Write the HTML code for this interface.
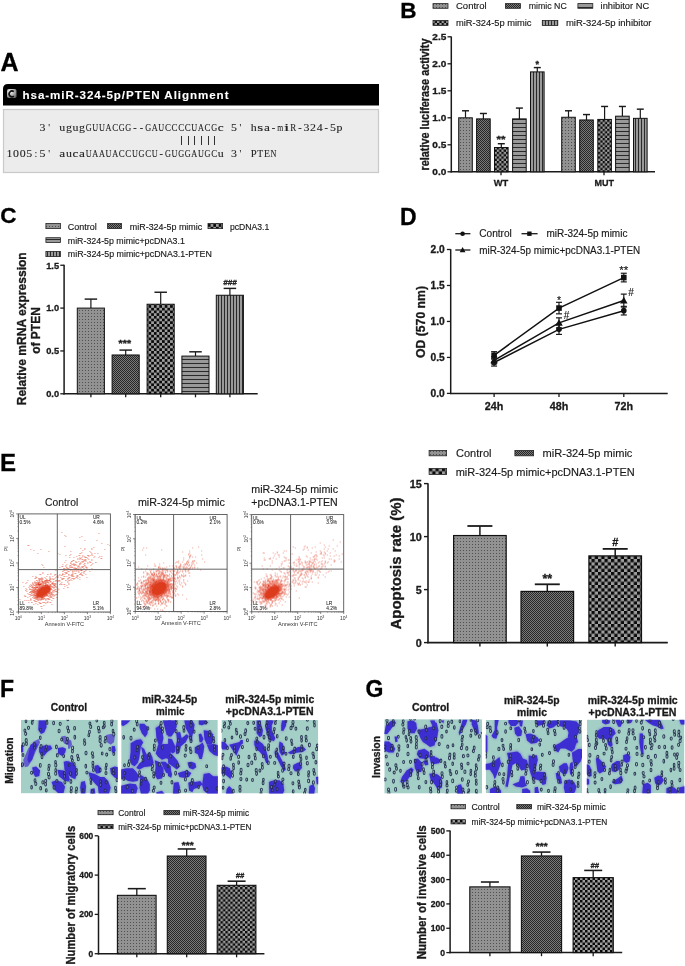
<!DOCTYPE html><html><head><meta charset="utf-8"><style>html,body{margin:0;padding:0;background:#fff;overflow:hidden;-webkit-font-smoothing:antialiased}text{-webkit-font-smoothing:antialiased}svg{display:block;will-change:transform}</style></head><body>
<svg width="685" height="966" viewBox="0 0 685 966" font-family='"Liberation Sans", sans-serif'>
<defs>
<pattern id="pDot" patternUnits="userSpaceOnUse" width="3" height="3"><rect width="3" height="3" fill="#929292"/><rect x="1" y="1" width="1" height="1" fill="#505050"/></pattern>
<pattern id="pFine" patternUnits="userSpaceOnUse" width="2" height="2"><rect width="2" height="2" fill="#7a7a7a"/><rect width="1" height="1" fill="#262626"/><rect x="1" y="1" width="1" height="1" fill="#262626"/></pattern>
<pattern id="pChkB" patternUnits="userSpaceOnUse" width="4.6" height="4.6"><rect width="4.6" height="4.6" fill="#9e9e9e"/><rect width="2.3" height="2.3" fill="#0a0a0a"/><rect x="2.3" y="2.3" width="2.3" height="2.3" fill="#0a0a0a"/></pattern>
<pattern id="pChkC" patternUnits="userSpaceOnUse" width="5.4" height="5.4"><rect width="5.4" height="5.4" fill="#9e9e9e"/><rect width="2.7" height="2.7" fill="#0a0a0a"/><rect x="2.7" y="2.7" width="2.7" height="2.7" fill="#0a0a0a"/></pattern>
<pattern id="pChkE" patternUnits="userSpaceOnUse" width="6.5" height="6.5"><rect width="6.5" height="6.5" fill="#9e9e9e"/><rect width="3.25" height="3.25" fill="#0a0a0a"/><rect x="3.25" y="3.25" width="3.25" height="3.25" fill="#0a0a0a"/></pattern>
<pattern id="pChkF" patternUnits="userSpaceOnUse" width="4.9" height="4.9"><rect width="4.9" height="4.9" fill="#9e9e9e"/><rect width="2.45" height="2.45" fill="#0a0a0a"/><rect x="2.45" y="2.45" width="2.45" height="2.45" fill="#0a0a0a"/></pattern>
<pattern id="pChkG" patternUnits="userSpaceOnUse" width="5.0" height="5.0"><rect width="5.0" height="5.0" fill="#9e9e9e"/><rect width="2.5" height="2.5" fill="#0a0a0a"/><rect x="2.5" y="2.5" width="2.5" height="2.5" fill="#0a0a0a"/></pattern>
<pattern id="pHS" patternUnits="userSpaceOnUse" width="4" height="4"><rect width="4" height="4" fill="#999"/><rect y="3" width="4" height="1" fill="#2a2a2a"/></pattern>
<pattern id="pVS" patternUnits="userSpaceOnUse" width="3" height="4"><rect width="3" height="4" fill="#999"/><rect x="2" width="1" height="4" fill="#2a2a2a"/></pattern>
<filter id="blur1" x="-20%" y="-20%" width="140%" height="140%"><feGaussianBlur stdDeviation="0.6"/></filter>
<filter id="blur2" x="-20%" y="-20%" width="140%" height="140%"><feGaussianBlur stdDeviation="1.2"/></filter>
<radialGradient id="icoG" cx="0.35" cy="0.3" r="0.8"><stop offset="0" stop-color="#fff"/><stop offset="1" stop-color="#666"/></radialGradient>
</defs>
<rect width="685" height="966" fill="#fff"/>
<text x="0.5" y="71" font-size="25" font-weight="bold" text-anchor="start" fill="#000" stroke="#000" stroke-width="0.3" >A</text>
<path d="M3,105.5 L3,89 Q3,84 8,84 L379,84 L379,105.5 Z" fill="#000"/>
<rect x="7" y="89" width="9.5" height="9" rx="1.8" fill="url(#icoG)"/>
<path d="M13.8,91.6 A2.9,2.9 0 1 0 13.8,96.2" fill="none" stroke="#111" stroke-width="1.6"/>
<text x="22.5" y="98.6" font-size="11.6" font-weight="bold" text-anchor="start" fill="#fff" stroke="#fff" stroke-width="0.1" textLength="206" lengthAdjust="spacing" >hsa-miR-324-5p/PTEN Alignment</text>
<rect x="3.50" y="109.50" width="375.00" height="63.00" fill="#ececec" stroke="#c9c9c9" stroke-width="1.2" />
<g font-size="10.2" fill="#222" font-family='"Liberation Serif", serif' stroke="#222" stroke-width="0.08"><text x="39.53" y="131.3" textLength="5.94" lengthAdjust="spacingAndGlyphs">3</text><text x="48.18" y="131.3" textLength="1.84" lengthAdjust="spacingAndGlyphs">&#39;</text><text x="59.33" y="131.3" textLength="5.94" lengthAdjust="spacingAndGlyphs">u</text><text x="65.93" y="131.3" textLength="5.94" lengthAdjust="spacingAndGlyphs">g</text><text x="72.53" y="131.3" textLength="5.94" lengthAdjust="spacingAndGlyphs">u</text><text x="79.13" y="131.3" textLength="5.94" lengthAdjust="spacingAndGlyphs">g</text><text x="85.73" y="131.3" textLength="5.94" lengthAdjust="spacingAndGlyphs">G</text><text x="92.33" y="131.3" textLength="5.94" lengthAdjust="spacingAndGlyphs">U</text><text x="98.93" y="131.3" textLength="5.94" lengthAdjust="spacingAndGlyphs">U</text><text x="105.53" y="131.3" textLength="5.94" lengthAdjust="spacingAndGlyphs">A</text><text x="112.13" y="131.3" textLength="5.94" lengthAdjust="spacingAndGlyphs">C</text><text x="118.73" y="131.3" textLength="5.94" lengthAdjust="spacingAndGlyphs">G</text><text x="125.33" y="131.3" textLength="5.94" lengthAdjust="spacingAndGlyphs">G</text><text x="133.20" y="131.3" textLength="3.40" lengthAdjust="spacingAndGlyphs">-</text><text x="139.80" y="131.3" textLength="3.40" lengthAdjust="spacingAndGlyphs">-</text><text x="145.13" y="131.3" textLength="5.94" lengthAdjust="spacingAndGlyphs">G</text><text x="151.73" y="131.3" textLength="5.94" lengthAdjust="spacingAndGlyphs">A</text><text x="158.33" y="131.3" textLength="5.94" lengthAdjust="spacingAndGlyphs">U</text><text x="164.93" y="131.3" textLength="5.94" lengthAdjust="spacingAndGlyphs">C</text><text x="171.53" y="131.3" textLength="5.94" lengthAdjust="spacingAndGlyphs">C</text><text x="178.13" y="131.3" textLength="5.94" lengthAdjust="spacingAndGlyphs">C</text><text x="184.73" y="131.3" textLength="5.94" lengthAdjust="spacingAndGlyphs">C</text><text x="191.33" y="131.3" textLength="5.94" lengthAdjust="spacingAndGlyphs">U</text><text x="197.93" y="131.3" textLength="5.94" lengthAdjust="spacingAndGlyphs">A</text><text x="204.53" y="131.3" textLength="5.94" lengthAdjust="spacingAndGlyphs">C</text><text x="211.13" y="131.3" textLength="5.94" lengthAdjust="spacingAndGlyphs">G</text><text x="217.73" y="131.3" textLength="5.94" lengthAdjust="spacingAndGlyphs">c</text><text x="230.93" y="131.3" textLength="5.94" lengthAdjust="spacingAndGlyphs">5</text><text x="239.58" y="131.3" textLength="1.84" lengthAdjust="spacingAndGlyphs">&#39;</text><text x="250.73" y="131.3" textLength="5.94" lengthAdjust="spacingAndGlyphs">h</text><text x="257.33" y="131.3" textLength="5.94" lengthAdjust="spacingAndGlyphs">s</text><text x="263.93" y="131.3" textLength="5.94" lengthAdjust="spacingAndGlyphs">a</text><text x="271.80" y="131.3" textLength="3.40" lengthAdjust="spacingAndGlyphs">-</text><text x="277.13" y="131.3" textLength="5.94" lengthAdjust="spacingAndGlyphs">m</text><text x="283.73" y="131.3" textLength="5.94" lengthAdjust="spacingAndGlyphs">i</text><text x="290.33" y="131.3" textLength="5.94" lengthAdjust="spacingAndGlyphs">R</text><text x="298.20" y="131.3" textLength="3.40" lengthAdjust="spacingAndGlyphs">-</text><text x="303.53" y="131.3" textLength="5.94" lengthAdjust="spacingAndGlyphs">3</text><text x="310.13" y="131.3" textLength="5.94" lengthAdjust="spacingAndGlyphs">2</text><text x="316.73" y="131.3" textLength="5.94" lengthAdjust="spacingAndGlyphs">4</text><text x="324.60" y="131.3" textLength="3.40" lengthAdjust="spacingAndGlyphs">-</text><text x="329.93" y="131.3" textLength="5.94" lengthAdjust="spacingAndGlyphs">5</text><text x="336.53" y="131.3" textLength="5.94" lengthAdjust="spacingAndGlyphs">p</text></g>
<g font-size="10.2" fill="#222" font-family='"Liberation Serif", serif' stroke="#222" stroke-width="0.08"><text x="6.53" y="157" textLength="5.94" lengthAdjust="spacingAndGlyphs">1</text><text x="13.13" y="157" textLength="5.94" lengthAdjust="spacingAndGlyphs">0</text><text x="19.73" y="157" textLength="5.94" lengthAdjust="spacingAndGlyphs">0</text><text x="26.33" y="157" textLength="5.94" lengthAdjust="spacingAndGlyphs">5</text><text x="34.48" y="157" textLength="2.83" lengthAdjust="spacingAndGlyphs">:</text><text x="39.53" y="157" textLength="5.94" lengthAdjust="spacingAndGlyphs">5</text><text x="48.18" y="157" textLength="1.84" lengthAdjust="spacingAndGlyphs">&#39;</text><text x="59.33" y="157" textLength="5.94" lengthAdjust="spacingAndGlyphs">a</text><text x="65.93" y="157" textLength="5.94" lengthAdjust="spacingAndGlyphs">u</text><text x="72.53" y="157" textLength="5.94" lengthAdjust="spacingAndGlyphs">c</text><text x="79.13" y="157" textLength="5.94" lengthAdjust="spacingAndGlyphs">a</text><text x="85.73" y="157" textLength="5.94" lengthAdjust="spacingAndGlyphs">U</text><text x="92.33" y="157" textLength="5.94" lengthAdjust="spacingAndGlyphs">A</text><text x="98.93" y="157" textLength="5.94" lengthAdjust="spacingAndGlyphs">A</text><text x="105.53" y="157" textLength="5.94" lengthAdjust="spacingAndGlyphs">U</text><text x="112.13" y="157" textLength="5.94" lengthAdjust="spacingAndGlyphs">A</text><text x="118.73" y="157" textLength="5.94" lengthAdjust="spacingAndGlyphs">C</text><text x="125.33" y="157" textLength="5.94" lengthAdjust="spacingAndGlyphs">C</text><text x="131.93" y="157" textLength="5.94" lengthAdjust="spacingAndGlyphs">U</text><text x="138.53" y="157" textLength="5.94" lengthAdjust="spacingAndGlyphs">G</text><text x="145.13" y="157" textLength="5.94" lengthAdjust="spacingAndGlyphs">C</text><text x="151.73" y="157" textLength="5.94" lengthAdjust="spacingAndGlyphs">U</text><text x="159.60" y="157" textLength="3.40" lengthAdjust="spacingAndGlyphs">-</text><text x="164.93" y="157" textLength="5.94" lengthAdjust="spacingAndGlyphs">G</text><text x="171.53" y="157" textLength="5.94" lengthAdjust="spacingAndGlyphs">U</text><text x="178.13" y="157" textLength="5.94" lengthAdjust="spacingAndGlyphs">G</text><text x="184.73" y="157" textLength="5.94" lengthAdjust="spacingAndGlyphs">G</text><text x="191.33" y="157" textLength="5.94" lengthAdjust="spacingAndGlyphs">A</text><text x="197.93" y="157" textLength="5.94" lengthAdjust="spacingAndGlyphs">U</text><text x="204.53" y="157" textLength="5.94" lengthAdjust="spacingAndGlyphs">G</text><text x="211.13" y="157" textLength="5.94" lengthAdjust="spacingAndGlyphs">C</text><text x="217.73" y="157" textLength="5.94" lengthAdjust="spacingAndGlyphs">u</text><text x="230.93" y="157" textLength="5.94" lengthAdjust="spacingAndGlyphs">3</text><text x="239.58" y="157" textLength="1.84" lengthAdjust="spacingAndGlyphs">&#39;</text><text x="250.73" y="157" textLength="5.94" lengthAdjust="spacingAndGlyphs">P</text><text x="257.33" y="157" textLength="5.94" lengthAdjust="spacingAndGlyphs">T</text><text x="263.93" y="157" textLength="5.94" lengthAdjust="spacingAndGlyphs">E</text><text x="270.53" y="157" textLength="5.94" lengthAdjust="spacingAndGlyphs">N</text></g>
<line x1="181.5" y1="136" x2="181.5" y2="145" stroke="#333" stroke-width="1.0"/>
<line x1="188.5" y1="136" x2="188.5" y2="145" stroke="#333" stroke-width="1.0"/>
<line x1="194.5" y1="136" x2="194.5" y2="145" stroke="#333" stroke-width="1.0"/>
<line x1="201.5" y1="136" x2="201.5" y2="145" stroke="#333" stroke-width="1.0"/>
<line x1="208.5" y1="136" x2="208.5" y2="145" stroke="#333" stroke-width="1.0"/>
<line x1="214.5" y1="136" x2="214.5" y2="145" stroke="#333" stroke-width="1.0"/>
<text x="400.3" y="17.6" font-size="22.5" font-weight="bold" text-anchor="start" fill="#000" stroke="#000" stroke-width="0.3" >B</text>
<rect x="433.00" y="3.60" width="15.00" height="4.70" fill="url(#pDot)" stroke="#222" stroke-width="0.8" />
<text x="456" y="8.9" font-size="9.5" text-anchor="start" fill="#1a1a1a" stroke="#1a1a1a" stroke-width="0.15" textLength="30.6" lengthAdjust="spacingAndGlyphs" >Control</text>
<rect x="505.40" y="3.60" width="15.00" height="4.70" fill="url(#pFine)" stroke="#222" stroke-width="0.8" />
<text x="528.8" y="8.9" font-size="9.5" text-anchor="start" fill="#1a1a1a" stroke="#1a1a1a" stroke-width="0.15" textLength="38" lengthAdjust="spacingAndGlyphs" >mimic NC</text>
<rect x="577.90" y="3.60" width="14.90" height="4.70" fill="url(#pHS)" stroke="#222" stroke-width="0.8" />
<text x="600.6" y="8.9" font-size="9.5" text-anchor="start" fill="#1a1a1a" stroke="#1a1a1a" stroke-width="0.15" textLength="48.5" lengthAdjust="spacingAndGlyphs" >inhibitor NC</text>
<rect x="433.00" y="20.40" width="15.00" height="5.10" fill="url(#pChkB)" stroke="#222" stroke-width="0.8" />
<text x="456" y="26.3" font-size="9.5" text-anchor="start" fill="#1a1a1a" stroke="#1a1a1a" stroke-width="0.15" textLength="75.5" lengthAdjust="spacingAndGlyphs" >miR-324-5p mimic</text>
<rect x="542.30" y="20.40" width="15.50" height="5.10" fill="url(#pVS)" stroke="#222" stroke-width="0.8" />
<text x="565.9" y="26.3" font-size="9.5" text-anchor="start" fill="#1a1a1a" stroke="#1a1a1a" stroke-width="0.15" textLength="85.6" lengthAdjust="spacingAndGlyphs" >miR-324-5p inhibitor</text>
<line x1="451.3" y1="36.5" x2="451.3" y2="172.5" stroke="#1a1a1a" stroke-width="1.5"/>
<line x1="450.6" y1="171.8" x2="655" y2="171.8" stroke="#1a1a1a" stroke-width="1.5"/>
<line x1="447.5" y1="171.8" x2="451.3" y2="171.8" stroke="#1a1a1a" stroke-width="1.3"/>
<text x="446.3" y="175.10000000000002" font-size="9.0" font-weight="bold" text-anchor="end" fill="#1a1a1a" stroke="#1a1a1a" stroke-width="0.3" textLength="14.0" lengthAdjust="spacingAndGlyphs" >0.0</text>
<line x1="447.5" y1="144.8" x2="451.3" y2="144.8" stroke="#1a1a1a" stroke-width="1.3"/>
<text x="446.3" y="148.10000000000002" font-size="9.0" font-weight="bold" text-anchor="end" fill="#1a1a1a" stroke="#1a1a1a" stroke-width="0.3" textLength="14.0" lengthAdjust="spacingAndGlyphs" >0.5</text>
<line x1="447.5" y1="117.80000000000001" x2="451.3" y2="117.80000000000001" stroke="#1a1a1a" stroke-width="1.3"/>
<text x="446.3" y="121.10000000000001" font-size="9.0" font-weight="bold" text-anchor="end" fill="#1a1a1a" stroke="#1a1a1a" stroke-width="0.3" textLength="14.0" lengthAdjust="spacingAndGlyphs" >1.0</text>
<line x1="447.5" y1="90.80000000000001" x2="451.3" y2="90.80000000000001" stroke="#1a1a1a" stroke-width="1.3"/>
<text x="446.3" y="94.10000000000001" font-size="9.0" font-weight="bold" text-anchor="end" fill="#1a1a1a" stroke="#1a1a1a" stroke-width="0.3" textLength="14.0" lengthAdjust="spacingAndGlyphs" >1.5</text>
<line x1="447.5" y1="63.80000000000001" x2="451.3" y2="63.80000000000001" stroke="#1a1a1a" stroke-width="1.3"/>
<text x="446.3" y="67.10000000000001" font-size="9.0" font-weight="bold" text-anchor="end" fill="#1a1a1a" stroke="#1a1a1a" stroke-width="0.3" textLength="14.0" lengthAdjust="spacingAndGlyphs" >2.0</text>
<line x1="447.5" y1="36.80000000000001" x2="451.3" y2="36.80000000000001" stroke="#1a1a1a" stroke-width="1.3"/>
<text x="446.3" y="40.10000000000001" font-size="9.0" font-weight="bold" text-anchor="end" fill="#1a1a1a" stroke="#1a1a1a" stroke-width="0.3" textLength="14.0" lengthAdjust="spacingAndGlyphs" >2.5</text>
<line x1="501" y1="171.8" x2="501" y2="175.3" stroke="#1a1a1a" stroke-width="1.3"/>
<line x1="604" y1="171.8" x2="604" y2="175.3" stroke="#1a1a1a" stroke-width="1.3"/>
<text x="501" y="186.3" font-size="9.5" font-weight="bold" text-anchor="middle" fill="#1a1a1a" stroke="#1a1a1a" stroke-width="0.3" textLength="14.5" lengthAdjust="spacingAndGlyphs" >WT</text>
<text x="604.3" y="186.3" font-size="9.5" font-weight="bold" text-anchor="middle" fill="#1a1a1a" stroke="#1a1a1a" stroke-width="0.3" textLength="19.5" lengthAdjust="spacingAndGlyphs" >MUT</text>
<g transform="translate(429.2,104.5) scale(1.1,1) rotate(-90)"><text x="0" y="0" font-size="10.8" font-weight="bold" text-anchor="middle" fill="#1a1a1a" stroke="#1a1a1a" stroke-width="0.3" textLength="132" lengthAdjust="spacingAndGlyphs">relative luciferase activity</text></g>
<line x1="465.5" y1="117.80000000000001" x2="465.5" y2="110.78000000000002" stroke="#1a1a1a" stroke-width="1.2"/>
<line x1="462.0" y1="110.78000000000002" x2="469.0" y2="110.78000000000002" stroke="#1a1a1a" stroke-width="1.44"/>
<rect x="458.70" y="117.80" width="13.60" height="54.00" fill="url(#pDot)" stroke="#111" stroke-width="1.0" />
<line x1="483.40000000000003" y1="118.88000000000001" x2="483.40000000000003" y2="113.48" stroke="#1a1a1a" stroke-width="1.2"/>
<line x1="479.90000000000003" y1="113.48" x2="486.90000000000003" y2="113.48" stroke="#1a1a1a" stroke-width="1.44"/>
<rect x="476.60" y="118.88" width="13.60" height="52.92" fill="url(#pFine)" stroke="#111" stroke-width="1.0" />
<line x1="501.3" y1="147.5" x2="501.3" y2="143.72" stroke="#1a1a1a" stroke-width="1.2"/>
<line x1="497.8" y1="143.72" x2="504.8" y2="143.72" stroke="#1a1a1a" stroke-width="1.44"/>
<rect x="494.50" y="147.50" width="13.60" height="24.30" fill="url(#pChkB)" stroke="#111" stroke-width="1.0" />
<line x1="519.4" y1="118.88000000000001" x2="519.4" y2="108.08000000000001" stroke="#1a1a1a" stroke-width="1.2"/>
<line x1="515.9" y1="108.08000000000001" x2="522.9" y2="108.08000000000001" stroke="#1a1a1a" stroke-width="1.44"/>
<rect x="512.60" y="118.88" width="13.60" height="52.92" fill="url(#pHS)" stroke="#111" stroke-width="1.0" />
<line x1="537.3000000000001" y1="71.9" x2="537.3000000000001" y2="67.58000000000001" stroke="#1a1a1a" stroke-width="1.2"/>
<line x1="533.8000000000001" y1="67.58000000000001" x2="540.8000000000001" y2="67.58000000000001" stroke="#1a1a1a" stroke-width="1.44"/>
<rect x="530.50" y="71.90" width="13.60" height="99.90" fill="url(#pVS)" stroke="#111" stroke-width="1.0" />
<line x1="568.5" y1="117.26000000000002" x2="568.5" y2="110.78000000000002" stroke="#1a1a1a" stroke-width="1.2"/>
<line x1="565.0" y1="110.78000000000002" x2="572.0" y2="110.78000000000002" stroke="#1a1a1a" stroke-width="1.44"/>
<rect x="561.70" y="117.26" width="13.60" height="54.54" fill="url(#pDot)" stroke="#111" stroke-width="1.0" />
<line x1="586.5" y1="119.96000000000001" x2="586.5" y2="114.56" stroke="#1a1a1a" stroke-width="1.2"/>
<line x1="583.0" y1="114.56" x2="590.0" y2="114.56" stroke="#1a1a1a" stroke-width="1.44"/>
<rect x="579.70" y="119.96" width="13.60" height="51.84" fill="url(#pFine)" stroke="#111" stroke-width="1.0" />
<line x1="604.6" y1="119.42000000000002" x2="604.6" y2="106.46000000000001" stroke="#1a1a1a" stroke-width="1.2"/>
<line x1="601.1" y1="106.46000000000001" x2="608.1" y2="106.46000000000001" stroke="#1a1a1a" stroke-width="1.44"/>
<rect x="597.80" y="119.42" width="13.60" height="52.38" fill="url(#pChkB)" stroke="#111" stroke-width="1.0" />
<line x1="622.4" y1="116.18" x2="622.4" y2="106.46000000000001" stroke="#1a1a1a" stroke-width="1.2"/>
<line x1="618.9" y1="106.46000000000001" x2="625.9" y2="106.46000000000001" stroke="#1a1a1a" stroke-width="1.44"/>
<rect x="615.60" y="116.18" width="13.60" height="55.62" fill="url(#pHS)" stroke="#111" stroke-width="1.0" />
<line x1="640.3000000000001" y1="118.34" x2="640.3000000000001" y2="109.16000000000003" stroke="#1a1a1a" stroke-width="1.2"/>
<line x1="636.8000000000001" y1="109.16000000000003" x2="643.8000000000001" y2="109.16000000000003" stroke="#1a1a1a" stroke-width="1.44"/>
<rect x="633.50" y="118.34" width="13.60" height="53.46" fill="url(#pVS)" stroke="#111" stroke-width="1.0" />
<text x="500.9" y="142.3" font-size="9" font-weight="bold" text-anchor="middle" fill="#1a1a1a" stroke="#1a1a1a" stroke-width="0.3" textLength="9" lengthAdjust="spacingAndGlyphs" >**</text>
<text x="537.2" y="66.5" font-size="9" font-weight="bold" text-anchor="middle" fill="#1a1a1a" stroke="#1a1a1a" stroke-width="0.3" >*</text>
<text x="0.3" y="222.8" font-size="22.5" font-weight="bold" text-anchor="start" fill="#000" stroke="#000" stroke-width="0.3" >C</text>
<rect x="45.90" y="223.50" width="14.50" height="5.10" fill="url(#pDot)" stroke="#222" stroke-width="0.8" />
<text x="67.8" y="229.6" font-size="9" text-anchor="start" fill="#1a1a1a" stroke="#1a1a1a" stroke-width="0.15" textLength="29" lengthAdjust="spacingAndGlyphs" >Control</text>
<rect x="107.60" y="223.50" width="13.90" height="5.10" fill="url(#pFine)" stroke="#222" stroke-width="0.8" />
<text x="129.8" y="229.6" font-size="9" text-anchor="start" fill="#1a1a1a" stroke="#1a1a1a" stroke-width="0.15" textLength="72.4" lengthAdjust="spacingAndGlyphs" >miR-324-5p mimic</text>
<rect x="208.00" y="223.50" width="14.60" height="5.10" fill="url(#pChkC)" stroke="#222" stroke-width="0.8" />
<text x="230" y="229.6" font-size="9" text-anchor="start" fill="#1a1a1a" stroke="#1a1a1a" stroke-width="0.15" textLength="39.3" lengthAdjust="spacingAndGlyphs" >pcDNA3.1</text>
<rect x="45.90" y="237.70" width="14.50" height="4.90" fill="url(#pHS)" stroke="#222" stroke-width="0.8" />
<text x="67.8" y="243.6" font-size="9" text-anchor="start" fill="#1a1a1a" stroke="#1a1a1a" stroke-width="0.15" textLength="117" lengthAdjust="spacingAndGlyphs" >miR-324-5p mimic+pcDNA3.1</text>
<rect x="45.90" y="251.40" width="14.50" height="5.20" fill="url(#pVS)" stroke="#222" stroke-width="0.8" />
<text x="67.8" y="257.3" font-size="9" text-anchor="start" fill="#1a1a1a" stroke="#1a1a1a" stroke-width="0.15" textLength="144" lengthAdjust="spacingAndGlyphs" >miR-324-5p mimic+pcDNA3.1-PTEN</text>
<line x1="64.1" y1="264.8" x2="64.1" y2="394.5" stroke="#1a1a1a" stroke-width="1.5"/>
<line x1="63.39999999999999" y1="393.8" x2="257.7" y2="393.8" stroke="#1a1a1a" stroke-width="1.5"/>
<line x1="60.3" y1="393.8" x2="64.1" y2="393.8" stroke="#1a1a1a" stroke-width="1.3"/>
<text x="59.1" y="397.1" font-size="9.0" font-weight="bold" text-anchor="end" fill="#1a1a1a" stroke="#1a1a1a" stroke-width="0.3" textLength="12.9" lengthAdjust="spacingAndGlyphs" >0.0</text>
<line x1="60.3" y1="350.95" x2="64.1" y2="350.95" stroke="#1a1a1a" stroke-width="1.3"/>
<text x="59.1" y="354.25" font-size="9.0" font-weight="bold" text-anchor="end" fill="#1a1a1a" stroke="#1a1a1a" stroke-width="0.3" textLength="12.9" lengthAdjust="spacingAndGlyphs" >0.5</text>
<line x1="60.3" y1="308.1" x2="64.1" y2="308.1" stroke="#1a1a1a" stroke-width="1.3"/>
<text x="59.1" y="311.40000000000003" font-size="9.0" font-weight="bold" text-anchor="end" fill="#1a1a1a" stroke="#1a1a1a" stroke-width="0.3" textLength="12.9" lengthAdjust="spacingAndGlyphs" >1.0</text>
<line x1="60.3" y1="265.25" x2="64.1" y2="265.25" stroke="#1a1a1a" stroke-width="1.3"/>
<text x="59.1" y="268.55" font-size="9.0" font-weight="bold" text-anchor="end" fill="#1a1a1a" stroke="#1a1a1a" stroke-width="0.3" textLength="12.9" lengthAdjust="spacingAndGlyphs" >1.5</text>
<line x1="90.89999999999999" y1="308.1" x2="90.89999999999999" y2="299.1015" stroke="#1a1a1a" stroke-width="1.2"/>
<line x1="84.64999999999999" y1="299.1015" x2="97.14999999999999" y2="299.1015" stroke="#1a1a1a" stroke-width="1.44"/>
<rect x="77.30" y="308.10" width="27.10" height="85.70" fill="url(#pDot)" stroke="#111" stroke-width="1.0" />
<line x1="90.89999999999999" y1="393.8" x2="90.89999999999999" y2="397.3" stroke="#1a1a1a" stroke-width="1.3"/>
<line x1="125.69999999999999" y1="354.97790000000003" x2="125.69999999999999" y2="350.093" stroke="#1a1a1a" stroke-width="1.2"/>
<line x1="119.44999999999999" y1="350.093" x2="131.95" y2="350.093" stroke="#1a1a1a" stroke-width="1.44"/>
<rect x="112.10" y="354.98" width="27.10" height="38.82" fill="url(#pFine)" stroke="#111" stroke-width="1.0" />
<line x1="125.69999999999999" y1="393.8" x2="125.69999999999999" y2="397.3" stroke="#1a1a1a" stroke-width="1.3"/>
<line x1="160.7" y1="304.24350000000004" x2="160.7" y2="292.2455" stroke="#1a1a1a" stroke-width="1.2"/>
<line x1="154.45" y1="292.2455" x2="166.95" y2="292.2455" stroke="#1a1a1a" stroke-width="1.44"/>
<rect x="147.10" y="304.24" width="27.10" height="89.56" fill="url(#pChkC)" stroke="#111" stroke-width="1.0" />
<line x1="160.7" y1="393.8" x2="160.7" y2="397.3" stroke="#1a1a1a" stroke-width="1.3"/>
<line x1="195.5" y1="356.092" x2="195.5" y2="351.807" stroke="#1a1a1a" stroke-width="1.2"/>
<line x1="189.25" y1="351.807" x2="201.75" y2="351.807" stroke="#1a1a1a" stroke-width="1.44"/>
<rect x="181.90" y="356.09" width="27.10" height="37.71" fill="url(#pHS)" stroke="#111" stroke-width="1.0" />
<line x1="195.5" y1="393.8" x2="195.5" y2="397.3" stroke="#1a1a1a" stroke-width="1.3"/>
<line x1="229.9" y1="295.245" x2="229.9" y2="288.389" stroke="#1a1a1a" stroke-width="1.2"/>
<line x1="223.65" y1="288.389" x2="236.15" y2="288.389" stroke="#1a1a1a" stroke-width="1.44"/>
<rect x="216.30" y="295.25" width="27.10" height="98.56" fill="url(#pVS)" stroke="#111" stroke-width="1.0" />
<line x1="229.9" y1="393.8" x2="229.9" y2="397.3" stroke="#1a1a1a" stroke-width="1.3"/>
<text x="124.3" y="346.3" font-size="9" font-weight="bold" text-anchor="middle" fill="#1a1a1a" stroke="#1a1a1a" stroke-width="0.3" textLength="12.6" lengthAdjust="spacingAndGlyphs" font-style="italic">***</text>
<text x="230" y="285.3" font-size="8" font-weight="bold" text-anchor="middle" fill="#1a1a1a" stroke="#1a1a1a" stroke-width="0.3" font-style="italic">###</text>
<g transform="translate(25.7,328.8) scale(1.1,1) rotate(-90)"><text x="0" y="0" font-size="12" font-weight="bold" text-anchor="middle" fill="#1a1a1a" stroke="#1a1a1a" stroke-width="0.3" textLength="153" lengthAdjust="spacingAndGlyphs">Relative mRNA expression</text></g>
<g transform="translate(39.8,330.5) scale(1.1,1) rotate(-90)"><text x="0" y="0" font-size="12" font-weight="bold" text-anchor="middle" fill="#1a1a1a" stroke="#1a1a1a" stroke-width="0.3">of PTEN</text></g>
<text x="399.9" y="224.8" font-size="23" font-weight="bold" text-anchor="start" fill="#000" stroke="#000" stroke-width="0.3" >D</text>
<line x1="455.3" y1="233.7" x2="470.4" y2="233.7" stroke="#1a1a1a" stroke-width="1.3"/>
<circle cx="462.60" cy="233.70" r="2.3" fill="#111"/>
<text x="479.2" y="237.3" font-size="10" text-anchor="start" fill="#1a1a1a" stroke="#1a1a1a" stroke-width="0.15" textLength="32.7" lengthAdjust="spacingAndGlyphs" >Control</text>
<line x1="521.5" y1="233.7" x2="537.6" y2="233.7" stroke="#1a1a1a" stroke-width="1.3"/>
<rect x="527.20" y="231.50" width="4.40" height="4.40" fill="#111"/>
<text x="546.4" y="237.3" font-size="10" text-anchor="start" fill="#1a1a1a" stroke="#1a1a1a" stroke-width="0.15" textLength="81" lengthAdjust="spacingAndGlyphs" >miR-324-5p mimic</text>
<line x1="455.3" y1="250" x2="470.4" y2="250" stroke="#1a1a1a" stroke-width="1.3"/>
<path d="M462.60,247.12 L465.48,252.30 L459.72,252.30 Z" fill="#111"/>
<text x="479.2" y="253.6" font-size="10" text-anchor="start" fill="#1a1a1a" stroke="#1a1a1a" stroke-width="0.15" textLength="161" lengthAdjust="spacingAndGlyphs" >miR-324-5p mimic+pcDNA3.1-PTEN</text>
<line x1="450.7" y1="249.2" x2="450.7" y2="394.09999999999997" stroke="#1a1a1a" stroke-width="1.5"/>
<line x1="450.0" y1="393.4" x2="667.7" y2="393.4" stroke="#1a1a1a" stroke-width="1.5"/>
<line x1="446.9" y1="393.4" x2="450.7" y2="393.4" stroke="#1a1a1a" stroke-width="1.3"/>
<text x="444.7" y="397.29999999999995" font-size="10.0" font-weight="bold" text-anchor="end" fill="#1a1a1a" stroke="#1a1a1a" stroke-width="0.3" textLength="14.2" lengthAdjust="spacingAndGlyphs" >0.0</text>
<line x1="446.9" y1="357.42499999999995" x2="450.7" y2="357.42499999999995" stroke="#1a1a1a" stroke-width="1.3"/>
<text x="444.7" y="361.32499999999993" font-size="10.0" font-weight="bold" text-anchor="end" fill="#1a1a1a" stroke="#1a1a1a" stroke-width="0.3" textLength="14.2" lengthAdjust="spacingAndGlyphs" >0.5</text>
<line x1="446.9" y1="321.45" x2="450.7" y2="321.45" stroke="#1a1a1a" stroke-width="1.3"/>
<text x="444.7" y="325.34999999999997" font-size="10.0" font-weight="bold" text-anchor="end" fill="#1a1a1a" stroke="#1a1a1a" stroke-width="0.3" textLength="14.2" lengthAdjust="spacingAndGlyphs" >1.0</text>
<line x1="446.9" y1="285.47499999999997" x2="450.7" y2="285.47499999999997" stroke="#1a1a1a" stroke-width="1.3"/>
<text x="444.7" y="289.37499999999994" font-size="10.0" font-weight="bold" text-anchor="end" fill="#1a1a1a" stroke="#1a1a1a" stroke-width="0.3" textLength="14.2" lengthAdjust="spacingAndGlyphs" >1.5</text>
<line x1="446.9" y1="249.49999999999997" x2="450.7" y2="249.49999999999997" stroke="#1a1a1a" stroke-width="1.3"/>
<text x="444.7" y="253.39999999999998" font-size="10.0" font-weight="bold" text-anchor="end" fill="#1a1a1a" stroke="#1a1a1a" stroke-width="0.3" textLength="14.2" lengthAdjust="spacingAndGlyphs" >2.0</text>
<line x1="494.1" y1="393.4" x2="494.1" y2="397.09999999999997" stroke="#1a1a1a" stroke-width="1.3"/>
<text x="494.1" y="409.6" font-size="10.8" font-weight="bold" text-anchor="middle" fill="#1a1a1a" stroke="#1a1a1a" stroke-width="0.3" textLength="18.5" lengthAdjust="spacingAndGlyphs" >24h</text>
<line x1="559" y1="393.4" x2="559" y2="397.09999999999997" stroke="#1a1a1a" stroke-width="1.3"/>
<text x="559" y="409.6" font-size="10.8" font-weight="bold" text-anchor="middle" fill="#1a1a1a" stroke="#1a1a1a" stroke-width="0.3" textLength="18.5" lengthAdjust="spacingAndGlyphs" >48h</text>
<line x1="623.8" y1="393.4" x2="623.8" y2="397.09999999999997" stroke="#1a1a1a" stroke-width="1.3"/>
<text x="623.8" y="409.6" font-size="10.8" font-weight="bold" text-anchor="middle" fill="#1a1a1a" stroke="#1a1a1a" stroke-width="0.3" textLength="18.5" lengthAdjust="spacingAndGlyphs" >72h</text>
<polyline points="494.10,362.46 559.00,329.36 623.80,310.66" fill="none" stroke="#111" stroke-width="1.5"/>
<polyline points="494.10,360.30 559.00,322.89 623.80,300.58" fill="none" stroke="#111" stroke-width="1.5"/>
<polyline points="494.10,355.27 559.00,308.07 623.80,277.56" fill="none" stroke="#111" stroke-width="1.5"/>
<line x1="494.1" y1="366.05899999999997" x2="494.1" y2="358.864" stroke="#1a1a1a" stroke-width="1.2"/>
<line x1="491.1" y1="366.05899999999997" x2="497.1" y2="366.05899999999997" stroke="#1a1a1a" stroke-width="1.2"/>
<line x1="491.1" y1="358.864" x2="497.1" y2="358.864" stroke="#1a1a1a" stroke-width="1.2"/>
<circle cx="494.10" cy="362.46" r="2.8" fill="#111"/>
<line x1="559" y1="334.40099999999995" x2="559" y2="324.328" stroke="#1a1a1a" stroke-width="1.2"/>
<line x1="556" y1="334.40099999999995" x2="562" y2="334.40099999999995" stroke="#1a1a1a" stroke-width="1.2"/>
<line x1="556" y1="324.328" x2="562" y2="324.328" stroke="#1a1a1a" stroke-width="1.2"/>
<circle cx="559.00" cy="329.36" r="2.8" fill="#111"/>
<line x1="623.8" y1="314.9745" x2="623.8" y2="306.34049999999996" stroke="#1a1a1a" stroke-width="1.2"/>
<line x1="620.8" y1="314.9745" x2="626.8" y2="314.9745" stroke="#1a1a1a" stroke-width="1.2"/>
<line x1="620.8" y1="306.34049999999996" x2="626.8" y2="306.34049999999996" stroke="#1a1a1a" stroke-width="1.2"/>
<circle cx="623.80" cy="310.66" r="2.8" fill="#111"/>
<line x1="494.1" y1="363.90049999999997" x2="494.1" y2="356.7055" stroke="#1a1a1a" stroke-width="1.2"/>
<line x1="491.1" y1="363.90049999999997" x2="497.1" y2="363.90049999999997" stroke="#1a1a1a" stroke-width="1.2"/>
<line x1="491.1" y1="356.7055" x2="497.1" y2="356.7055" stroke="#1a1a1a" stroke-width="1.2"/>
<path d="M494.10,356.58 L497.82,363.28 L490.38,363.28 Z" fill="#111"/>
<line x1="559" y1="327.9255" x2="559" y2="317.85249999999996" stroke="#1a1a1a" stroke-width="1.2"/>
<line x1="556" y1="327.9255" x2="562" y2="327.9255" stroke="#1a1a1a" stroke-width="1.2"/>
<line x1="556" y1="317.85249999999996" x2="562" y2="317.85249999999996" stroke="#1a1a1a" stroke-width="1.2"/>
<path d="M559.00,319.17 L562.72,325.87 L555.28,325.87 Z" fill="#111"/>
<line x1="623.8" y1="307.05999999999995" x2="623.8" y2="294.109" stroke="#1a1a1a" stroke-width="1.2"/>
<line x1="620.8" y1="307.05999999999995" x2="626.8" y2="307.05999999999995" stroke="#1a1a1a" stroke-width="1.2"/>
<line x1="620.8" y1="294.109" x2="626.8" y2="294.109" stroke="#1a1a1a" stroke-width="1.2"/>
<path d="M623.80,296.86 L627.52,303.56 L620.08,303.56 Z" fill="#111"/>
<line x1="494.1" y1="358.864" x2="494.1" y2="351.669" stroke="#1a1a1a" stroke-width="1.2"/>
<line x1="491.1" y1="358.864" x2="497.1" y2="358.864" stroke="#1a1a1a" stroke-width="1.2"/>
<line x1="491.1" y1="351.669" x2="497.1" y2="351.669" stroke="#1a1a1a" stroke-width="1.2"/>
<rect x="491.30" y="352.47" width="5.60" height="5.60" fill="#111"/>
<line x1="559" y1="313.8233" x2="559" y2="302.31129999999996" stroke="#1a1a1a" stroke-width="1.2"/>
<line x1="556" y1="313.8233" x2="562" y2="313.8233" stroke="#1a1a1a" stroke-width="1.2"/>
<line x1="556" y1="302.31129999999996" x2="562" y2="302.31129999999996" stroke="#1a1a1a" stroke-width="1.2"/>
<rect x="556.20" y="305.27" width="5.60" height="5.60" fill="#111"/>
<line x1="623.8" y1="281.87749999999994" x2="623.8" y2="273.2434999999999" stroke="#1a1a1a" stroke-width="1.2"/>
<line x1="620.8" y1="281.87749999999994" x2="626.8" y2="281.87749999999994" stroke="#1a1a1a" stroke-width="1.2"/>
<line x1="620.8" y1="273.2434999999999" x2="626.8" y2="273.2434999999999" stroke="#1a1a1a" stroke-width="1.2"/>
<rect x="621.00" y="274.76" width="5.60" height="5.60" fill="#111"/>
<text x="559" y="303.5" font-size="10.5" text-anchor="middle" fill="#1a1a1a" stroke="#1a1a1a" stroke-width="0.15" >*</text>
<text x="566.5" y="319.2" font-size="10" text-anchor="middle" fill="#1a1a1a" stroke="#1a1a1a" stroke-width="0.15" >#</text>
<text x="623.8" y="273.5" font-size="10.5" text-anchor="middle" fill="#1a1a1a" stroke="#1a1a1a" stroke-width="0.15" textLength="9" lengthAdjust="spacingAndGlyphs" >**</text>
<text x="631" y="296.2" font-size="10" text-anchor="middle" fill="#1a1a1a" stroke="#1a1a1a" stroke-width="0.15" >#</text>
<g transform="translate(424.5,322) scale(1.05,1) rotate(-90)"><text x="0" y="0" font-size="11.5" font-weight="bold" text-anchor="middle" fill="#1a1a1a" stroke="#1a1a1a" stroke-width="0.3" textLength="72" lengthAdjust="spacingAndGlyphs">OD (570 nm)</text></g>
<text x="0" y="471.3" font-size="24" font-weight="bold" text-anchor="start" fill="#000" stroke="#000" stroke-width="0.3" >E</text>
<text x="61.6" y="505.9" font-size="10.5" text-anchor="middle" fill="#1a1a1a" stroke="#1a1a1a" stroke-width="0.15" textLength="33.2" lengthAdjust="spacingAndGlyphs" >Control</text>
<text x="181.4" y="505.6" font-size="10.5" text-anchor="middle" fill="#1a1a1a" stroke="#1a1a1a" stroke-width="0.15" textLength="86.9" lengthAdjust="spacingAndGlyphs" >miR-324-5p mimic</text>
<text x="294.7" y="492.8" font-size="10.5" text-anchor="middle" fill="#1a1a1a" stroke="#1a1a1a" stroke-width="0.15" textLength="86.7" lengthAdjust="spacingAndGlyphs" >miR-324-5p mimic</text>
<text x="294.5" y="505.7" font-size="10.5" text-anchor="middle" fill="#1a1a1a" stroke="#1a1a1a" stroke-width="0.15" textLength="86.4" lengthAdjust="spacingAndGlyphs" >+pcDNA3.1-PTEN</text>
<path d="M61.4 531.9h1v1h-1zM98.4 532.9h1v1h-1zM64.4 534.9h1v1h-1zM65.4 535.9h1v1h-1zM81.4 535.9h1v1h-1zM79.4 536.9h1v1h-1zM84.4 539.9h1v1h-1zM96.4 539.9h1v1h-1zM101.4 542.9h1v1h-1zM107.4 543.9h1v1h-1zM27.4 544.9h2v1h-2zM109.4 544.9h1v1h-1zM64.4 545.9h1v1h-1zM93.4 546.9h1v1h-1zM80.4 547.9h1v1h-1zM84.4 547.9h1v1h-1zM91.4 547.9h1v1h-1zM30.4 548.9h1v1h-1zM40.4 548.9h1v1h-1zM84.4 548.9h1v1h-1zM91.4 548.9h1v1h-1zM104.4 548.9h1v1h-1zM33.4 549.9h1v1h-1zM82.4 549.9h1v1h-1zM48.4 550.9h1v1h-1zM70.4 550.9h1v1h-1zM89.4 550.9h1v1h-1zM81.4 551.9h1v1h-1zM90.4 551.9h1v1h-1zM37.4 552.9h1v1h-1zM57.4 552.9h1v1h-1zM79.4 552.9h2v1h-2zM91.4 552.9h1v1h-1zM94.4 552.9h1v1h-1zM97.4 552.9h1v1h-1zM59.4 553.9h1v1h-1zM70.4 553.9h1v1h-1zM91.4 553.9h1v1h-1zM65.4 554.9h1v1h-1zM69.4 554.9h1v1h-1zM78.4 554.9h2v1h-2zM82.4 554.9h1v1h-1zM88.4 554.9h1v1h-1zM90.4 554.9h1v1h-1zM92.4 554.9h1v1h-1zM76.4 555.9h1v1h-1zM82.4 555.9h1v1h-1zM84.4 555.9h1v1h-1zM88.4 555.9h1v1h-1zM94.4 555.9h1v1h-1zM99.4 555.9h1v1h-1zM101.4 555.9h1v1h-1zM69.4 556.9h1v1h-1zM73.4 556.9h1v1h-1zM79.4 556.9h1v1h-1zM81.4 556.9h1v1h-1zM84.4 556.9h1v1h-1zM86.4 556.9h1v1h-1zM93.4 556.9h1v1h-1zM98.4 556.9h1v1h-1zM77.4 557.9h1v1h-1zM79.4 557.9h2v1h-2zM87.4 557.9h1v1h-1zM100.4 557.9h2v1h-2zM77.4 558.9h1v1h-1zM79.4 558.9h1v1h-1zM81.4 558.9h2v1h-2zM84.4 558.9h2v1h-2zM88.4 558.9h1v1h-1zM91.4 558.9h1v1h-1zM65.4 559.9h1v1h-1zM72.4 559.9h1v1h-1zM83.4 559.9h3v1h-3zM91.4 559.9h1v1h-1zM75.4 560.9h1v1h-1zM78.4 560.9h1v1h-1zM81.4 560.9h3v1h-3zM85.4 560.9h1v1h-1zM89.4 560.9h1v1h-1zM64.4 561.9h1v1h-1zM70.4 561.9h1v1h-1zM75.4 561.9h2v1h-2zM80.4 561.9h1v1h-1zM82.4 561.9h1v1h-1zM87.4 561.9h1v1h-1zM89.4 561.9h2v1h-2zM73.4 562.9h1v1h-1zM80.4 562.9h1v1h-1zM87.4 562.9h1v1h-1zM92.4 562.9h1v1h-1zM41.4 563.9h1v1h-1zM62.4 563.9h1v1h-1zM66.4 563.9h1v1h-1zM71.4 563.9h5v1h-5zM83.4 563.9h1v1h-1zM91.4 563.9h1v1h-1zM42.4 564.9h1v1h-1zM65.4 564.9h1v1h-1zM69.4 564.9h2v1h-2zM73.4 564.9h2v1h-2zM76.4 564.9h1v1h-1zM78.4 564.9h1v1h-1zM90.4 564.9h1v1h-1zM61.4 565.9h2v1h-2zM65.4 565.9h1v1h-1zM69.4 565.9h1v1h-1zM71.4 565.9h1v1h-1zM77.4 565.9h1v1h-1zM81.4 565.9h3v1h-3zM85.4 565.9h1v1h-1zM43.4 566.9h1v1h-1zM59.4 566.9h1v1h-1zM69.4 566.9h4v1h-4zM74.4 566.9h1v1h-1zM77.4 566.9h1v1h-1zM79.4 566.9h1v1h-1zM81.4 566.9h2v1h-2zM85.4 566.9h1v1h-1zM64.4 567.9h1v1h-1zM66.4 567.9h3v1h-3zM73.4 567.9h2v1h-2zM78.4 567.9h1v1h-1zM80.4 567.9h1v1h-1zM83.4 567.9h1v1h-1zM86.4 567.9h1v1h-1zM91.4 567.9h1v1h-1zM61.4 568.9h1v1h-1zM68.4 568.9h4v1h-4zM74.4 568.9h2v1h-2zM78.4 568.9h1v1h-1zM55.4 569.9h1v1h-1zM63.4 569.9h2v1h-2zM66.4 569.9h1v1h-1zM70.4 569.9h1v1h-1zM72.4 569.9h1v1h-1zM74.4 569.9h1v1h-1zM76.4 569.9h1v1h-1zM78.4 569.9h1v1h-1zM85.4 569.9h1v1h-1zM67.4 570.9h1v1h-1zM74.4 570.9h1v1h-1zM76.4 570.9h1v1h-1zM78.4 570.9h1v1h-1zM83.4 570.9h2v1h-2zM89.4 570.9h1v1h-1zM42.4 571.9h1v1h-1zM64.4 571.9h3v1h-3zM72.4 571.9h1v1h-1zM78.4 571.9h1v1h-1zM81.4 571.9h1v1h-1zM83.4 571.9h1v1h-1zM42.4 572.9h1v1h-1zM50.4 572.9h1v1h-1zM62.4 572.9h1v1h-1zM65.4 572.9h1v1h-1zM72.4 572.9h1v1h-1zM74.4 572.9h2v1h-2zM83.4 572.9h1v1h-1zM39.4 573.9h2v1h-2zM50.4 573.9h1v1h-1zM54.4 573.9h2v1h-2zM59.4 573.9h1v1h-1zM64.4 573.9h1v1h-1zM72.4 573.9h1v1h-1zM80.4 573.9h2v1h-2zM85.4 573.9h1v1h-1zM54.4 574.9h1v1h-1zM57.4 574.9h1v1h-1zM59.4 574.9h1v1h-1zM68.4 574.9h1v1h-1zM70.4 574.9h3v1h-3zM76.4 574.9h2v1h-2zM81.4 574.9h2v1h-2zM32.4 575.9h1v1h-1zM35.4 575.9h1v1h-1zM46.4 575.9h1v1h-1zM49.4 575.9h1v1h-1zM52.4 575.9h1v1h-1zM56.4 575.9h2v1h-2zM63.4 575.9h2v1h-2zM66.4 575.9h1v1h-1zM71.4 575.9h3v1h-3zM76.4 575.9h2v1h-2zM35.4 576.9h2v1h-2zM41.4 576.9h1v1h-1zM44.4 576.9h1v1h-1zM49.4 576.9h1v1h-1zM55.4 576.9h1v1h-1zM60.4 576.9h1v1h-1zM68.4 576.9h2v1h-2zM75.4 576.9h2v1h-2zM79.4 576.9h1v1h-1zM86.4 576.9h1v1h-1zM34.4 577.9h2v1h-2zM39.4 577.9h4v1h-4zM45.4 577.9h1v1h-1zM49.4 577.9h2v1h-2zM52.4 577.9h1v1h-1zM54.4 577.9h1v1h-1zM61.4 577.9h2v1h-2zM67.4 577.9h2v1h-2zM71.4 577.9h4v1h-4zM77.4 577.9h1v1h-1zM38.4 578.9h1v1h-1zM40.4 578.9h3v1h-3zM50.4 578.9h1v1h-1zM52.4 578.9h2v1h-2zM61.4 578.9h2v1h-2zM67.4 578.9h1v1h-1zM70.4 578.9h1v1h-1zM73.4 578.9h1v1h-1zM79.4 578.9h1v1h-1zM27.4 579.9h1v1h-1zM38.4 579.9h2v1h-2zM56.4 579.9h1v1h-1zM59.4 579.9h1v1h-1zM68.4 579.9h2v1h-2zM71.4 579.9h1v1h-1zM34.4 580.9h1v1h-1zM37.4 580.9h1v1h-1zM43.4 580.9h1v1h-1zM46.4 580.9h1v1h-1zM49.4 580.9h1v1h-1zM53.4 580.9h1v1h-1zM55.4 580.9h1v1h-1zM59.4 580.9h1v1h-1zM67.4 580.9h1v1h-1zM22.4 581.9h1v1h-1zM26.4 581.9h1v1h-1zM32.4 581.9h1v1h-1zM35.4 581.9h2v1h-2zM41.4 581.9h1v1h-1zM44.4 581.9h1v1h-1zM46.4 581.9h1v1h-1zM48.4 581.9h1v1h-1zM50.4 581.9h1v1h-1zM61.4 581.9h1v1h-1zM67.4 581.9h1v1h-1zM25.4 582.9h1v1h-1zM34.4 582.9h3v1h-3zM39.4 582.9h1v1h-1zM42.4 582.9h1v1h-1zM44.4 582.9h1v1h-1zM48.4 582.9h1v1h-1zM53.4 582.9h3v1h-3zM60.4 582.9h1v1h-1zM68.4 582.9h1v1h-1zM30.4 583.9h1v1h-1zM32.4 583.9h2v1h-2zM42.4 583.9h2v1h-2zM46.4 583.9h2v1h-2zM49.4 583.9h1v1h-1zM53.4 583.9h3v1h-3zM63.4 583.9h2v1h-2zM68.4 583.9h1v1h-1zM29.4 584.9h1v1h-1zM33.4 584.9h1v1h-1zM35.4 584.9h1v1h-1zM37.4 584.9h1v1h-1zM40.4 584.9h2v1h-2zM49.4 584.9h2v1h-2zM66.4 584.9h1v1h-1zM23.4 585.9h1v1h-1zM29.4 585.9h2v1h-2zM36.4 585.9h3v1h-3zM40.4 585.9h1v1h-1zM47.4 585.9h1v1h-1zM52.4 585.9h1v1h-1zM54.4 585.9h1v1h-1zM64.4 585.9h1v1h-1zM28.4 586.9h1v1h-1zM38.4 586.9h1v1h-1zM49.4 586.9h1v1h-1zM53.4 586.9h2v1h-2zM56.4 586.9h1v1h-1zM25.4 587.9h1v1h-1zM29.4 587.9h1v1h-1zM32.4 587.9h3v1h-3zM37.4 587.9h1v1h-1zM53.4 587.9h1v1h-1zM57.4 587.9h1v1h-1zM63.4 587.9h1v1h-1zM26.4 588.9h1v1h-1zM30.4 588.9h4v1h-4zM36.4 588.9h1v1h-1zM48.4 588.9h1v1h-1zM51.4 588.9h1v1h-1zM54.4 588.9h2v1h-2zM58.4 588.9h1v1h-1zM31.4 589.9h1v1h-1zM35.4 589.9h1v1h-1zM41.4 589.9h1v1h-1zM46.4 589.9h1v1h-1zM52.4 589.9h3v1h-3zM57.4 589.9h1v1h-1zM26.4 590.9h1v1h-1zM45.4 590.9h1v1h-1zM54.4 590.9h2v1h-2zM30.4 591.9h2v1h-2zM35.4 591.9h2v1h-2zM38.4 591.9h1v1h-1zM49.4 591.9h2v1h-2zM53.4 591.9h1v1h-1zM57.4 591.9h1v1h-1zM27.4 592.9h1v1h-1zM33.4 592.9h1v1h-1zM35.4 592.9h1v1h-1zM50.4 592.9h1v1h-1zM28.4 593.9h3v1h-3zM32.4 593.9h3v1h-3zM43.4 593.9h2v1h-2zM47.4 593.9h1v1h-1zM49.4 593.9h2v1h-2zM52.4 593.9h2v1h-2zM55.4 593.9h2v1h-2zM24.4 594.9h1v1h-1zM30.4 594.9h4v1h-4zM39.4 594.9h1v1h-1zM43.4 594.9h1v1h-1zM50.4 594.9h1v1h-1zM24.4 595.9h2v1h-2zM29.4 595.9h1v1h-1zM35.4 595.9h2v1h-2zM38.4 595.9h1v1h-1zM46.4 595.9h1v1h-1zM51.4 595.9h1v1h-1zM53.4 595.9h1v1h-1zM27.4 596.9h1v1h-1zM35.4 596.9h1v1h-1zM38.4 596.9h1v1h-1zM43.4 596.9h1v1h-1zM49.4 596.9h3v1h-3zM56.4 596.9h1v1h-1zM30.4 597.9h1v1h-1zM33.4 597.9h1v1h-1zM35.4 597.9h3v1h-3zM39.4 597.9h1v1h-1zM42.4 597.9h2v1h-2zM46.4 597.9h3v1h-3zM52.4 597.9h2v1h-2zM19.4 598.9h1v1h-1zM35.4 598.9h5v1h-5zM42.4 598.9h2v1h-2zM47.4 598.9h3v1h-3zM24.4 599.9h1v1h-1zM26.4 599.9h1v1h-1zM28.4 599.9h1v1h-1zM30.4 599.9h1v1h-1zM33.4 599.9h2v1h-2zM37.4 599.9h2v1h-2zM40.4 599.9h1v1h-1zM45.4 599.9h1v1h-1zM51.4 599.9h1v1h-1zM34.4 600.9h3v1h-3zM47.4 600.9h1v1h-1zM28.4 601.9h1v1h-1zM38.4 601.9h2v1h-2zM42.4 601.9h3v1h-3zM46.4 601.9h2v1h-2zM49.4 601.9h2v1h-2zM35.4 602.9h1v1h-1zM39.4 602.9h1v1h-1zM45.4 602.9h1v1h-1zM33.4 603.9h1v1h-1zM37.4 603.9h1v1h-1zM51.4 603.9h1v1h-1zM43.4 604.9h1v1h-1zM40.4 605.9h2v1h-2zM41.4 607.9h1v1h-1z" fill="#e03c22" fill-opacity="0.50"/>
<path d="M87.4 554.9h1v1h-1zM85.4 556.9h1v1h-1zM73.4 559.9h1v1h-1zM95.4 561.9h1v1h-1zM70.4 562.9h1v1h-1zM79.4 562.9h1v1h-1zM84.4 562.9h1v1h-1zM79.4 563.9h1v1h-1zM84.4 564.9h1v1h-1zM78.4 565.9h1v1h-1zM66.4 566.9h1v1h-1zM86.4 566.9h1v1h-1zM63.4 567.9h1v1h-1zM76.4 567.9h1v1h-1zM80.4 569.9h2v1h-2zM62.4 570.9h1v1h-1zM68.4 570.9h1v1h-1zM72.4 570.9h1v1h-1zM66.4 572.9h1v1h-1zM80.4 572.9h1v1h-1zM47.4 573.9h1v1h-1zM68.4 573.9h1v1h-1zM71.4 573.9h1v1h-1zM79.4 573.9h1v1h-1zM61.4 574.9h1v1h-1zM57.4 576.9h1v1h-1zM38.4 577.9h1v1h-1zM63.4 577.9h1v1h-1zM39.4 578.9h1v1h-1zM46.4 578.9h1v1h-1zM49.4 578.9h1v1h-1zM41.4 579.9h1v1h-1zM44.4 579.9h3v1h-3zM48.4 579.9h2v1h-2zM55.4 579.9h1v1h-1zM58.4 579.9h1v1h-1zM65.4 579.9h1v1h-1zM41.4 580.9h2v1h-2zM45.4 580.9h1v1h-1zM47.4 580.9h1v1h-1zM50.4 580.9h1v1h-1zM57.4 580.9h1v1h-1zM34.4 581.9h1v1h-1zM37.4 581.9h1v1h-1zM39.4 581.9h1v1h-1zM43.4 581.9h1v1h-1zM52.4 581.9h1v1h-1zM32.4 582.9h1v1h-1zM41.4 582.9h1v1h-1zM43.4 582.9h1v1h-1zM51.4 582.9h2v1h-2zM35.4 583.9h2v1h-2zM41.4 583.9h1v1h-1zM50.4 583.9h1v1h-1zM52.4 583.9h1v1h-1zM59.4 583.9h1v1h-1zM61.4 583.9h1v1h-1zM34.4 584.9h1v1h-1zM36.4 584.9h1v1h-1zM43.4 584.9h1v1h-1zM53.4 584.9h2v1h-2zM32.4 585.9h1v1h-1zM35.4 585.9h1v1h-1zM42.4 585.9h1v1h-1zM49.4 585.9h1v1h-1zM51.4 585.9h1v1h-1zM55.4 585.9h1v1h-1zM31.4 586.9h1v1h-1zM33.4 586.9h2v1h-2zM46.4 586.9h1v1h-1zM52.4 586.9h1v1h-1zM67.4 586.9h1v1h-1zM39.4 587.9h1v1h-1zM49.4 587.9h1v1h-1zM29.4 588.9h1v1h-1zM45.4 588.9h1v1h-1zM47.4 588.9h1v1h-1zM50.4 588.9h1v1h-1zM25.4 589.9h1v1h-1zM32.4 589.9h3v1h-3zM42.4 589.9h1v1h-1zM44.4 589.9h2v1h-2zM47.4 589.9h1v1h-1zM31.4 590.9h1v1h-1zM33.4 590.9h3v1h-3zM37.4 590.9h1v1h-1zM40.4 590.9h1v1h-1zM46.4 590.9h2v1h-2zM49.4 590.9h1v1h-1zM52.4 590.9h1v1h-1zM56.4 590.9h1v1h-1zM32.4 591.9h2v1h-2zM37.4 591.9h1v1h-1zM40.4 591.9h1v1h-1zM47.4 591.9h1v1h-1zM31.4 592.9h1v1h-1zM34.4 592.9h1v1h-1zM36.4 592.9h3v1h-3zM49.4 592.9h1v1h-1zM37.4 593.9h1v1h-1zM41.4 593.9h1v1h-1zM45.4 593.9h2v1h-2zM51.4 593.9h1v1h-1zM35.4 594.9h1v1h-1zM38.4 594.9h1v1h-1zM40.4 594.9h1v1h-1zM45.4 594.9h1v1h-1zM47.4 594.9h1v1h-1zM49.4 594.9h1v1h-1zM52.4 594.9h1v1h-1zM54.4 594.9h1v1h-1zM33.4 595.9h1v1h-1zM40.4 595.9h4v1h-4zM48.4 595.9h1v1h-1zM50.4 595.9h1v1h-1zM32.4 596.9h1v1h-1zM34.4 596.9h1v1h-1zM36.4 596.9h2v1h-2zM34.4 597.9h1v1h-1zM44.4 597.9h1v1h-1zM30.4 598.9h1v1h-1zM40.4 598.9h1v1h-1zM45.4 598.9h1v1h-1zM31.4 601.9h1v1h-1z" fill="#e03c22" fill-opacity="0.75"/>
<path d="M71.4 560.9h1v1h-1zM75.4 567.9h1v1h-1zM77.4 568.9h1v1h-1zM36.4 579.9h1v1h-1zM39.4 580.9h1v1h-1zM44.4 580.9h1v1h-1zM38.4 581.9h1v1h-1zM45.4 581.9h1v1h-1zM47.4 581.9h1v1h-1zM37.4 582.9h2v1h-2zM40.4 582.9h1v1h-1zM31.4 584.9h1v1h-1zM38.4 584.9h1v1h-1zM42.4 584.9h1v1h-1zM46.4 584.9h2v1h-2zM39.4 585.9h1v1h-1zM46.4 585.9h1v1h-1zM48.4 585.9h1v1h-1zM32.4 586.9h1v1h-1zM35.4 586.9h3v1h-3zM40.4 586.9h1v1h-1zM45.4 586.9h1v1h-1zM46.4 587.9h2v1h-2zM50.4 587.9h1v1h-1zM34.4 588.9h1v1h-1zM38.4 588.9h1v1h-1zM40.4 588.9h3v1h-3zM36.4 589.9h2v1h-2zM40.4 589.9h1v1h-1zM48.4 589.9h1v1h-1zM30.4 590.9h1v1h-1zM43.4 590.9h1v1h-1zM29.4 591.9h1v1h-1zM41.4 591.9h2v1h-2zM46.4 591.9h1v1h-1zM48.4 591.9h1v1h-1zM51.4 591.9h1v1h-1zM40.4 592.9h2v1h-2zM43.4 592.9h1v1h-1zM45.4 592.9h1v1h-1zM48.4 592.9h1v1h-1zM51.4 592.9h1v1h-1zM34.4 594.9h1v1h-1zM41.4 594.9h2v1h-2zM44.4 594.9h1v1h-1zM39.4 595.9h1v1h-1zM44.4 595.9h1v1h-1zM40.4 596.9h3v1h-3zM41.4 598.9h1v1h-1zM40.4 602.9h1v1h-1z" fill="#e03c22" fill-opacity="0.88"/>
<path d="M62.4 573.9h1v1h-1zM47.4 579.9h1v1h-1zM42.4 581.9h1v1h-1zM45.4 582.9h1v1h-1zM37.4 583.9h4v1h-4zM45.4 583.9h1v1h-1zM39.4 584.9h1v1h-1zM44.4 584.9h2v1h-2zM41.4 585.9h1v1h-1zM43.4 585.9h1v1h-1zM45.4 585.9h1v1h-1zM39.4 586.9h1v1h-1zM41.4 586.9h4v1h-4zM47.4 586.9h2v1h-2zM35.4 587.9h1v1h-1zM38.4 587.9h1v1h-1zM40.4 587.9h5v1h-5zM48.4 587.9h1v1h-1zM35.4 588.9h1v1h-1zM37.4 588.9h1v1h-1zM39.4 588.9h1v1h-1zM43.4 588.9h2v1h-2zM49.4 588.9h1v1h-1zM38.4 589.9h2v1h-2zM43.4 589.9h1v1h-1zM49.4 589.9h1v1h-1zM32.4 590.9h1v1h-1zM36.4 590.9h1v1h-1zM38.4 590.9h2v1h-2zM41.4 590.9h2v1h-2zM44.4 590.9h1v1h-1zM48.4 590.9h1v1h-1zM34.4 591.9h1v1h-1zM39.4 591.9h1v1h-1zM43.4 591.9h3v1h-3zM42.4 592.9h1v1h-1zM44.4 592.9h1v1h-1zM46.4 592.9h1v1h-1zM36.4 593.9h1v1h-1zM39.4 593.9h2v1h-2zM42.4 593.9h1v1h-1zM36.4 594.9h1v1h-1zM46.4 594.9h1v1h-1zM37.4 595.9h1v1h-1zM41.4 597.9h1v1h-1z" fill="#e03c22" fill-opacity="1.00"/>
<ellipse cx="43.2" cy="591.6" rx="10.0" ry="5.2" transform="rotate(-35 43.2 591.6)" fill="#dc3a1e" fill-opacity="0.45" filter="url(#blur1)"/>
<ellipse cx="43.4" cy="591.5" rx="8.0" ry="3.9" transform="rotate(-35 43.4 591.5)" fill="#dc3a1e" fill-opacity="1.0" filter="url(#blur1)"/>
<rect x="18.4" y="513.9" width="92.0" height="98.1" fill="none" stroke="#555" stroke-width="0.9"/>
<line x1="57.3" y1="513.9" x2="57.3" y2="612" stroke="#555" stroke-width="0.9"/>
<line x1="18.4" y1="569.6" x2="110.4" y2="569.6" stroke="#555" stroke-width="0.9"/>
<line x1="16.2" y1="612.0" x2="18.4" y2="612.0" stroke="#555" stroke-width="0.7"/>
<line x1="18.4" y1="612" x2="18.4" y2="614.2" stroke="#555" stroke-width="0.7"/>
<line x1="17.299999999999997" y1="604.6172393563409" x2="18.4" y2="604.6172393563409" stroke="#555" stroke-width="0.4"/>
<line x1="25.323689900271567" y1="612" x2="25.323689900271567" y2="613.1" stroke="#555" stroke-width="0.4"/>
<line x1="17.299999999999997" y1="600.2986012280003" x2="18.4" y2="600.2986012280003" stroke="#555" stroke-width="0.4"/>
<line x1="29.373788858552235" y1="612" x2="29.373788858552235" y2="613.1" stroke="#555" stroke-width="0.4"/>
<line x1="17.299999999999997" y1="597.2344787126817" x2="18.4" y2="597.2344787126817" stroke="#555" stroke-width="0.4"/>
<line x1="32.247379800543136" y1="612" x2="32.247379800543136" y2="613.1" stroke="#555" stroke-width="0.4"/>
<line x1="17.299999999999997" y1="594.8577606436592" x2="18.4" y2="594.8577606436592" stroke="#555" stroke-width="0.4"/>
<line x1="34.47631009972844" y1="612" x2="34.47631009972844" y2="613.1" stroke="#555" stroke-width="0.4"/>
<line x1="17.299999999999997" y1="592.9158405843411" x2="18.4" y2="592.9158405843411" stroke="#555" stroke-width="0.4"/>
<line x1="36.2974787588238" y1="612" x2="36.2974787588238" y2="613.1" stroke="#555" stroke-width="0.4"/>
<line x1="17.299999999999997" y1="591.2739705686504" x2="18.4" y2="591.2739705686504" stroke="#555" stroke-width="0.4"/>
<line x1="37.83725492032791" y1="612" x2="37.83725492032791" y2="613.1" stroke="#555" stroke-width="0.4"/>
<line x1="17.299999999999997" y1="589.8517180690226" x2="18.4" y2="589.8517180690226" stroke="#555" stroke-width="0.4"/>
<line x1="39.1710697008147" y1="612" x2="39.1710697008147" y2="613.1" stroke="#555" stroke-width="0.4"/>
<line x1="17.299999999999997" y1="588.5972024560006" x2="18.4" y2="588.5972024560006" stroke="#555" stroke-width="0.4"/>
<line x1="40.34757771710447" y1="612" x2="40.34757771710447" y2="613.1" stroke="#555" stroke-width="0.4"/>
<line x1="16.2" y1="587.475" x2="18.4" y2="587.475" stroke="#555" stroke-width="0.7"/>
<line x1="41.4" y1="612" x2="41.4" y2="614.2" stroke="#555" stroke-width="0.7"/>
<line x1="17.299999999999997" y1="580.0922393563409" x2="18.4" y2="580.0922393563409" stroke="#555" stroke-width="0.4"/>
<line x1="48.32368990027157" y1="612" x2="48.32368990027157" y2="613.1" stroke="#555" stroke-width="0.4"/>
<line x1="17.299999999999997" y1="575.7736012280003" x2="18.4" y2="575.7736012280003" stroke="#555" stroke-width="0.4"/>
<line x1="52.37378885855223" y1="612" x2="52.37378885855223" y2="613.1" stroke="#555" stroke-width="0.4"/>
<line x1="17.299999999999997" y1="572.7094787126817" x2="18.4" y2="572.7094787126817" stroke="#555" stroke-width="0.4"/>
<line x1="55.247379800543136" y1="612" x2="55.247379800543136" y2="613.1" stroke="#555" stroke-width="0.4"/>
<line x1="17.299999999999997" y1="570.3327606436592" x2="18.4" y2="570.3327606436592" stroke="#555" stroke-width="0.4"/>
<line x1="57.47631009972844" y1="612" x2="57.47631009972844" y2="613.1" stroke="#555" stroke-width="0.4"/>
<line x1="17.299999999999997" y1="568.3908405843412" x2="18.4" y2="568.3908405843412" stroke="#555" stroke-width="0.4"/>
<line x1="59.2974787588238" y1="612" x2="59.2974787588238" y2="613.1" stroke="#555" stroke-width="0.4"/>
<line x1="17.299999999999997" y1="566.7489705686504" x2="18.4" y2="566.7489705686504" stroke="#555" stroke-width="0.4"/>
<line x1="60.83725492032791" y1="612" x2="60.83725492032791" y2="613.1" stroke="#555" stroke-width="0.4"/>
<line x1="17.299999999999997" y1="565.3267180690226" x2="18.4" y2="565.3267180690226" stroke="#555" stroke-width="0.4"/>
<line x1="62.1710697008147" y1="612" x2="62.1710697008147" y2="613.1" stroke="#555" stroke-width="0.4"/>
<line x1="17.299999999999997" y1="564.0722024560006" x2="18.4" y2="564.0722024560006" stroke="#555" stroke-width="0.4"/>
<line x1="63.34757771710447" y1="612" x2="63.34757771710447" y2="613.1" stroke="#555" stroke-width="0.4"/>
<line x1="16.2" y1="562.95" x2="18.4" y2="562.95" stroke="#555" stroke-width="0.7"/>
<line x1="64.4" y1="612" x2="64.4" y2="614.2" stroke="#555" stroke-width="0.7"/>
<line x1="17.299999999999997" y1="555.5672393563409" x2="18.4" y2="555.5672393563409" stroke="#555" stroke-width="0.4"/>
<line x1="71.32368990027157" y1="612" x2="71.32368990027157" y2="613.1" stroke="#555" stroke-width="0.4"/>
<line x1="17.299999999999997" y1="551.2486012280003" x2="18.4" y2="551.2486012280003" stroke="#555" stroke-width="0.4"/>
<line x1="75.37378885855225" y1="612" x2="75.37378885855225" y2="613.1" stroke="#555" stroke-width="0.4"/>
<line x1="17.299999999999997" y1="548.1844787126818" x2="18.4" y2="548.1844787126818" stroke="#555" stroke-width="0.4"/>
<line x1="78.24737980054314" y1="612" x2="78.24737980054314" y2="613.1" stroke="#555" stroke-width="0.4"/>
<line x1="17.299999999999997" y1="545.8077606436592" x2="18.4" y2="545.8077606436592" stroke="#555" stroke-width="0.4"/>
<line x1="80.47631009972844" y1="612" x2="80.47631009972844" y2="613.1" stroke="#555" stroke-width="0.4"/>
<line x1="17.299999999999997" y1="543.8658405843412" x2="18.4" y2="543.8658405843412" stroke="#555" stroke-width="0.4"/>
<line x1="82.29747875882381" y1="612" x2="82.29747875882381" y2="613.1" stroke="#555" stroke-width="0.4"/>
<line x1="17.299999999999997" y1="542.2239705686504" x2="18.4" y2="542.2239705686504" stroke="#555" stroke-width="0.4"/>
<line x1="83.83725492032791" y1="612" x2="83.83725492032791" y2="613.1" stroke="#555" stroke-width="0.4"/>
<line x1="17.299999999999997" y1="540.8017180690226" x2="18.4" y2="540.8017180690226" stroke="#555" stroke-width="0.4"/>
<line x1="85.17106970081471" y1="612" x2="85.17106970081471" y2="613.1" stroke="#555" stroke-width="0.4"/>
<line x1="17.299999999999997" y1="539.5472024560006" x2="18.4" y2="539.5472024560006" stroke="#555" stroke-width="0.4"/>
<line x1="86.34757771710449" y1="612" x2="86.34757771710449" y2="613.1" stroke="#555" stroke-width="0.4"/>
<line x1="16.2" y1="538.425" x2="18.4" y2="538.425" stroke="#555" stroke-width="0.7"/>
<line x1="87.4" y1="612" x2="87.4" y2="614.2" stroke="#555" stroke-width="0.7"/>
<line x1="17.299999999999997" y1="531.0422393563408" x2="18.4" y2="531.0422393563408" stroke="#555" stroke-width="0.4"/>
<line x1="94.32368990027157" y1="612" x2="94.32368990027157" y2="613.1" stroke="#555" stroke-width="0.4"/>
<line x1="17.299999999999997" y1="526.7236012280002" x2="18.4" y2="526.7236012280002" stroke="#555" stroke-width="0.4"/>
<line x1="98.37378885855225" y1="612" x2="98.37378885855225" y2="613.1" stroke="#555" stroke-width="0.4"/>
<line x1="17.299999999999997" y1="523.6594787126817" x2="18.4" y2="523.6594787126817" stroke="#555" stroke-width="0.4"/>
<line x1="101.24737980054314" y1="612" x2="101.24737980054314" y2="613.1" stroke="#555" stroke-width="0.4"/>
<line x1="17.299999999999997" y1="521.2827606436591" x2="18.4" y2="521.2827606436591" stroke="#555" stroke-width="0.4"/>
<line x1="103.47631009972844" y1="612" x2="103.47631009972844" y2="613.1" stroke="#555" stroke-width="0.4"/>
<line x1="17.299999999999997" y1="519.3408405843411" x2="18.4" y2="519.3408405843411" stroke="#555" stroke-width="0.4"/>
<line x1="105.29747875882381" y1="612" x2="105.29747875882381" y2="613.1" stroke="#555" stroke-width="0.4"/>
<line x1="17.299999999999997" y1="517.6989705686503" x2="18.4" y2="517.6989705686503" stroke="#555" stroke-width="0.4"/>
<line x1="106.83725492032791" y1="612" x2="106.83725492032791" y2="613.1" stroke="#555" stroke-width="0.4"/>
<line x1="17.299999999999997" y1="516.2767180690225" x2="18.4" y2="516.2767180690225" stroke="#555" stroke-width="0.4"/>
<line x1="108.17106970081471" y1="612" x2="108.17106970081471" y2="613.1" stroke="#555" stroke-width="0.4"/>
<line x1="17.299999999999997" y1="515.0222024560005" x2="18.4" y2="515.0222024560005" stroke="#555" stroke-width="0.4"/>
<line x1="109.34757771710449" y1="612" x2="109.34757771710449" y2="613.1" stroke="#555" stroke-width="0.4"/>
<line x1="16.2" y1="513.9" x2="18.4" y2="513.9" stroke="#555" stroke-width="0.7"/>
<line x1="110.4" y1="612" x2="110.4" y2="614.2" stroke="#555" stroke-width="0.7"/>
<text x="18.4" y="620.0" font-size="5" text-anchor="middle" fill="#333">10<tspan dy="-2" font-size="3.2">0</tspan></text>
<g transform="translate(14.2,612.0) rotate(-90)"><text x="0" y="0" font-size="5" text-anchor="middle" fill="#333">10<tspan dy="-2" font-size="3.2">0</tspan></text></g>
<text x="41.4" y="620.0" font-size="5" text-anchor="middle" fill="#333">10<tspan dy="-2" font-size="3.2">1</tspan></text>
<g transform="translate(14.2,587.5) rotate(-90)"><text x="0" y="0" font-size="5" text-anchor="middle" fill="#333">10<tspan dy="-2" font-size="3.2">1</tspan></text></g>
<text x="64.4" y="620.0" font-size="5" text-anchor="middle" fill="#333">10<tspan dy="-2" font-size="3.2">2</tspan></text>
<g transform="translate(14.2,563.0) rotate(-90)"><text x="0" y="0" font-size="5" text-anchor="middle" fill="#333">10<tspan dy="-2" font-size="3.2">2</tspan></text></g>
<text x="87.4" y="620.0" font-size="5" text-anchor="middle" fill="#333">10<tspan dy="-2" font-size="3.2">3</tspan></text>
<g transform="translate(14.2,538.4) rotate(-90)"><text x="0" y="0" font-size="5" text-anchor="middle" fill="#333">10<tspan dy="-2" font-size="3.2">3</tspan></text></g>
<text x="110.4" y="620.0" font-size="5" text-anchor="middle" fill="#333">10<tspan dy="-2" font-size="3.2">4</tspan></text>
<g transform="translate(14.2,513.9) rotate(-90)"><text x="0" y="0" font-size="5" text-anchor="middle" fill="#333">10<tspan dy="-2" font-size="3.2">4</tspan></text></g>
<text x="64.4" y="625.8" font-size="5.6" text-anchor="middle" fill="#333">Annexin V-FITC</text>
<g transform="translate(7.9,548.8) rotate(-90)"><text x="0" y="0" font-size="5" text-anchor="middle" fill="#333">PI</text></g>
<text x="19.6" y="518.9" font-size="4.8" fill="#222" stroke="#222" stroke-width="0.05">UL</text><text x="19.6" y="523.5" font-size="4.8" fill="#222" stroke="#222" stroke-width="0.05">0.5%</text>
<text x="92.9" y="518.9" font-size="4.8" fill="#222" stroke="#222" stroke-width="0.05">UR</text><text x="92.9" y="523.5" font-size="4.8" fill="#222" stroke="#222" stroke-width="0.05">4.6%</text>
<text x="19.6" y="605.4" font-size="4.8" fill="#222" stroke="#222" stroke-width="0.05">LL</text><text x="19.6" y="610.0" font-size="4.8" fill="#222" stroke="#222" stroke-width="0.05">89.8%</text>
<text x="92.9" y="605.4" font-size="4.8" fill="#222" stroke="#222" stroke-width="0.05">LR</text><text x="92.9" y="610.0" font-size="4.8" fill="#222" stroke="#222" stroke-width="0.05">5.1%</text>
<path d="M198.2 546.5h1v1h-1zM143.2 547.5h1v1h-1zM146.2 547.5h1v1h-1zM192.2 547.5h1v1h-1zM142.2 549.5h1v1h-1zM161.2 549.5h1v1h-1zM189.2 550.5h1v1h-1zM201.2 550.5h1v1h-1zM182.2 551.5h1v1h-1zM189.2 552.5h1v1h-1zM188.2 553.5h1v1h-1zM145.2 554.5h1v1h-1zM188.2 554.5h1v1h-1zM190.2 554.5h1v1h-1zM201.2 554.5h1v1h-1zM189.2 555.5h2v1h-2zM192.2 556.5h1v1h-1zM195.2 556.5h1v1h-1zM183.2 557.5h1v1h-1zM189.2 557.5h1v1h-1zM202.2 558.5h1v1h-1zM183.2 559.5h1v1h-1zM188.2 559.5h1v1h-1zM178.2 560.5h1v1h-1zM187.2 560.5h1v1h-1zM192.2 560.5h2v1h-2zM176.2 561.5h2v1h-2zM182.2 561.5h1v1h-1zM186.2 561.5h3v1h-3zM192.2 561.5h1v1h-1zM204.2 561.5h1v1h-1zM163.2 562.5h1v1h-1zM175.2 562.5h1v1h-1zM178.2 562.5h1v1h-1zM186.2 562.5h1v1h-1zM188.2 562.5h1v1h-1zM191.2 562.5h1v1h-1zM193.2 562.5h1v1h-1zM196.2 562.5h1v1h-1zM154.2 563.5h1v1h-1zM159.2 563.5h1v1h-1zM180.2 563.5h1v1h-1zM184.2 563.5h4v1h-4zM192.2 563.5h1v1h-1zM183.2 564.5h1v1h-1zM185.2 564.5h1v1h-1zM187.2 564.5h1v1h-1zM191.2 564.5h1v1h-1zM194.2 564.5h1v1h-1zM147.2 565.5h1v1h-1zM154.2 565.5h2v1h-2zM159.2 565.5h1v1h-1zM169.2 565.5h1v1h-1zM172.2 565.5h1v1h-1zM175.2 565.5h2v1h-2zM179.2 565.5h2v1h-2zM184.2 565.5h1v1h-1zM188.2 565.5h1v1h-1zM191.2 565.5h1v1h-1zM138.2 566.5h1v1h-1zM166.2 566.5h1v1h-1zM176.2 566.5h1v1h-1zM178.2 566.5h3v1h-3zM182.2 566.5h2v1h-2zM190.2 566.5h1v1h-1zM194.2 566.5h1v1h-1zM159.2 567.5h2v1h-2zM162.2 567.5h1v1h-1zM164.2 567.5h1v1h-1zM173.2 567.5h2v1h-2zM176.2 567.5h1v1h-1zM178.2 567.5h2v1h-2zM183.2 567.5h3v1h-3zM187.2 567.5h1v1h-1zM189.2 567.5h2v1h-2zM194.2 567.5h1v1h-1zM197.2 567.5h1v1h-1zM141.2 568.5h1v1h-1zM146.2 568.5h1v1h-1zM153.2 568.5h1v1h-1zM160.2 568.5h1v1h-1zM163.2 568.5h1v1h-1zM165.2 568.5h1v1h-1zM173.2 568.5h1v1h-1zM179.2 568.5h2v1h-2zM185.2 568.5h2v1h-2zM189.2 568.5h1v1h-1zM149.2 569.5h1v1h-1zM151.2 569.5h1v1h-1zM153.2 569.5h1v1h-1zM157.2 569.5h2v1h-2zM161.2 569.5h2v1h-2zM164.2 569.5h2v1h-2zM171.2 569.5h1v1h-1zM184.2 569.5h2v1h-2zM188.2 569.5h1v1h-1zM200.2 569.5h1v1h-1zM145.2 570.5h1v1h-1zM150.2 570.5h1v1h-1zM155.2 570.5h1v1h-1zM157.2 570.5h2v1h-2zM162.2 570.5h2v1h-2zM167.2 570.5h1v1h-1zM169.2 570.5h2v1h-2zM172.2 570.5h1v1h-1zM180.2 570.5h1v1h-1zM185.2 570.5h1v1h-1zM187.2 570.5h2v1h-2zM143.2 571.5h1v1h-1zM150.2 571.5h1v1h-1zM153.2 571.5h1v1h-1zM156.2 571.5h1v1h-1zM159.2 571.5h4v1h-4zM167.2 571.5h1v1h-1zM170.2 571.5h1v1h-1zM176.2 571.5h2v1h-2zM179.2 571.5h1v1h-1zM182.2 571.5h1v1h-1zM185.2 571.5h1v1h-1zM143.2 572.5h1v1h-1zM146.2 572.5h2v1h-2zM150.2 572.5h2v1h-2zM153.2 572.5h1v1h-1zM163.2 572.5h1v1h-1zM165.2 572.5h1v1h-1zM171.2 572.5h1v1h-1zM177.2 572.5h2v1h-2zM188.2 572.5h2v1h-2zM147.2 573.5h2v1h-2zM160.2 573.5h1v1h-1zM163.2 573.5h1v1h-1zM169.2 573.5h1v1h-1zM172.2 573.5h2v1h-2zM176.2 573.5h1v1h-1zM183.2 573.5h1v1h-1zM146.2 574.5h2v1h-2zM149.2 574.5h1v1h-1zM159.2 574.5h4v1h-4zM165.2 574.5h1v1h-1zM167.2 574.5h1v1h-1zM169.2 574.5h1v1h-1zM173.2 574.5h1v1h-1zM177.2 574.5h1v1h-1zM185.2 574.5h1v1h-1zM143.2 575.5h1v1h-1zM150.2 575.5h1v1h-1zM152.2 575.5h1v1h-1zM156.2 575.5h1v1h-1zM158.2 575.5h1v1h-1zM160.2 575.5h2v1h-2zM165.2 575.5h1v1h-1zM168.2 575.5h1v1h-1zM173.2 575.5h1v1h-1zM179.2 575.5h1v1h-1zM181.2 575.5h5v1h-5zM189.2 575.5h1v1h-1zM141.2 576.5h1v1h-1zM145.2 576.5h1v1h-1zM148.2 576.5h4v1h-4zM153.2 576.5h1v1h-1zM156.2 576.5h1v1h-1zM158.2 576.5h1v1h-1zM162.2 576.5h1v1h-1zM166.2 576.5h1v1h-1zM169.2 576.5h1v1h-1zM174.2 576.5h1v1h-1zM177.2 576.5h1v1h-1zM179.2 576.5h1v1h-1zM183.2 576.5h1v1h-1zM138.2 577.5h1v1h-1zM147.2 577.5h1v1h-1zM149.2 577.5h1v1h-1zM153.2 577.5h2v1h-2zM157.2 577.5h4v1h-4zM165.2 577.5h1v1h-1zM170.2 577.5h2v1h-2zM178.2 577.5h1v1h-1zM180.2 577.5h1v1h-1zM147.2 578.5h4v1h-4zM156.2 578.5h1v1h-1zM161.2 578.5h2v1h-2zM166.2 578.5h2v1h-2zM175.2 578.5h1v1h-1zM177.2 578.5h1v1h-1zM140.2 579.5h1v1h-1zM145.2 579.5h2v1h-2zM151.2 579.5h1v1h-1zM157.2 579.5h1v1h-1zM164.2 579.5h4v1h-4zM170.2 579.5h3v1h-3zM174.2 579.5h1v1h-1zM179.2 579.5h1v1h-1zM138.2 580.5h2v1h-2zM145.2 580.5h2v1h-2zM149.2 580.5h3v1h-3zM155.2 580.5h1v1h-1zM163.2 580.5h1v1h-1zM166.2 580.5h1v1h-1zM171.2 580.5h1v1h-1zM173.2 580.5h2v1h-2zM176.2 580.5h1v1h-1zM178.2 580.5h1v1h-1zM187.2 580.5h1v1h-1zM143.2 581.5h1v1h-1zM147.2 581.5h1v1h-1zM152.2 581.5h1v1h-1zM157.2 581.5h1v1h-1zM165.2 581.5h1v1h-1zM168.2 581.5h1v1h-1zM174.2 581.5h2v1h-2zM179.2 581.5h1v1h-1zM183.2 581.5h1v1h-1zM137.2 582.5h1v1h-1zM140.2 582.5h1v1h-1zM142.2 582.5h1v1h-1zM149.2 582.5h1v1h-1zM156.2 582.5h1v1h-1zM168.2 582.5h1v1h-1zM177.2 582.5h1v1h-1zM181.2 582.5h1v1h-1zM184.2 582.5h1v1h-1zM136.2 583.5h2v1h-2zM141.2 583.5h1v1h-1zM143.2 583.5h3v1h-3zM151.2 583.5h1v1h-1zM172.2 583.5h4v1h-4zM179.2 583.5h1v1h-1zM185.2 583.5h1v1h-1zM136.2 584.5h1v1h-1zM142.2 584.5h1v1h-1zM147.2 584.5h1v1h-1zM172.2 584.5h2v1h-2zM180.2 584.5h1v1h-1zM185.2 584.5h1v1h-1zM137.2 585.5h1v1h-1zM143.2 585.5h2v1h-2zM147.2 585.5h1v1h-1zM157.2 585.5h1v1h-1zM163.2 585.5h1v1h-1zM166.2 585.5h1v1h-1zM169.2 585.5h2v1h-2zM172.2 585.5h1v1h-1zM174.2 585.5h1v1h-1zM176.2 585.5h1v1h-1zM182.2 585.5h1v1h-1zM138.2 586.5h1v1h-1zM144.2 586.5h2v1h-2zM162.2 586.5h1v1h-1zM169.2 586.5h1v1h-1zM177.2 586.5h1v1h-1zM182.2 586.5h1v1h-1zM135.2 587.5h1v1h-1zM139.2 587.5h3v1h-3zM143.2 587.5h1v1h-1zM146.2 587.5h1v1h-1zM154.2 587.5h1v1h-1zM161.2 587.5h1v1h-1zM169.2 587.5h2v1h-2zM174.2 587.5h2v1h-2zM137.2 588.5h2v1h-2zM143.2 588.5h2v1h-2zM153.2 588.5h1v1h-1zM167.2 588.5h1v1h-1zM170.2 588.5h1v1h-1zM173.2 588.5h3v1h-3zM142.2 589.5h1v1h-1zM148.2 589.5h1v1h-1zM151.2 589.5h1v1h-1zM171.2 589.5h1v1h-1zM173.2 589.5h1v1h-1zM141.2 590.5h2v1h-2zM150.2 590.5h1v1h-1zM154.2 590.5h1v1h-1zM172.2 590.5h2v1h-2zM137.2 591.5h1v1h-1zM142.2 591.5h1v1h-1zM147.2 591.5h1v1h-1zM151.2 591.5h1v1h-1zM156.2 591.5h1v1h-1zM158.2 591.5h1v1h-1zM166.2 591.5h1v1h-1zM168.2 591.5h3v1h-3zM172.2 591.5h1v1h-1zM138.2 592.5h1v1h-1zM140.2 592.5h2v1h-2zM143.2 592.5h3v1h-3zM148.2 592.5h1v1h-1zM150.2 592.5h1v1h-1zM155.2 592.5h1v1h-1zM167.2 592.5h1v1h-1zM172.2 592.5h1v1h-1zM174.2 592.5h1v1h-1zM135.2 593.5h1v1h-1zM138.2 593.5h1v1h-1zM141.2 593.5h1v1h-1zM144.2 593.5h2v1h-2zM148.2 593.5h1v1h-1zM150.2 593.5h2v1h-2zM153.2 593.5h2v1h-2zM159.2 593.5h2v1h-2zM163.2 593.5h1v1h-1zM166.2 593.5h1v1h-1zM168.2 593.5h1v1h-1zM173.2 593.5h1v1h-1zM177.2 593.5h1v1h-1zM139.2 594.5h1v1h-1zM143.2 594.5h2v1h-2zM151.2 594.5h1v1h-1zM155.2 594.5h1v1h-1zM165.2 594.5h2v1h-2zM169.2 594.5h1v1h-1zM172.2 594.5h2v1h-2zM175.2 594.5h1v1h-1zM178.2 594.5h1v1h-1zM182.2 594.5h1v1h-1zM142.2 595.5h3v1h-3zM147.2 595.5h1v1h-1zM150.2 595.5h1v1h-1zM159.2 595.5h1v1h-1zM162.2 595.5h1v1h-1zM164.2 595.5h1v1h-1zM166.2 595.5h1v1h-1zM170.2 595.5h1v1h-1zM138.2 596.5h1v1h-1zM140.2 596.5h1v1h-1zM142.2 596.5h1v1h-1zM146.2 596.5h3v1h-3zM151.2 596.5h3v1h-3zM155.2 596.5h1v1h-1zM159.2 596.5h1v1h-1zM162.2 596.5h1v1h-1zM166.2 596.5h1v1h-1zM169.2 596.5h2v1h-2zM172.2 596.5h1v1h-1zM141.2 597.5h1v1h-1zM143.2 597.5h1v1h-1zM147.2 597.5h2v1h-2zM150.2 597.5h1v1h-1zM152.2 597.5h1v1h-1zM154.2 597.5h1v1h-1zM156.2 597.5h1v1h-1zM161.2 597.5h1v1h-1zM166.2 597.5h1v1h-1zM171.2 597.5h2v1h-2zM144.2 598.5h2v1h-2zM147.2 598.5h1v1h-1zM153.2 598.5h3v1h-3zM159.2 598.5h1v1h-1zM163.2 598.5h1v1h-1zM167.2 598.5h1v1h-1zM186.2 598.5h1v1h-1zM142.2 599.5h1v1h-1zM146.2 599.5h1v1h-1zM149.2 599.5h1v1h-1zM152.2 599.5h1v1h-1zM157.2 599.5h1v1h-1zM160.2 599.5h1v1h-1zM145.2 600.5h3v1h-3zM151.2 600.5h2v1h-2zM157.2 600.5h1v1h-1zM168.2 600.5h1v1h-1zM135.2 601.5h1v1h-1zM144.2 601.5h1v1h-1zM147.2 601.5h1v1h-1zM149.2 601.5h2v1h-2zM153.2 601.5h1v1h-1zM158.2 601.5h1v1h-1zM165.2 601.5h2v1h-2zM168.2 601.5h1v1h-1zM143.2 602.5h1v1h-1zM146.2 602.5h1v1h-1zM149.2 602.5h4v1h-4zM155.2 602.5h1v1h-1zM162.2 602.5h1v1h-1zM145.2 603.5h1v1h-1zM148.2 603.5h2v1h-2zM154.2 603.5h1v1h-1zM161.2 603.5h2v1h-2zM164.2 603.5h1v1h-1zM152.2 604.5h2v1h-2zM160.2 604.5h1v1h-1zM165.2 604.5h1v1h-1zM144.2 605.5h1v1h-1zM152.2 605.5h1v1h-1zM156.2 605.5h1v1h-1zM142.2 606.5h1v1h-1zM145.2 607.5h1v1h-1zM150.2 607.5h1v1h-1zM164.2 607.5h1v1h-1zM154.2 608.5h1v1h-1zM157.2 608.5h1v1h-1zM160.2 609.5h1v1h-1zM162.2 609.5h1v1h-1zM162.2 610.5h1v1h-1z" fill="#e03c22" fill-opacity="0.50"/>
<path d="M189.2 556.5h1v1h-1zM194.2 560.5h1v1h-1zM180.2 564.5h1v1h-1zM189.2 564.5h1v1h-1zM158.2 566.5h1v1h-1zM186.2 566.5h1v1h-1zM158.2 567.5h1v1h-1zM192.2 567.5h1v1h-1zM162.2 568.5h1v1h-1zM183.2 568.5h1v1h-1zM188.2 568.5h1v1h-1zM167.2 569.5h1v1h-1zM177.2 569.5h1v1h-1zM159.2 570.5h1v1h-1zM174.2 570.5h1v1h-1zM182.2 570.5h1v1h-1zM165.2 571.5h1v1h-1zM154.2 572.5h1v1h-1zM158.2 572.5h2v1h-2zM161.2 572.5h2v1h-2zM176.2 572.5h1v1h-1zM151.2 573.5h2v1h-2zM154.2 573.5h1v1h-1zM156.2 573.5h1v1h-1zM151.2 574.5h1v1h-1zM153.2 574.5h2v1h-2zM156.2 574.5h1v1h-1zM163.2 574.5h2v1h-2zM166.2 574.5h1v1h-1zM174.2 574.5h2v1h-2zM181.2 574.5h1v1h-1zM153.2 575.5h1v1h-1zM155.2 575.5h1v1h-1zM157.2 575.5h1v1h-1zM159.2 575.5h1v1h-1zM164.2 575.5h1v1h-1zM143.2 576.5h1v1h-1zM154.2 576.5h1v1h-1zM157.2 576.5h1v1h-1zM159.2 576.5h1v1h-1zM163.2 576.5h1v1h-1zM148.2 577.5h1v1h-1zM150.2 577.5h1v1h-1zM152.2 577.5h1v1h-1zM163.2 577.5h1v1h-1zM166.2 577.5h1v1h-1zM174.2 577.5h1v1h-1zM177.2 577.5h1v1h-1zM154.2 578.5h1v1h-1zM157.2 578.5h1v1h-1zM159.2 578.5h2v1h-2zM163.2 578.5h1v1h-1zM170.2 578.5h1v1h-1zM174.2 578.5h1v1h-1zM148.2 579.5h1v1h-1zM150.2 579.5h1v1h-1zM154.2 579.5h2v1h-2zM158.2 579.5h1v1h-1zM160.2 579.5h1v1h-1zM162.2 579.5h2v1h-2zM169.2 579.5h1v1h-1zM183.2 579.5h1v1h-1zM144.2 580.5h1v1h-1zM152.2 580.5h1v1h-1zM154.2 580.5h1v1h-1zM157.2 580.5h3v1h-3zM162.2 580.5h1v1h-1zM167.2 580.5h1v1h-1zM170.2 580.5h1v1h-1zM141.2 581.5h1v1h-1zM148.2 581.5h4v1h-4zM153.2 581.5h1v1h-1zM164.2 581.5h1v1h-1zM166.2 581.5h2v1h-2zM141.2 582.5h1v1h-1zM145.2 582.5h1v1h-1zM147.2 582.5h1v1h-1zM150.2 582.5h1v1h-1zM153.2 582.5h1v1h-1zM158.2 582.5h1v1h-1zM167.2 582.5h1v1h-1zM146.2 583.5h2v1h-2zM149.2 583.5h1v1h-1zM152.2 583.5h1v1h-1zM161.2 583.5h1v1h-1zM166.2 583.5h1v1h-1zM169.2 583.5h1v1h-1zM144.2 584.5h1v1h-1zM146.2 584.5h1v1h-1zM149.2 584.5h1v1h-1zM166.2 584.5h3v1h-3zM170.2 584.5h1v1h-1zM140.2 585.5h3v1h-3zM149.2 585.5h1v1h-1zM153.2 585.5h1v1h-1zM155.2 585.5h1v1h-1zM162.2 585.5h1v1h-1zM171.2 585.5h1v1h-1zM141.2 586.5h1v1h-1zM154.2 586.5h1v1h-1zM163.2 586.5h1v1h-1zM167.2 586.5h1v1h-1zM170.2 586.5h2v1h-2zM173.2 586.5h1v1h-1zM137.2 587.5h1v1h-1zM145.2 587.5h1v1h-1zM149.2 587.5h1v1h-1zM151.2 587.5h2v1h-2zM158.2 587.5h1v1h-1zM165.2 587.5h1v1h-1zM168.2 587.5h1v1h-1zM171.2 587.5h2v1h-2zM136.2 588.5h1v1h-1zM141.2 588.5h1v1h-1zM145.2 588.5h2v1h-2zM148.2 588.5h1v1h-1zM151.2 588.5h1v1h-1zM155.2 588.5h1v1h-1zM168.2 588.5h2v1h-2zM171.2 588.5h1v1h-1zM176.2 588.5h1v1h-1zM139.2 589.5h1v1h-1zM144.2 589.5h1v1h-1zM147.2 589.5h1v1h-1zM152.2 589.5h2v1h-2zM159.2 589.5h1v1h-1zM163.2 589.5h1v1h-1zM165.2 589.5h2v1h-2zM168.2 589.5h2v1h-2zM138.2 590.5h2v1h-2zM145.2 590.5h1v1h-1zM148.2 590.5h1v1h-1zM151.2 590.5h1v1h-1zM160.2 590.5h1v1h-1zM163.2 590.5h3v1h-3zM167.2 590.5h1v1h-1zM140.2 591.5h1v1h-1zM154.2 591.5h1v1h-1zM161.2 591.5h2v1h-2zM165.2 591.5h1v1h-1zM139.2 592.5h1v1h-1zM142.2 592.5h1v1h-1zM146.2 592.5h1v1h-1zM153.2 592.5h1v1h-1zM156.2 592.5h1v1h-1zM159.2 592.5h1v1h-1zM164.2 592.5h1v1h-1zM166.2 592.5h1v1h-1zM169.2 592.5h1v1h-1zM156.2 593.5h1v1h-1zM161.2 593.5h1v1h-1zM164.2 593.5h1v1h-1zM148.2 594.5h1v1h-1zM154.2 594.5h1v1h-1zM156.2 594.5h1v1h-1zM159.2 594.5h1v1h-1zM167.2 594.5h1v1h-1zM145.2 595.5h2v1h-2zM151.2 595.5h1v1h-1zM154.2 595.5h1v1h-1zM157.2 595.5h1v1h-1zM160.2 595.5h1v1h-1zM163.2 595.5h1v1h-1zM165.2 595.5h1v1h-1zM175.2 595.5h1v1h-1zM149.2 596.5h1v1h-1zM167.2 596.5h1v1h-1zM171.2 596.5h1v1h-1zM136.2 597.5h1v1h-1zM144.2 597.5h1v1h-1zM149.2 597.5h1v1h-1zM151.2 597.5h1v1h-1zM158.2 597.5h1v1h-1zM163.2 597.5h1v1h-1zM140.2 598.5h1v1h-1zM149.2 598.5h1v1h-1zM156.2 598.5h1v1h-1zM158.2 598.5h1v1h-1zM162.2 598.5h1v1h-1zM148.2 599.5h1v1h-1zM153.2 599.5h4v1h-4zM159.2 599.5h1v1h-1zM162.2 599.5h1v1h-1zM164.2 599.5h1v1h-1zM167.2 599.5h1v1h-1zM137.2 600.5h1v1h-1zM141.2 600.5h1v1h-1zM143.2 600.5h1v1h-1zM148.2 600.5h1v1h-1zM155.2 600.5h1v1h-1zM158.2 600.5h1v1h-1zM160.2 600.5h1v1h-1zM165.2 600.5h1v1h-1zM146.2 601.5h1v1h-1zM151.2 601.5h1v1h-1zM160.2 601.5h1v1h-1zM170.2 601.5h1v1h-1zM147.2 602.5h1v1h-1zM158.2 602.5h1v1h-1zM161.2 602.5h1v1h-1zM165.2 602.5h1v1h-1zM155.2 603.5h1v1h-1zM158.2 603.5h1v1h-1zM145.2 604.5h1v1h-1zM150.2 604.5h1v1h-1zM166.2 605.5h1v1h-1z" fill="#e03c22" fill-opacity="0.75"/>
<path d="M166.2 569.5h1v1h-1zM156.2 570.5h1v1h-1zM177.2 570.5h1v1h-1zM158.2 573.5h1v1h-1zM161.2 573.5h1v1h-1zM152.2 574.5h1v1h-1zM171.2 575.5h1v1h-1zM164.2 576.5h1v1h-1zM172.2 577.5h1v1h-1zM152.2 578.5h2v1h-2zM158.2 578.5h1v1h-1zM168.2 578.5h1v1h-1zM147.2 579.5h1v1h-1zM156.2 579.5h1v1h-1zM161.2 579.5h1v1h-1zM168.2 579.5h1v1h-1zM143.2 580.5h1v1h-1zM161.2 580.5h1v1h-1zM164.2 580.5h2v1h-2zM168.2 580.5h1v1h-1zM160.2 581.5h1v1h-1zM169.2 581.5h1v1h-1zM152.2 582.5h1v1h-1zM154.2 582.5h1v1h-1zM161.2 582.5h1v1h-1zM154.2 583.5h1v1h-1zM156.2 583.5h1v1h-1zM165.2 583.5h1v1h-1zM170.2 583.5h2v1h-2zM145.2 584.5h1v1h-1zM148.2 584.5h1v1h-1zM151.2 584.5h1v1h-1zM161.2 584.5h1v1h-1zM165.2 584.5h1v1h-1zM169.2 584.5h1v1h-1zM150.2 585.5h1v1h-1zM158.2 585.5h2v1h-2zM147.2 586.5h2v1h-2zM150.2 586.5h1v1h-1zM157.2 586.5h2v1h-2zM166.2 586.5h1v1h-1zM168.2 586.5h1v1h-1zM147.2 587.5h1v1h-1zM160.2 587.5h1v1h-1zM139.2 588.5h1v1h-1zM150.2 588.5h1v1h-1zM156.2 588.5h1v1h-1zM158.2 588.5h1v1h-1zM160.2 588.5h1v1h-1zM162.2 588.5h1v1h-1zM164.2 588.5h1v1h-1zM166.2 588.5h1v1h-1zM143.2 589.5h1v1h-1zM149.2 589.5h1v1h-1zM156.2 589.5h1v1h-1zM158.2 589.5h1v1h-1zM167.2 589.5h1v1h-1zM146.2 590.5h2v1h-2zM153.2 590.5h1v1h-1zM158.2 590.5h1v1h-1zM175.2 590.5h1v1h-1zM143.2 591.5h1v1h-1zM152.2 591.5h2v1h-2zM159.2 591.5h1v1h-1zM164.2 591.5h1v1h-1zM147.2 592.5h1v1h-1zM151.2 592.5h2v1h-2zM157.2 592.5h1v1h-1zM165.2 592.5h1v1h-1zM168.2 592.5h1v1h-1zM149.2 593.5h1v1h-1zM157.2 593.5h1v1h-1zM162.2 593.5h1v1h-1zM170.2 593.5h1v1h-1zM145.2 594.5h1v1h-1zM152.2 594.5h1v1h-1zM164.2 594.5h1v1h-1zM148.2 595.5h1v1h-1zM153.2 595.5h1v1h-1zM155.2 595.5h1v1h-1zM161.2 595.5h1v1h-1zM168.2 595.5h1v1h-1zM156.2 596.5h1v1h-1zM155.2 597.5h1v1h-1zM160.2 597.5h1v1h-1zM150.2 598.5h1v1h-1zM157.2 598.5h1v1h-1zM158.2 599.5h1v1h-1zM168.2 599.5h1v1h-1zM163.2 601.5h1v1h-1zM144.2 603.5h1v1h-1z" fill="#e03c22" fill-opacity="0.88"/>
<path d="M162.2 573.5h1v1h-1zM163.2 575.5h1v1h-1zM167.2 575.5h1v1h-1zM160.2 576.5h1v1h-1zM151.2 578.5h1v1h-1zM169.2 578.5h1v1h-1zM152.2 579.5h2v1h-2zM159.2 579.5h1v1h-1zM148.2 580.5h1v1h-1zM153.2 580.5h1v1h-1zM156.2 580.5h1v1h-1zM160.2 580.5h1v1h-1zM154.2 581.5h3v1h-3zM158.2 581.5h2v1h-2zM161.2 581.5h2v1h-2zM146.2 582.5h1v1h-1zM148.2 582.5h1v1h-1zM151.2 582.5h1v1h-1zM155.2 582.5h1v1h-1zM157.2 582.5h1v1h-1zM159.2 582.5h2v1h-2zM162.2 582.5h3v1h-3zM150.2 583.5h1v1h-1zM153.2 583.5h1v1h-1zM155.2 583.5h1v1h-1zM157.2 583.5h4v1h-4zM162.2 583.5h3v1h-3zM167.2 583.5h2v1h-2zM150.2 584.5h1v1h-1zM152.2 584.5h9v1h-9zM162.2 584.5h3v1h-3zM145.2 585.5h1v1h-1zM151.2 585.5h2v1h-2zM154.2 585.5h1v1h-1zM156.2 585.5h1v1h-1zM160.2 585.5h2v1h-2zM164.2 585.5h2v1h-2zM167.2 585.5h2v1h-2zM149.2 586.5h1v1h-1zM151.2 586.5h3v1h-3zM155.2 586.5h2v1h-2zM159.2 586.5h3v1h-3zM164.2 586.5h2v1h-2zM148.2 587.5h1v1h-1zM150.2 587.5h1v1h-1zM153.2 587.5h1v1h-1zM155.2 587.5h3v1h-3zM159.2 587.5h1v1h-1zM162.2 587.5h3v1h-3zM166.2 587.5h1v1h-1zM147.2 588.5h1v1h-1zM152.2 588.5h1v1h-1zM154.2 588.5h1v1h-1zM157.2 588.5h1v1h-1zM159.2 588.5h1v1h-1zM161.2 588.5h1v1h-1zM163.2 588.5h1v1h-1zM165.2 588.5h1v1h-1zM150.2 589.5h1v1h-1zM154.2 589.5h2v1h-2zM157.2 589.5h1v1h-1zM160.2 589.5h3v1h-3zM164.2 589.5h1v1h-1zM149.2 590.5h1v1h-1zM152.2 590.5h1v1h-1zM155.2 590.5h3v1h-3zM159.2 590.5h1v1h-1zM161.2 590.5h2v1h-2zM166.2 590.5h1v1h-1zM168.2 590.5h2v1h-2zM145.2 591.5h2v1h-2zM149.2 591.5h2v1h-2zM155.2 591.5h1v1h-1zM157.2 591.5h1v1h-1zM160.2 591.5h1v1h-1zM163.2 591.5h1v1h-1zM149.2 592.5h1v1h-1zM154.2 592.5h1v1h-1zM158.2 592.5h1v1h-1zM160.2 592.5h4v1h-4zM146.2 593.5h2v1h-2zM152.2 593.5h1v1h-1zM155.2 593.5h1v1h-1zM158.2 593.5h1v1h-1zM149.2 594.5h2v1h-2zM153.2 594.5h1v1h-1zM157.2 594.5h2v1h-2zM160.2 594.5h2v1h-2zM156.2 595.5h1v1h-1zM167.2 595.5h1v1h-1zM154.2 596.5h1v1h-1zM157.2 596.5h2v1h-2zM161.2 596.5h1v1h-1zM153.2 597.5h1v1h-1zM157.2 597.5h1v1h-1zM148.2 598.5h1v1h-1z" fill="#e03c22" fill-opacity="1.00"/>
<ellipse cx="158.8" cy="588.5" rx="10.5" ry="8.0" transform="rotate(-35 158.8 588.5)" fill="#dc3a1e" fill-opacity="0.5" filter="url(#blur1)"/>
<ellipse cx="159.0" cy="588.6" rx="8.0" ry="5.6" transform="rotate(-35 159.0 588.6)" fill="#dc3a1e" fill-opacity="1.0" filter="url(#blur1)"/>
<rect x="135.2" y="514.5" width="91.9" height="97.0" fill="none" stroke="#555" stroke-width="0.9"/>
<line x1="173.6" y1="514.5" x2="173.6" y2="611.5" stroke="#555" stroke-width="0.9"/>
<line x1="135.2" y1="569.2" x2="227.1" y2="569.2" stroke="#555" stroke-width="0.9"/>
<line x1="133.0" y1="611.5" x2="135.2" y2="611.5" stroke="#555" stroke-width="0.7"/>
<line x1="135.2" y1="611.5" x2="135.2" y2="613.7" stroke="#555" stroke-width="0.7"/>
<line x1="134.1" y1="604.2000226051484" x2="135.2" y2="604.2000226051484" stroke="#555" stroke-width="0.4"/>
<line x1="142.11616415037994" y1="611.5" x2="142.11616415037994" y2="612.6" stroke="#555" stroke-width="0.4"/>
<line x1="134.1" y1="599.9298095730481" x2="135.2" y2="599.9298095730481" stroke="#555" stroke-width="0.4"/>
<line x1="146.16186082718423" y1="611.5" x2="146.16186082718423" y2="612.6" stroke="#555" stroke-width="0.4"/>
<line x1="134.1" y1="596.9000452102969" x2="135.2" y2="596.9000452102969" stroke="#555" stroke-width="0.4"/>
<line x1="149.03232830075993" y1="611.5" x2="149.03232830075993" y2="612.6" stroke="#555" stroke-width="0.4"/>
<line x1="134.1" y1="594.5499773948516" x2="135.2" y2="594.5499773948516" stroke="#555" stroke-width="0.4"/>
<line x1="151.25883584962003" y1="611.5" x2="151.25883584962003" y2="612.6" stroke="#555" stroke-width="0.4"/>
<line x1="134.1" y1="592.6298321781967" x2="135.2" y2="592.6298321781967" stroke="#555" stroke-width="0.4"/>
<line x1="153.0780249775642" y1="611.5" x2="153.0780249775642" y2="612.6" stroke="#555" stroke-width="0.4"/>
<line x1="134.1" y1="591.0063725296543" x2="135.2" y2="591.0063725296543" stroke="#555" stroke-width="0.4"/>
<line x1="154.61612746932755" y1="611.5" x2="154.61612746932755" y2="612.6" stroke="#555" stroke-width="0.4"/>
<line x1="134.1" y1="589.6000678154454" x2="135.2" y2="589.6000678154454" stroke="#555" stroke-width="0.4"/>
<line x1="155.94849245113988" y1="611.5" x2="155.94849245113988" y2="612.6" stroke="#555" stroke-width="0.4"/>
<line x1="134.1" y1="588.3596191460964" x2="135.2" y2="588.3596191460964" stroke="#555" stroke-width="0.4"/>
<line x1="157.12372165436847" y1="611.5" x2="157.12372165436847" y2="612.6" stroke="#555" stroke-width="0.4"/>
<line x1="133.0" y1="587.25" x2="135.2" y2="587.25" stroke="#555" stroke-width="0.7"/>
<line x1="158.17499999999998" y1="611.5" x2="158.17499999999998" y2="613.7" stroke="#555" stroke-width="0.7"/>
<line x1="134.1" y1="579.9500226051484" x2="135.2" y2="579.9500226051484" stroke="#555" stroke-width="0.4"/>
<line x1="165.09116415037994" y1="611.5" x2="165.09116415037994" y2="612.6" stroke="#555" stroke-width="0.4"/>
<line x1="134.1" y1="575.6798095730481" x2="135.2" y2="575.6798095730481" stroke="#555" stroke-width="0.4"/>
<line x1="169.13686082718422" y1="611.5" x2="169.13686082718422" y2="612.6" stroke="#555" stroke-width="0.4"/>
<line x1="134.1" y1="572.6500452102969" x2="135.2" y2="572.6500452102969" stroke="#555" stroke-width="0.4"/>
<line x1="172.00732830075992" y1="611.5" x2="172.00732830075992" y2="612.6" stroke="#555" stroke-width="0.4"/>
<line x1="134.1" y1="570.2999773948516" x2="135.2" y2="570.2999773948516" stroke="#555" stroke-width="0.4"/>
<line x1="174.23383584962002" y1="611.5" x2="174.23383584962002" y2="612.6" stroke="#555" stroke-width="0.4"/>
<line x1="134.1" y1="568.3798321781967" x2="135.2" y2="568.3798321781967" stroke="#555" stroke-width="0.4"/>
<line x1="176.0530249775642" y1="611.5" x2="176.0530249775642" y2="612.6" stroke="#555" stroke-width="0.4"/>
<line x1="134.1" y1="566.7563725296543" x2="135.2" y2="566.7563725296543" stroke="#555" stroke-width="0.4"/>
<line x1="177.59112746932755" y1="611.5" x2="177.59112746932755" y2="612.6" stroke="#555" stroke-width="0.4"/>
<line x1="134.1" y1="565.3500678154454" x2="135.2" y2="565.3500678154454" stroke="#555" stroke-width="0.4"/>
<line x1="178.92349245113988" y1="611.5" x2="178.92349245113988" y2="612.6" stroke="#555" stroke-width="0.4"/>
<line x1="134.1" y1="564.1096191460964" x2="135.2" y2="564.1096191460964" stroke="#555" stroke-width="0.4"/>
<line x1="180.09872165436846" y1="611.5" x2="180.09872165436846" y2="612.6" stroke="#555" stroke-width="0.4"/>
<line x1="133.0" y1="563.0" x2="135.2" y2="563.0" stroke="#555" stroke-width="0.7"/>
<line x1="181.14999999999998" y1="611.5" x2="181.14999999999998" y2="613.7" stroke="#555" stroke-width="0.7"/>
<line x1="134.1" y1="555.7000226051484" x2="135.2" y2="555.7000226051484" stroke="#555" stroke-width="0.4"/>
<line x1="188.06616415037993" y1="611.5" x2="188.06616415037993" y2="612.6" stroke="#555" stroke-width="0.4"/>
<line x1="134.1" y1="551.4298095730481" x2="135.2" y2="551.4298095730481" stroke="#555" stroke-width="0.4"/>
<line x1="192.11186082718422" y1="611.5" x2="192.11186082718422" y2="612.6" stroke="#555" stroke-width="0.4"/>
<line x1="134.1" y1="548.4000452102969" x2="135.2" y2="548.4000452102969" stroke="#555" stroke-width="0.4"/>
<line x1="194.98232830075992" y1="611.5" x2="194.98232830075992" y2="612.6" stroke="#555" stroke-width="0.4"/>
<line x1="134.1" y1="546.0499773948516" x2="135.2" y2="546.0499773948516" stroke="#555" stroke-width="0.4"/>
<line x1="197.20883584962002" y1="611.5" x2="197.20883584962002" y2="612.6" stroke="#555" stroke-width="0.4"/>
<line x1="134.1" y1="544.1298321781967" x2="135.2" y2="544.1298321781967" stroke="#555" stroke-width="0.4"/>
<line x1="199.0280249775642" y1="611.5" x2="199.0280249775642" y2="612.6" stroke="#555" stroke-width="0.4"/>
<line x1="134.1" y1="542.5063725296543" x2="135.2" y2="542.5063725296543" stroke="#555" stroke-width="0.4"/>
<line x1="200.56612746932754" y1="611.5" x2="200.56612746932754" y2="612.6" stroke="#555" stroke-width="0.4"/>
<line x1="134.1" y1="541.1000678154454" x2="135.2" y2="541.1000678154454" stroke="#555" stroke-width="0.4"/>
<line x1="201.89849245113987" y1="611.5" x2="201.89849245113987" y2="612.6" stroke="#555" stroke-width="0.4"/>
<line x1="134.1" y1="539.8596191460964" x2="135.2" y2="539.8596191460964" stroke="#555" stroke-width="0.4"/>
<line x1="203.07372165436846" y1="611.5" x2="203.07372165436846" y2="612.6" stroke="#555" stroke-width="0.4"/>
<line x1="133.0" y1="538.75" x2="135.2" y2="538.75" stroke="#555" stroke-width="0.7"/>
<line x1="204.125" y1="611.5" x2="204.125" y2="613.7" stroke="#555" stroke-width="0.7"/>
<line x1="134.1" y1="531.4500226051484" x2="135.2" y2="531.4500226051484" stroke="#555" stroke-width="0.4"/>
<line x1="211.04116415037996" y1="611.5" x2="211.04116415037996" y2="612.6" stroke="#555" stroke-width="0.4"/>
<line x1="134.1" y1="527.1798095730481" x2="135.2" y2="527.1798095730481" stroke="#555" stroke-width="0.4"/>
<line x1="215.08686082718424" y1="611.5" x2="215.08686082718424" y2="612.6" stroke="#555" stroke-width="0.4"/>
<line x1="134.1" y1="524.1500452102969" x2="135.2" y2="524.1500452102969" stroke="#555" stroke-width="0.4"/>
<line x1="217.95732830075994" y1="611.5" x2="217.95732830075994" y2="612.6" stroke="#555" stroke-width="0.4"/>
<line x1="134.1" y1="521.7999773948516" x2="135.2" y2="521.7999773948516" stroke="#555" stroke-width="0.4"/>
<line x1="220.18383584962004" y1="611.5" x2="220.18383584962004" y2="612.6" stroke="#555" stroke-width="0.4"/>
<line x1="134.1" y1="519.8798321781967" x2="135.2" y2="519.8798321781967" stroke="#555" stroke-width="0.4"/>
<line x1="222.00302497756422" y1="611.5" x2="222.00302497756422" y2="612.6" stroke="#555" stroke-width="0.4"/>
<line x1="134.1" y1="518.2563725296543" x2="135.2" y2="518.2563725296543" stroke="#555" stroke-width="0.4"/>
<line x1="223.54112746932756" y1="611.5" x2="223.54112746932756" y2="612.6" stroke="#555" stroke-width="0.4"/>
<line x1="134.1" y1="516.8500678154454" x2="135.2" y2="516.8500678154454" stroke="#555" stroke-width="0.4"/>
<line x1="224.8734924511399" y1="611.5" x2="224.8734924511399" y2="612.6" stroke="#555" stroke-width="0.4"/>
<line x1="134.1" y1="515.6096191460964" x2="135.2" y2="515.6096191460964" stroke="#555" stroke-width="0.4"/>
<line x1="226.04872165436848" y1="611.5" x2="226.04872165436848" y2="612.6" stroke="#555" stroke-width="0.4"/>
<line x1="133.0" y1="514.5" x2="135.2" y2="514.5" stroke="#555" stroke-width="0.7"/>
<line x1="227.1" y1="611.5" x2="227.1" y2="613.7" stroke="#555" stroke-width="0.7"/>
<text x="135.2" y="619.5" font-size="5" text-anchor="middle" fill="#333">10<tspan dy="-2" font-size="3.2">0</tspan></text>
<g transform="translate(131.0,611.5) rotate(-90)"><text x="0" y="0" font-size="5" text-anchor="middle" fill="#333">10<tspan dy="-2" font-size="3.2">0</tspan></text></g>
<text x="158.2" y="619.5" font-size="5" text-anchor="middle" fill="#333">10<tspan dy="-2" font-size="3.2">1</tspan></text>
<g transform="translate(131.0,587.2) rotate(-90)"><text x="0" y="0" font-size="5" text-anchor="middle" fill="#333">10<tspan dy="-2" font-size="3.2">1</tspan></text></g>
<text x="181.1" y="619.5" font-size="5" text-anchor="middle" fill="#333">10<tspan dy="-2" font-size="3.2">2</tspan></text>
<g transform="translate(131.0,563.0) rotate(-90)"><text x="0" y="0" font-size="5" text-anchor="middle" fill="#333">10<tspan dy="-2" font-size="3.2">2</tspan></text></g>
<text x="204.1" y="619.5" font-size="5" text-anchor="middle" fill="#333">10<tspan dy="-2" font-size="3.2">3</tspan></text>
<g transform="translate(131.0,538.8) rotate(-90)"><text x="0" y="0" font-size="5" text-anchor="middle" fill="#333">10<tspan dy="-2" font-size="3.2">3</tspan></text></g>
<text x="227.1" y="619.5" font-size="5" text-anchor="middle" fill="#333">10<tspan dy="-2" font-size="3.2">4</tspan></text>
<g transform="translate(131.0,514.5) rotate(-90)"><text x="0" y="0" font-size="5" text-anchor="middle" fill="#333">10<tspan dy="-2" font-size="3.2">4</tspan></text></g>
<text x="181.1" y="625.3" font-size="5.6" text-anchor="middle" fill="#333">Annexin V-FITC</text>
<g transform="translate(124.7,548.9) rotate(-90)"><text x="0" y="0" font-size="5" text-anchor="middle" fill="#333">PI</text></g>
<text x="136.4" y="519.5" font-size="4.8" fill="#222" stroke="#222" stroke-width="0.05">UL</text><text x="136.4" y="524.1" font-size="4.8" fill="#222" stroke="#222" stroke-width="0.05">0.2%</text>
<text x="209.6" y="519.5" font-size="4.8" fill="#222" stroke="#222" stroke-width="0.05">UR</text><text x="209.6" y="524.1" font-size="4.8" fill="#222" stroke="#222" stroke-width="0.05">2.1%</text>
<text x="136.4" y="604.9" font-size="4.8" fill="#222" stroke="#222" stroke-width="0.05">LL</text><text x="136.4" y="609.5" font-size="4.8" fill="#222" stroke="#222" stroke-width="0.05">94.9%</text>
<text x="209.6" y="604.9" font-size="4.8" fill="#222" stroke="#222" stroke-width="0.05">LR</text><text x="209.6" y="609.5" font-size="4.8" fill="#222" stroke="#222" stroke-width="0.05">2.8%</text>
<path d="M332.7 539.6h1v1h-1zM339.7 541.6h1v1h-1zM319.7 542.6h1v1h-1zM323.7 544.6h1v1h-1zM304.7 545.6h1v1h-1zM328.7 545.6h1v1h-1zM336.7 545.6h1v1h-1zM292.7 546.6h1v1h-1zM303.7 546.6h1v1h-1zM306.7 546.6h1v1h-1zM314.7 546.6h1v1h-1zM324.7 546.6h1v1h-1zM294.7 547.6h1v1h-1zM306.7 547.6h1v1h-1zM311.7 547.6h1v1h-1zM303.7 548.6h1v1h-1zM323.7 548.6h1v1h-1zM327.7 548.6h1v1h-1zM332.7 548.6h1v1h-1zM302.7 549.6h1v1h-1zM307.7 549.6h1v1h-1zM283.7 550.6h1v1h-1zM285.7 550.6h1v1h-1zM319.7 550.6h1v1h-1zM326.7 550.6h1v1h-1zM334.7 550.6h1v1h-1zM276.7 551.6h1v1h-1zM315.7 551.6h1v1h-1zM320.7 551.6h1v1h-1zM323.7 551.6h1v1h-1zM262.7 552.6h2v1h-2zM272.7 552.6h1v1h-1zM276.7 552.6h1v1h-1zM282.7 552.6h1v1h-1zM310.7 552.6h1v1h-1zM324.7 552.6h1v1h-1zM329.7 552.6h1v1h-1zM274.7 553.6h1v1h-1zM291.7 553.6h1v1h-1zM319.7 553.6h2v1h-2zM341.7 553.6h1v1h-1zM277.7 554.6h2v1h-2zM314.7 554.6h1v1h-1zM322.7 554.6h1v1h-1zM326.7 554.6h1v1h-1zM335.7 554.6h1v1h-1zM273.7 555.6h1v1h-1zM305.7 555.6h1v1h-1zM313.7 555.6h1v1h-1zM316.7 555.6h1v1h-1zM323.7 555.6h1v1h-1zM329.7 555.6h1v1h-1zM333.7 555.6h1v1h-1zM338.7 555.6h1v1h-1zM278.7 556.6h1v1h-1zM283.7 556.6h1v1h-1zM306.7 556.6h1v1h-1zM312.7 556.6h2v1h-2zM315.7 556.6h1v1h-1zM263.7 557.6h1v1h-1zM269.7 557.6h1v1h-1zM272.7 557.6h1v1h-1zM284.7 557.6h2v1h-2zM309.7 557.6h1v1h-1zM321.7 557.6h1v1h-1zM323.7 557.6h1v1h-1zM268.7 558.6h2v1h-2zM275.7 558.6h1v1h-1zM297.7 558.6h3v1h-3zM313.7 558.6h3v1h-3zM328.7 558.6h1v1h-1zM330.7 558.6h1v1h-1zM338.7 558.6h1v1h-1zM263.7 559.6h2v1h-2zM285.7 559.6h1v1h-1zM287.7 559.6h2v1h-2zM295.7 559.6h1v1h-1zM297.7 559.6h1v1h-1zM299.7 559.6h1v1h-1zM309.7 559.6h1v1h-1zM311.7 559.6h1v1h-1zM313.7 559.6h1v1h-1zM316.7 559.6h1v1h-1zM333.7 559.6h1v1h-1zM271.7 560.6h1v1h-1zM283.7 560.6h2v1h-2zM298.7 560.6h1v1h-1zM304.7 560.6h1v1h-1zM308.7 560.6h1v1h-1zM313.7 560.6h1v1h-1zM321.7 560.6h1v1h-1zM324.7 560.6h1v1h-1zM333.7 560.6h2v1h-2zM281.7 561.6h1v1h-1zM293.7 561.6h1v1h-1zM297.7 561.6h2v1h-2zM300.7 561.6h1v1h-1zM304.7 561.6h1v1h-1zM308.7 561.6h1v1h-1zM310.7 561.6h1v1h-1zM312.7 561.6h1v1h-1zM314.7 561.6h1v1h-1zM318.7 561.6h1v1h-1zM320.7 561.6h1v1h-1zM324.7 561.6h1v1h-1zM327.7 561.6h1v1h-1zM333.7 561.6h1v1h-1zM340.7 561.6h1v1h-1zM271.7 562.6h1v1h-1zM288.7 562.6h1v1h-1zM292.7 562.6h2v1h-2zM304.7 562.6h2v1h-2zM308.7 562.6h1v1h-1zM311.7 562.6h2v1h-2zM317.7 562.6h1v1h-1zM324.7 562.6h1v1h-1zM326.7 562.6h1v1h-1zM280.7 563.6h2v1h-2zM295.7 563.6h1v1h-1zM307.7 563.6h2v1h-2zM311.7 563.6h1v1h-1zM313.7 563.6h1v1h-1zM315.7 563.6h1v1h-1zM320.7 563.6h1v1h-1zM323.7 563.6h1v1h-1zM293.7 564.6h1v1h-1zM301.7 564.6h1v1h-1zM305.7 564.6h2v1h-2zM308.7 564.6h1v1h-1zM310.7 564.6h1v1h-1zM330.7 564.6h1v1h-1zM261.7 565.6h1v1h-1zM269.7 565.6h1v1h-1zM280.7 565.6h1v1h-1zM287.7 565.6h1v1h-1zM295.7 565.6h2v1h-2zM298.7 565.6h1v1h-1zM302.7 565.6h1v1h-1zM309.7 565.6h2v1h-2zM312.7 565.6h1v1h-1zM315.7 565.6h1v1h-1zM321.7 565.6h2v1h-2zM324.7 565.6h1v1h-1zM278.7 566.6h1v1h-1zM288.7 566.6h3v1h-3zM306.7 566.6h2v1h-2zM310.7 566.6h1v1h-1zM313.7 566.6h1v1h-1zM317.7 566.6h1v1h-1zM320.7 566.6h1v1h-1zM324.7 566.6h1v1h-1zM282.7 567.6h2v1h-2zM292.7 567.6h1v1h-1zM298.7 567.6h1v1h-1zM302.7 567.6h1v1h-1zM305.7 567.6h2v1h-2zM308.7 567.6h2v1h-2zM313.7 567.6h1v1h-1zM315.7 567.6h2v1h-2zM321.7 567.6h1v1h-1zM262.7 568.6h1v1h-1zM266.7 568.6h1v1h-1zM275.7 568.6h1v1h-1zM280.7 568.6h1v1h-1zM288.7 568.6h5v1h-5zM301.7 568.6h1v1h-1zM303.7 568.6h1v1h-1zM308.7 568.6h1v1h-1zM310.7 568.6h1v1h-1zM313.7 568.6h2v1h-2zM319.7 568.6h2v1h-2zM325.7 568.6h1v1h-1zM271.7 569.6h1v1h-1zM278.7 569.6h1v1h-1zM297.7 569.6h1v1h-1zM301.7 569.6h1v1h-1zM307.7 569.6h2v1h-2zM310.7 569.6h2v1h-2zM317.7 569.6h1v1h-1zM279.7 570.6h1v1h-1zM288.7 570.6h1v1h-1zM292.7 570.6h1v1h-1zM295.7 570.6h1v1h-1zM298.7 570.6h1v1h-1zM300.7 570.6h2v1h-2zM305.7 570.6h2v1h-2zM309.7 570.6h2v1h-2zM316.7 570.6h1v1h-1zM328.7 570.6h1v1h-1zM330.7 570.6h1v1h-1zM286.7 571.6h1v1h-1zM288.7 571.6h1v1h-1zM293.7 571.6h1v1h-1zM297.7 571.6h1v1h-1zM304.7 571.6h1v1h-1zM306.7 571.6h2v1h-2zM311.7 571.6h2v1h-2zM327.7 571.6h1v1h-1zM274.7 572.6h1v1h-1zM286.7 572.6h1v1h-1zM289.7 572.6h1v1h-1zM293.7 572.6h1v1h-1zM296.7 572.6h1v1h-1zM304.7 572.6h2v1h-2zM314.7 572.6h1v1h-1zM316.7 572.6h1v1h-1zM325.7 572.6h1v1h-1zM265.7 573.6h1v1h-1zM276.7 573.6h1v1h-1zM284.7 573.6h1v1h-1zM300.7 573.6h2v1h-2zM305.7 573.6h1v1h-1zM307.7 573.6h1v1h-1zM311.7 573.6h1v1h-1zM269.7 574.6h2v1h-2zM274.7 574.6h1v1h-1zM287.7 574.6h2v1h-2zM292.7 574.6h4v1h-4zM305.7 574.6h1v1h-1zM314.7 574.6h2v1h-2zM318.7 574.6h1v1h-1zM322.7 574.6h1v1h-1zM265.7 575.6h2v1h-2zM270.7 575.6h1v1h-1zM274.7 575.6h1v1h-1zM276.7 575.6h1v1h-1zM279.7 575.6h1v1h-1zM282.7 575.6h1v1h-1zM284.7 575.6h1v1h-1zM289.7 575.6h1v1h-1zM291.7 575.6h2v1h-2zM299.7 575.6h1v1h-1zM310.7 575.6h1v1h-1zM266.7 576.6h1v1h-1zM270.7 576.6h2v1h-2zM275.7 576.6h1v1h-1zM277.7 576.6h1v1h-1zM279.7 576.6h1v1h-1zM283.7 576.6h3v1h-3zM307.7 576.6h1v1h-1zM317.7 576.6h1v1h-1zM324.7 576.6h1v1h-1zM263.7 577.6h1v1h-1zM269.7 577.6h2v1h-2zM277.7 577.6h1v1h-1zM281.7 577.6h1v1h-1zM293.7 577.6h2v1h-2zM297.7 577.6h1v1h-1zM301.7 577.6h1v1h-1zM304.7 577.6h1v1h-1zM317.7 577.6h1v1h-1zM260.7 578.6h1v1h-1zM266.7 578.6h4v1h-4zM272.7 578.6h1v1h-1zM277.7 578.6h1v1h-1zM284.7 578.6h4v1h-4zM297.7 578.6h1v1h-1zM302.7 578.6h1v1h-1zM310.7 578.6h1v1h-1zM258.7 579.6h1v1h-1zM264.7 579.6h1v1h-1zM272.7 579.6h1v1h-1zM274.7 579.6h1v1h-1zM284.7 579.6h1v1h-1zM297.7 579.6h1v1h-1zM308.7 579.6h1v1h-1zM257.7 580.6h1v1h-1zM262.7 580.6h1v1h-1zM264.7 580.6h1v1h-1zM269.7 580.6h2v1h-2zM273.7 580.6h2v1h-2zM281.7 580.6h1v1h-1zM284.7 580.6h1v1h-1zM292.7 580.6h1v1h-1zM295.7 580.6h1v1h-1zM299.7 580.6h1v1h-1zM302.7 580.6h1v1h-1zM305.7 580.6h1v1h-1zM253.7 581.6h1v1h-1zM255.7 581.6h1v1h-1zM259.7 581.6h1v1h-1zM262.7 581.6h1v1h-1zM264.7 581.6h1v1h-1zM266.7 581.6h1v1h-1zM272.7 581.6h4v1h-4zM277.7 581.6h1v1h-1zM280.7 581.6h1v1h-1zM286.7 581.6h2v1h-2zM294.7 581.6h1v1h-1zM301.7 581.6h1v1h-1zM303.7 581.6h2v1h-2zM308.7 581.6h1v1h-1zM311.7 581.6h1v1h-1zM256.7 582.6h1v1h-1zM259.7 582.6h1v1h-1zM262.7 582.6h1v1h-1zM265.7 582.6h1v1h-1zM268.7 582.6h1v1h-1zM270.7 582.6h1v1h-1zM272.7 582.6h1v1h-1zM276.7 582.6h2v1h-2zM279.7 582.6h1v1h-1zM283.7 582.6h1v1h-1zM292.7 582.6h1v1h-1zM294.7 582.6h1v1h-1zM296.7 582.6h1v1h-1zM298.7 582.6h1v1h-1zM305.7 582.6h1v1h-1zM317.7 582.6h1v1h-1zM256.7 583.6h1v1h-1zM261.7 583.6h1v1h-1zM263.7 583.6h1v1h-1zM268.7 583.6h1v1h-1zM271.7 583.6h1v1h-1zM274.7 583.6h2v1h-2zM286.7 583.6h1v1h-1zM289.7 583.6h1v1h-1zM293.7 583.6h1v1h-1zM297.7 583.6h2v1h-2zM301.7 583.6h1v1h-1zM257.7 584.6h1v1h-1zM261.7 584.6h1v1h-1zM269.7 584.6h2v1h-2zM277.7 584.6h2v1h-2zM281.7 584.6h3v1h-3zM285.7 584.6h2v1h-2zM288.7 584.6h1v1h-1zM297.7 584.6h1v1h-1zM306.7 584.6h1v1h-1zM259.7 585.6h1v1h-1zM263.7 585.6h1v1h-1zM272.7 585.6h1v1h-1zM277.7 585.6h1v1h-1zM280.7 585.6h1v1h-1zM282.7 585.6h1v1h-1zM285.7 585.6h1v1h-1zM288.7 585.6h1v1h-1zM290.7 585.6h1v1h-1zM293.7 585.6h1v1h-1zM254.7 586.6h1v1h-1zM258.7 586.6h3v1h-3zM276.7 586.6h1v1h-1zM278.7 586.6h1v1h-1zM283.7 586.6h1v1h-1zM287.7 586.6h1v1h-1zM289.7 586.6h1v1h-1zM304.7 586.6h2v1h-2zM254.7 587.6h2v1h-2zM260.7 587.6h3v1h-3zM265.7 587.6h1v1h-1zM285.7 587.6h1v1h-1zM254.7 588.6h1v1h-1zM259.7 588.6h2v1h-2zM265.7 588.6h2v1h-2zM278.7 588.6h2v1h-2zM282.7 588.6h1v1h-1zM284.7 588.6h1v1h-1zM288.7 588.6h1v1h-1zM290.7 588.6h1v1h-1zM256.7 589.6h1v1h-1zM258.7 589.6h1v1h-1zM263.7 589.6h1v1h-1zM284.7 589.6h2v1h-2zM287.7 589.6h1v1h-1zM257.7 590.6h3v1h-3zM261.7 590.6h1v1h-1zM264.7 590.6h1v1h-1zM271.7 590.6h1v1h-1zM280.7 590.6h1v1h-1zM283.7 590.6h1v1h-1zM295.7 590.6h1v1h-1zM256.7 591.6h2v1h-2zM259.7 591.6h1v1h-1zM263.7 591.6h2v1h-2zM275.7 591.6h2v1h-2zM288.7 591.6h1v1h-1zM252.7 592.6h1v1h-1zM259.7 592.6h1v1h-1zM261.7 592.6h1v1h-1zM263.7 592.6h1v1h-1zM275.7 592.6h2v1h-2zM279.7 592.6h1v1h-1zM282.7 592.6h1v1h-1zM253.7 593.6h3v1h-3zM257.7 593.6h1v1h-1zM259.7 593.6h2v1h-2zM265.7 593.6h1v1h-1zM281.7 593.6h1v1h-1zM283.7 593.6h1v1h-1zM285.7 593.6h1v1h-1zM287.7 593.6h1v1h-1zM259.7 594.6h1v1h-1zM261.7 594.6h1v1h-1zM264.7 594.6h1v1h-1zM266.7 594.6h1v1h-1zM276.7 594.6h2v1h-2zM279.7 594.6h1v1h-1zM283.7 594.6h1v1h-1zM286.7 594.6h1v1h-1zM254.7 595.6h1v1h-1zM256.7 595.6h1v1h-1zM258.7 595.6h1v1h-1zM261.7 595.6h1v1h-1zM265.7 595.6h1v1h-1zM277.7 595.6h2v1h-2zM280.7 595.6h1v1h-1zM282.7 595.6h1v1h-1zM254.7 596.6h1v1h-1zM259.7 596.6h2v1h-2zM268.7 596.6h1v1h-1zM270.7 596.6h2v1h-2zM273.7 596.6h1v1h-1zM281.7 596.6h1v1h-1zM285.7 596.6h1v1h-1zM288.7 596.6h1v1h-1zM253.7 597.6h2v1h-2zM256.7 597.6h1v1h-1zM258.7 597.6h3v1h-3zM263.7 597.6h1v1h-1zM271.7 597.6h1v1h-1zM273.7 597.6h1v1h-1zM276.7 597.6h1v1h-1zM279.7 597.6h2v1h-2zM298.7 597.6h1v1h-1zM257.7 598.6h2v1h-2zM266.7 598.6h1v1h-1zM269.7 598.6h2v1h-2zM273.7 598.6h1v1h-1zM280.7 598.6h2v1h-2zM252.7 599.6h1v1h-1zM254.7 599.6h1v1h-1zM258.7 599.6h1v1h-1zM264.7 599.6h2v1h-2zM267.7 599.6h1v1h-1zM275.7 599.6h1v1h-1zM282.7 599.6h1v1h-1zM251.7 600.6h1v1h-1zM261.7 600.6h1v1h-1zM263.7 600.6h2v1h-2zM267.7 600.6h1v1h-1zM272.7 600.6h3v1h-3zM279.7 600.6h1v1h-1zM252.7 601.6h1v1h-1zM256.7 601.6h1v1h-1zM258.7 601.6h1v1h-1zM260.7 601.6h1v1h-1zM262.7 601.6h1v1h-1zM267.7 601.6h1v1h-1zM284.7 601.6h1v1h-1zM260.7 602.6h2v1h-2zM265.7 602.6h1v1h-1zM274.7 602.6h1v1h-1zM278.7 602.6h1v1h-1zM254.7 603.6h1v1h-1zM259.7 603.6h2v1h-2zM265.7 603.6h2v1h-2zM270.7 603.6h1v1h-1zM275.7 603.6h1v1h-1zM264.7 604.6h1v1h-1zM269.7 604.6h2v1h-2zM274.7 604.6h1v1h-1zM281.7 604.6h1v1h-1zM264.7 605.6h2v1h-2zM269.7 605.6h1v1h-1zM276.7 605.6h1v1h-1zM269.7 606.6h1v1h-1zM266.7 607.6h1v1h-1zM256.7 608.6h1v1h-1zM266.7 608.6h1v1h-1zM259.7 610.6h1v1h-1z" fill="#e03c22" fill-opacity="0.50"/>
<path d="M320.7 552.6h1v1h-1zM324.7 553.6h1v1h-1zM315.7 554.6h1v1h-1zM298.7 556.6h1v1h-1zM306.7 561.6h1v1h-1zM309.7 561.6h1v1h-1zM301.7 562.6h1v1h-1zM298.7 563.6h2v1h-2zM321.7 563.6h1v1h-1zM313.7 564.6h1v1h-1zM318.7 565.6h1v1h-1zM303.7 566.6h1v1h-1zM308.7 566.6h1v1h-1zM312.7 566.6h1v1h-1zM286.7 569.6h1v1h-1zM292.7 569.6h1v1h-1zM295.7 569.6h1v1h-1zM302.7 569.6h1v1h-1zM294.7 570.6h1v1h-1zM299.7 570.6h1v1h-1zM312.7 570.6h1v1h-1zM318.7 570.6h1v1h-1zM280.7 571.6h1v1h-1zM309.7 571.6h1v1h-1zM319.7 571.6h1v1h-1zM283.7 572.6h1v1h-1zM287.7 572.6h1v1h-1zM297.7 572.6h1v1h-1zM300.7 572.6h1v1h-1zM299.7 574.6h2v1h-2zM306.7 575.6h1v1h-1zM286.7 576.6h1v1h-1zM304.7 576.6h1v1h-1zM270.7 578.6h1v1h-1zM267.7 579.6h1v1h-1zM275.7 579.6h1v1h-1zM277.7 579.6h2v1h-2zM280.7 579.6h1v1h-1zM292.7 579.6h1v1h-1zM294.7 579.6h1v1h-1zM266.7 580.6h3v1h-3zM272.7 580.6h1v1h-1zM276.7 580.6h1v1h-1zM280.7 580.6h1v1h-1zM283.7 580.6h1v1h-1zM256.7 581.6h1v1h-1zM263.7 581.6h1v1h-1zM268.7 581.6h2v1h-2zM279.7 581.6h1v1h-1zM291.7 581.6h1v1h-1zM307.7 581.6h1v1h-1zM273.7 582.6h1v1h-1zM258.7 583.6h1v1h-1zM262.7 583.6h1v1h-1zM264.7 583.6h1v1h-1zM266.7 583.6h1v1h-1zM276.7 583.6h1v1h-1zM278.7 583.6h2v1h-2zM281.7 583.6h1v1h-1zM288.7 583.6h1v1h-1zM263.7 584.6h4v1h-4zM272.7 584.6h1v1h-1zM299.7 584.6h1v1h-1zM264.7 585.6h1v1h-1zM276.7 585.6h1v1h-1zM279.7 585.6h1v1h-1zM284.7 585.6h1v1h-1zM264.7 586.6h2v1h-2zM268.7 586.6h1v1h-1zM273.7 586.6h1v1h-1zM275.7 586.6h1v1h-1zM279.7 586.6h1v1h-1zM281.7 586.6h1v1h-1zM258.7 587.6h1v1h-1zM264.7 587.6h1v1h-1zM274.7 587.6h1v1h-1zM278.7 587.6h1v1h-1zM261.7 588.6h1v1h-1zM271.7 588.6h1v1h-1zM280.7 588.6h2v1h-2zM283.7 588.6h1v1h-1zM259.7 589.6h2v1h-2zM265.7 589.6h2v1h-2zM270.7 589.6h1v1h-1zM273.7 589.6h2v1h-2zM278.7 589.6h3v1h-3zM263.7 590.6h1v1h-1zM272.7 590.6h2v1h-2zM278.7 590.6h2v1h-2zM281.7 590.6h1v1h-1zM258.7 591.6h1v1h-1zM260.7 591.6h1v1h-1zM265.7 591.6h1v1h-1zM282.7 591.6h1v1h-1zM262.7 592.6h1v1h-1zM264.7 592.6h1v1h-1zM269.7 592.6h1v1h-1zM272.7 592.6h1v1h-1zM283.7 592.6h1v1h-1zM263.7 593.6h2v1h-2zM266.7 593.6h1v1h-1zM268.7 593.6h1v1h-1zM284.7 593.6h1v1h-1zM258.7 594.6h1v1h-1zM260.7 594.6h1v1h-1zM271.7 594.6h1v1h-1zM275.7 594.6h1v1h-1zM278.7 594.6h1v1h-1zM262.7 595.6h1v1h-1zM272.7 595.6h1v1h-1zM275.7 595.6h2v1h-2zM262.7 596.6h1v1h-1zM264.7 596.6h1v1h-1zM269.7 596.6h1v1h-1zM272.7 596.6h1v1h-1zM275.7 596.6h3v1h-3zM262.7 597.6h1v1h-1zM272.7 597.6h1v1h-1zM274.7 597.6h2v1h-2zM256.7 598.6h1v1h-1zM264.7 598.6h1v1h-1zM275.7 598.6h1v1h-1zM277.7 599.6h1v1h-1zM262.7 600.6h1v1h-1zM259.7 601.6h1v1h-1zM263.7 601.6h1v1h-1zM271.7 601.6h1v1h-1zM268.7 602.6h1v1h-1zM271.7 602.6h1v1h-1zM271.7 605.6h1v1h-1z" fill="#e03c22" fill-opacity="0.75"/>
<path d="M309.7 569.6h1v1h-1zM303.7 574.6h1v1h-1zM298.7 576.6h1v1h-1zM310.7 577.6h1v1h-1zM276.7 579.6h1v1h-1zM275.7 580.6h1v1h-1zM276.7 581.6h1v1h-1zM264.7 582.6h1v1h-1zM271.7 582.6h1v1h-1zM274.7 582.6h1v1h-1zM267.7 583.6h1v1h-1zM269.7 583.6h2v1h-2zM277.7 583.6h1v1h-1zM271.7 584.6h1v1h-1zM274.7 584.6h1v1h-1zM279.7 584.6h1v1h-1zM284.7 584.6h1v1h-1zM265.7 585.6h1v1h-1zM269.7 585.6h1v1h-1zM275.7 585.6h1v1h-1zM281.7 585.6h1v1h-1zM261.7 586.6h1v1h-1zM271.7 586.6h1v1h-1zM280.7 586.6h1v1h-1zM267.7 587.6h3v1h-3zM272.7 587.6h1v1h-1zM279.7 587.6h1v1h-1zM263.7 588.6h1v1h-1zM274.7 588.6h1v1h-1zM261.7 589.6h2v1h-2zM268.7 589.6h2v1h-2zM283.7 589.6h1v1h-1zM262.7 590.6h1v1h-1zM275.7 590.6h1v1h-1zM266.7 591.6h1v1h-1zM269.7 591.6h1v1h-1zM273.7 591.6h2v1h-2zM277.7 591.6h1v1h-1zM281.7 591.6h1v1h-1zM260.7 592.6h1v1h-1zM268.7 592.6h1v1h-1zM270.7 592.6h1v1h-1zM273.7 592.6h2v1h-2zM277.7 592.6h1v1h-1zM280.7 592.6h1v1h-1zM261.7 593.6h1v1h-1zM267.7 593.6h1v1h-1zM271.7 593.6h2v1h-2zM276.7 593.6h5v1h-5zM263.7 594.6h1v1h-1zM265.7 594.6h1v1h-1zM269.7 594.6h2v1h-2zM274.7 594.6h1v1h-1zM264.7 595.6h1v1h-1zM268.7 595.6h2v1h-2zM273.7 595.6h1v1h-1zM265.7 596.6h1v1h-1zM261.7 597.6h1v1h-1zM265.7 597.6h1v1h-1zM269.7 597.6h1v1h-1zM261.7 598.6h1v1h-1zM278.7 598.6h1v1h-1zM269.7 599.6h2v1h-2zM274.7 599.6h1v1h-1zM265.7 600.6h1v1h-1zM271.7 600.6h1v1h-1zM266.7 601.6h1v1h-1z" fill="#e03c22" fill-opacity="0.88"/>
<path d="M271.7 580.6h1v1h-1zM271.7 581.6h1v1h-1zM269.7 582.6h1v1h-1zM275.7 582.6h1v1h-1zM272.7 583.6h2v1h-2zM280.7 583.6h1v1h-1zM262.7 584.6h1v1h-1zM267.7 584.6h2v1h-2zM273.7 584.6h1v1h-1zM275.7 584.6h1v1h-1zM280.7 584.6h1v1h-1zM262.7 585.6h1v1h-1zM267.7 585.6h2v1h-2zM271.7 585.6h1v1h-1zM273.7 585.6h2v1h-2zM278.7 585.6h1v1h-1zM263.7 586.6h1v1h-1zM266.7 586.6h2v1h-2zM269.7 586.6h2v1h-2zM272.7 586.6h1v1h-1zM274.7 586.6h1v1h-1zM277.7 586.6h1v1h-1zM259.7 587.6h1v1h-1zM266.7 587.6h1v1h-1zM270.7 587.6h2v1h-2zM273.7 587.6h1v1h-1zM275.7 587.6h2v1h-2zM280.7 587.6h1v1h-1zM262.7 588.6h1v1h-1zM264.7 588.6h1v1h-1zM267.7 588.6h4v1h-4zM272.7 588.6h2v1h-2zM275.7 588.6h1v1h-1zM264.7 589.6h1v1h-1zM267.7 589.6h1v1h-1zM271.7 589.6h2v1h-2zM275.7 589.6h3v1h-3zM265.7 590.6h2v1h-2zM268.7 590.6h3v1h-3zM274.7 590.6h1v1h-1zM276.7 590.6h2v1h-2zM262.7 591.6h1v1h-1zM267.7 591.6h2v1h-2zM270.7 591.6h3v1h-3zM284.7 591.6h1v1h-1zM265.7 592.6h3v1h-3zM271.7 592.6h1v1h-1zM278.7 592.6h1v1h-1zM281.7 592.6h1v1h-1zM262.7 593.6h1v1h-1zM269.7 593.6h2v1h-2zM273.7 593.6h3v1h-3zM267.7 594.6h2v1h-2zM272.7 594.6h2v1h-2zM263.7 595.6h1v1h-1zM266.7 595.6h2v1h-2zM270.7 595.6h2v1h-2zM279.7 595.6h1v1h-1zM266.7 596.6h2v1h-2zM267.7 597.6h1v1h-1zM267.7 598.6h1v1h-1z" fill="#e03c22" fill-opacity="1.00"/>
<ellipse cx="271.8" cy="592.4" rx="10.5" ry="6.0" transform="rotate(-38 271.8 592.4)" fill="#dc3a1e" fill-opacity="0.5" filter="url(#blur1)"/>
<ellipse cx="272.0" cy="592.4" rx="8.5" ry="4.5" transform="rotate(-38 272.0 592.4)" fill="#dc3a1e" fill-opacity="1.0" filter="url(#blur1)"/>
<rect x="251.7" y="514.6" width="92.0" height="97.2" fill="none" stroke="#555" stroke-width="0.9"/>
<line x1="290.6" y1="514.6" x2="290.6" y2="611.8" stroke="#555" stroke-width="0.9"/>
<line x1="251.7" y1="569.1" x2="343.7" y2="569.1" stroke="#555" stroke-width="0.9"/>
<line x1="249.5" y1="611.8" x2="251.7" y2="611.8" stroke="#555" stroke-width="0.7"/>
<line x1="251.7" y1="611.8" x2="251.7" y2="614.0" stroke="#555" stroke-width="0.7"/>
<line x1="250.6" y1="604.4849711053652" x2="251.7" y2="604.4849711053652" stroke="#555" stroke-width="0.4"/>
<line x1="258.62368990027153" y1="611.8" x2="258.62368990027153" y2="612.9" stroke="#555" stroke-width="0.4"/>
<line x1="250.6" y1="600.2059535103122" x2="251.7" y2="600.2059535103122" stroke="#555" stroke-width="0.4"/>
<line x1="262.6737888585522" y1="611.8" x2="262.6737888585522" y2="612.9" stroke="#555" stroke-width="0.4"/>
<line x1="250.6" y1="597.1699422107305" x2="251.7" y2="597.1699422107305" stroke="#555" stroke-width="0.4"/>
<line x1="265.5473798005431" y1="611.8" x2="265.5473798005431" y2="612.9" stroke="#555" stroke-width="0.4"/>
<line x1="250.6" y1="594.8150288946347" x2="251.7" y2="594.8150288946347" stroke="#555" stroke-width="0.4"/>
<line x1="267.77631009972845" y1="611.8" x2="267.77631009972845" y2="612.9" stroke="#555" stroke-width="0.4"/>
<line x1="250.6" y1="592.8909246156775" x2="251.7" y2="592.8909246156775" stroke="#555" stroke-width="0.4"/>
<line x1="269.5974787588238" y1="611.8" x2="269.5974787588238" y2="612.9" stroke="#555" stroke-width="0.4"/>
<line x1="250.6" y1="591.2641176276535" x2="251.7" y2="591.2641176276535" stroke="#555" stroke-width="0.4"/>
<line x1="271.1372549203279" y1="611.8" x2="271.1372549203279" y2="612.9" stroke="#555" stroke-width="0.4"/>
<line x1="250.6" y1="589.8549133160957" x2="251.7" y2="589.8549133160957" stroke="#555" stroke-width="0.4"/>
<line x1="272.47106970081467" y1="611.8" x2="272.47106970081467" y2="612.9" stroke="#555" stroke-width="0.4"/>
<line x1="250.6" y1="588.6119070206244" x2="251.7" y2="588.6119070206244" stroke="#555" stroke-width="0.4"/>
<line x1="273.64757771710447" y1="611.8" x2="273.64757771710447" y2="612.9" stroke="#555" stroke-width="0.4"/>
<line x1="249.5" y1="587.5" x2="251.7" y2="587.5" stroke="#555" stroke-width="0.7"/>
<line x1="274.7" y1="611.8" x2="274.7" y2="614.0" stroke="#555" stroke-width="0.7"/>
<line x1="250.6" y1="580.1849711053652" x2="251.7" y2="580.1849711053652" stroke="#555" stroke-width="0.4"/>
<line x1="281.62368990027153" y1="611.8" x2="281.62368990027153" y2="612.9" stroke="#555" stroke-width="0.4"/>
<line x1="250.6" y1="575.9059535103122" x2="251.7" y2="575.9059535103122" stroke="#555" stroke-width="0.4"/>
<line x1="285.6737888585522" y1="611.8" x2="285.6737888585522" y2="612.9" stroke="#555" stroke-width="0.4"/>
<line x1="250.6" y1="572.8699422107305" x2="251.7" y2="572.8699422107305" stroke="#555" stroke-width="0.4"/>
<line x1="288.5473798005431" y1="611.8" x2="288.5473798005431" y2="612.9" stroke="#555" stroke-width="0.4"/>
<line x1="250.6" y1="570.5150288946347" x2="251.7" y2="570.5150288946347" stroke="#555" stroke-width="0.4"/>
<line x1="290.77631009972845" y1="611.8" x2="290.77631009972845" y2="612.9" stroke="#555" stroke-width="0.4"/>
<line x1="250.6" y1="568.5909246156775" x2="251.7" y2="568.5909246156775" stroke="#555" stroke-width="0.4"/>
<line x1="292.5974787588238" y1="611.8" x2="292.5974787588238" y2="612.9" stroke="#555" stroke-width="0.4"/>
<line x1="250.6" y1="566.9641176276535" x2="251.7" y2="566.9641176276535" stroke="#555" stroke-width="0.4"/>
<line x1="294.1372549203279" y1="611.8" x2="294.1372549203279" y2="612.9" stroke="#555" stroke-width="0.4"/>
<line x1="250.6" y1="565.5549133160957" x2="251.7" y2="565.5549133160957" stroke="#555" stroke-width="0.4"/>
<line x1="295.47106970081467" y1="611.8" x2="295.47106970081467" y2="612.9" stroke="#555" stroke-width="0.4"/>
<line x1="250.6" y1="564.3119070206244" x2="251.7" y2="564.3119070206244" stroke="#555" stroke-width="0.4"/>
<line x1="296.64757771710447" y1="611.8" x2="296.64757771710447" y2="612.9" stroke="#555" stroke-width="0.4"/>
<line x1="249.5" y1="563.2" x2="251.7" y2="563.2" stroke="#555" stroke-width="0.7"/>
<line x1="297.7" y1="611.8" x2="297.7" y2="614.0" stroke="#555" stroke-width="0.7"/>
<line x1="250.6" y1="555.8849711053653" x2="251.7" y2="555.8849711053653" stroke="#555" stroke-width="0.4"/>
<line x1="304.62368990027153" y1="611.8" x2="304.62368990027153" y2="612.9" stroke="#555" stroke-width="0.4"/>
<line x1="250.6" y1="551.6059535103122" x2="251.7" y2="551.6059535103122" stroke="#555" stroke-width="0.4"/>
<line x1="308.6737888585522" y1="611.8" x2="308.6737888585522" y2="612.9" stroke="#555" stroke-width="0.4"/>
<line x1="250.6" y1="548.5699422107306" x2="251.7" y2="548.5699422107306" stroke="#555" stroke-width="0.4"/>
<line x1="311.5473798005431" y1="611.8" x2="311.5473798005431" y2="612.9" stroke="#555" stroke-width="0.4"/>
<line x1="250.6" y1="546.2150288946348" x2="251.7" y2="546.2150288946348" stroke="#555" stroke-width="0.4"/>
<line x1="313.77631009972845" y1="611.8" x2="313.77631009972845" y2="612.9" stroke="#555" stroke-width="0.4"/>
<line x1="250.6" y1="544.2909246156776" x2="251.7" y2="544.2909246156776" stroke="#555" stroke-width="0.4"/>
<line x1="315.5974787588238" y1="611.8" x2="315.5974787588238" y2="612.9" stroke="#555" stroke-width="0.4"/>
<line x1="250.6" y1="542.6641176276536" x2="251.7" y2="542.6641176276536" stroke="#555" stroke-width="0.4"/>
<line x1="317.1372549203279" y1="611.8" x2="317.1372549203279" y2="612.9" stroke="#555" stroke-width="0.4"/>
<line x1="250.6" y1="541.2549133160958" x2="251.7" y2="541.2549133160958" stroke="#555" stroke-width="0.4"/>
<line x1="318.47106970081467" y1="611.8" x2="318.47106970081467" y2="612.9" stroke="#555" stroke-width="0.4"/>
<line x1="250.6" y1="540.0119070206244" x2="251.7" y2="540.0119070206244" stroke="#555" stroke-width="0.4"/>
<line x1="319.64757771710447" y1="611.8" x2="319.64757771710447" y2="612.9" stroke="#555" stroke-width="0.4"/>
<line x1="249.5" y1="538.9" x2="251.7" y2="538.9" stroke="#555" stroke-width="0.7"/>
<line x1="320.7" y1="611.8" x2="320.7" y2="614.0" stroke="#555" stroke-width="0.7"/>
<line x1="250.6" y1="531.5849711053652" x2="251.7" y2="531.5849711053652" stroke="#555" stroke-width="0.4"/>
<line x1="327.62368990027153" y1="611.8" x2="327.62368990027153" y2="612.9" stroke="#555" stroke-width="0.4"/>
<line x1="250.6" y1="527.3059535103122" x2="251.7" y2="527.3059535103122" stroke="#555" stroke-width="0.4"/>
<line x1="331.6737888585522" y1="611.8" x2="331.6737888585522" y2="612.9" stroke="#555" stroke-width="0.4"/>
<line x1="250.6" y1="524.2699422107305" x2="251.7" y2="524.2699422107305" stroke="#555" stroke-width="0.4"/>
<line x1="334.5473798005431" y1="611.8" x2="334.5473798005431" y2="612.9" stroke="#555" stroke-width="0.4"/>
<line x1="250.6" y1="521.9150288946347" x2="251.7" y2="521.9150288946347" stroke="#555" stroke-width="0.4"/>
<line x1="336.77631009972845" y1="611.8" x2="336.77631009972845" y2="612.9" stroke="#555" stroke-width="0.4"/>
<line x1="250.6" y1="519.9909246156775" x2="251.7" y2="519.9909246156775" stroke="#555" stroke-width="0.4"/>
<line x1="338.5974787588238" y1="611.8" x2="338.5974787588238" y2="612.9" stroke="#555" stroke-width="0.4"/>
<line x1="250.6" y1="518.3641176276535" x2="251.7" y2="518.3641176276535" stroke="#555" stroke-width="0.4"/>
<line x1="340.1372549203279" y1="611.8" x2="340.1372549203279" y2="612.9" stroke="#555" stroke-width="0.4"/>
<line x1="250.6" y1="516.9549133160957" x2="251.7" y2="516.9549133160957" stroke="#555" stroke-width="0.4"/>
<line x1="341.47106970081467" y1="611.8" x2="341.47106970081467" y2="612.9" stroke="#555" stroke-width="0.4"/>
<line x1="250.6" y1="515.7119070206244" x2="251.7" y2="515.7119070206244" stroke="#555" stroke-width="0.4"/>
<line x1="342.64757771710447" y1="611.8" x2="342.64757771710447" y2="612.9" stroke="#555" stroke-width="0.4"/>
<line x1="249.5" y1="514.6" x2="251.7" y2="514.6" stroke="#555" stroke-width="0.7"/>
<line x1="343.7" y1="611.8" x2="343.7" y2="614.0" stroke="#555" stroke-width="0.7"/>
<text x="251.7" y="619.8" font-size="5" text-anchor="middle" fill="#333">10<tspan dy="-2" font-size="3.2">0</tspan></text>
<g transform="translate(247.5,611.8) rotate(-90)"><text x="0" y="0" font-size="5" text-anchor="middle" fill="#333">10<tspan dy="-2" font-size="3.2">0</tspan></text></g>
<text x="274.7" y="619.8" font-size="5" text-anchor="middle" fill="#333">10<tspan dy="-2" font-size="3.2">1</tspan></text>
<g transform="translate(247.5,587.5) rotate(-90)"><text x="0" y="0" font-size="5" text-anchor="middle" fill="#333">10<tspan dy="-2" font-size="3.2">1</tspan></text></g>
<text x="297.7" y="619.8" font-size="5" text-anchor="middle" fill="#333">10<tspan dy="-2" font-size="3.2">2</tspan></text>
<g transform="translate(247.5,563.2) rotate(-90)"><text x="0" y="0" font-size="5" text-anchor="middle" fill="#333">10<tspan dy="-2" font-size="3.2">2</tspan></text></g>
<text x="320.7" y="619.8" font-size="5" text-anchor="middle" fill="#333">10<tspan dy="-2" font-size="3.2">3</tspan></text>
<g transform="translate(247.5,538.9) rotate(-90)"><text x="0" y="0" font-size="5" text-anchor="middle" fill="#333">10<tspan dy="-2" font-size="3.2">3</tspan></text></g>
<text x="343.7" y="619.8" font-size="5" text-anchor="middle" fill="#333">10<tspan dy="-2" font-size="3.2">4</tspan></text>
<g transform="translate(247.5,514.6) rotate(-90)"><text x="0" y="0" font-size="5" text-anchor="middle" fill="#333">10<tspan dy="-2" font-size="3.2">4</tspan></text></g>
<text x="297.7" y="625.6" font-size="5.6" text-anchor="middle" fill="#333">Annexin V-FITC</text>
<g transform="translate(241.2,548.9) rotate(-90)"><text x="0" y="0" font-size="5" text-anchor="middle" fill="#333">PI</text></g>
<text x="252.9" y="519.6" font-size="4.8" fill="#222" stroke="#222" stroke-width="0.05">UL</text><text x="252.9" y="524.2" font-size="4.8" fill="#222" stroke="#222" stroke-width="0.05">0.6%</text>
<text x="326.2" y="519.6" font-size="4.8" fill="#222" stroke="#222" stroke-width="0.05">UR</text><text x="326.2" y="524.2" font-size="4.8" fill="#222" stroke="#222" stroke-width="0.05">3.9%</text>
<text x="252.9" y="605.2" font-size="4.8" fill="#222" stroke="#222" stroke-width="0.05">LL</text><text x="252.9" y="609.8" font-size="4.8" fill="#222" stroke="#222" stroke-width="0.05">91.3%</text>
<text x="326.2" y="605.2" font-size="4.8" fill="#222" stroke="#222" stroke-width="0.05">LR</text><text x="326.2" y="609.8" font-size="4.8" fill="#222" stroke="#222" stroke-width="0.05">4.2%</text>
<rect x="429.10" y="450.50" width="17.50" height="5.30" fill="url(#pDot)" stroke="#222" stroke-width="0.8" />
<text x="456" y="457" font-size="11" text-anchor="start" fill="#1a1a1a" stroke="#1a1a1a" stroke-width="0.15" textLength="35.5" lengthAdjust="spacingAndGlyphs" >Control</text>
<rect x="514.90" y="450.50" width="18.70" height="5.30" fill="url(#pFine)" stroke="#222" stroke-width="0.8" />
<text x="542.5" y="457" font-size="11" text-anchor="start" fill="#1a1a1a" stroke="#1a1a1a" stroke-width="0.15" textLength="89.9" lengthAdjust="spacingAndGlyphs" >miR-324-5p mimic</text>
<rect x="429.10" y="468.50" width="17.50" height="5.90" fill="url(#pChkE)" stroke="#222" stroke-width="0.8" />
<text x="455.7" y="475.5" font-size="11" text-anchor="start" fill="#1a1a1a" stroke="#1a1a1a" stroke-width="0.15" textLength="179" lengthAdjust="spacingAndGlyphs" >miR-324-5p mimic+pcDNA3.1-PTEN</text>
<line x1="428.0" y1="483.3" x2="428.0" y2="643.3000000000001" stroke="#1a1a1a" stroke-width="1.6"/>
<line x1="427.3" y1="642.6" x2="667.8" y2="642.6" stroke="#1a1a1a" stroke-width="1.6"/>
<line x1="424.0" y1="642.6" x2="428.0" y2="642.6" stroke="#1a1a1a" stroke-width="1.4"/>
<text x="421.8" y="646.6" font-size="11.0" font-weight="bold" text-anchor="end" fill="#1a1a1a" stroke="#1a1a1a" stroke-width="0.3" textLength="6.0" lengthAdjust="spacingAndGlyphs" >0</text>
<line x1="424.0" y1="589.6" x2="428.0" y2="589.6" stroke="#1a1a1a" stroke-width="1.4"/>
<text x="421.8" y="593.6" font-size="11.0" font-weight="bold" text-anchor="end" fill="#1a1a1a" stroke="#1a1a1a" stroke-width="0.3" textLength="6.0" lengthAdjust="spacingAndGlyphs" >5</text>
<line x1="424.0" y1="536.6" x2="428.0" y2="536.6" stroke="#1a1a1a" stroke-width="1.4"/>
<text x="421.8" y="540.6" font-size="11.0" font-weight="bold" text-anchor="end" fill="#1a1a1a" stroke="#1a1a1a" stroke-width="0.3" textLength="12.1" lengthAdjust="spacingAndGlyphs" >10</text>
<line x1="424.0" y1="483.6" x2="428.0" y2="483.6" stroke="#1a1a1a" stroke-width="1.4"/>
<text x="421.8" y="487.6" font-size="11.0" font-weight="bold" text-anchor="end" fill="#1a1a1a" stroke="#1a1a1a" stroke-width="0.3" textLength="12.1" lengthAdjust="spacingAndGlyphs" >15</text>
<line x1="479.90000000000003" y1="535.5400000000001" x2="479.90000000000003" y2="526.0" stroke="#1a1a1a" stroke-width="1.5"/>
<line x1="467.40000000000003" y1="526.0" x2="492.40000000000003" y2="526.0" stroke="#1a1a1a" stroke-width="1.7999999999999998"/>
<rect x="453.60" y="535.54" width="52.60" height="107.06" fill="url(#pDot)" stroke="#111" stroke-width="1.2" />
<line x1="479.90000000000003" y1="642.6" x2="479.90000000000003" y2="646.6" stroke="#1a1a1a" stroke-width="1.4"/>
<line x1="547.3" y1="591.402" x2="547.3" y2="584.3000000000001" stroke="#1a1a1a" stroke-width="1.5"/>
<line x1="534.8" y1="584.3000000000001" x2="559.8" y2="584.3000000000001" stroke="#1a1a1a" stroke-width="1.7999999999999998"/>
<rect x="521.00" y="591.40" width="52.60" height="51.20" fill="url(#pFine)" stroke="#111" stroke-width="1.2" />
<line x1="547.3" y1="642.6" x2="547.3" y2="646.6" stroke="#1a1a1a" stroke-width="1.4"/>
<line x1="615.1999999999999" y1="555.892" x2="615.1999999999999" y2="548.8960000000001" stroke="#1a1a1a" stroke-width="1.5"/>
<line x1="602.6999999999999" y1="548.8960000000001" x2="627.6999999999999" y2="548.8960000000001" stroke="#1a1a1a" stroke-width="1.7999999999999998"/>
<rect x="588.90" y="555.89" width="52.60" height="86.71" fill="url(#pChkE)" stroke="#111" stroke-width="1.2" />
<line x1="615.1999999999999" y1="642.6" x2="615.1999999999999" y2="646.6" stroke="#1a1a1a" stroke-width="1.4"/>
<text x="547.3" y="583" font-size="12.5" font-weight="bold" text-anchor="middle" fill="#1a1a1a" stroke="#1a1a1a" stroke-width="0.3" >**</text>
<text x="615.2" y="545.8" font-size="11" font-weight="bold" text-anchor="middle" fill="#1a1a1a" stroke="#1a1a1a" stroke-width="0.3" >#</text>
<g transform="translate(401.2,563.5) scale(1.1,1) rotate(-90)"><text x="0" y="0" font-size="13.5" font-weight="bold" text-anchor="middle" fill="#1a1a1a" stroke="#1a1a1a" stroke-width="0.3" textLength="132" lengthAdjust="spacingAndGlyphs">Apoptosis rate (%)</text></g>
<text x="0" y="696.6" font-size="23" font-weight="bold" text-anchor="start" fill="#000" stroke="#000" stroke-width="0.3" >F</text>
<text x="365.5" y="696.8" font-size="23" font-weight="bold" text-anchor="start" fill="#000" stroke="#000" stroke-width="0.3" >G</text>
<text x="69" y="710.6" font-size="10.2" font-weight="bold" text-anchor="middle" fill="#1a1a1a" stroke="#1a1a1a" stroke-width="0.3" textLength="36.4" lengthAdjust="spacingAndGlyphs" >Control</text>
<text x="169.6" y="703.4" font-size="10.2" font-weight="bold" text-anchor="middle" fill="#1a1a1a" stroke="#1a1a1a" stroke-width="0.3" textLength="55.4" lengthAdjust="spacingAndGlyphs" >miR-324-5p</text>
<text x="170.2" y="715.2" font-size="10.2" font-weight="bold" text-anchor="middle" fill="#1a1a1a" stroke="#1a1a1a" stroke-width="0.3" textLength="28.5" lengthAdjust="spacingAndGlyphs" >mimic</text>
<text x="269.7" y="703.4" font-size="10.2" font-weight="bold" text-anchor="middle" fill="#1a1a1a" stroke="#1a1a1a" stroke-width="0.3" textLength="89" lengthAdjust="spacingAndGlyphs" >miR-324-5p mimic</text>
<text x="269.7" y="715.2" font-size="10.2" font-weight="bold" text-anchor="middle" fill="#1a1a1a" stroke="#1a1a1a" stroke-width="0.3" textLength="87.7" lengthAdjust="spacingAndGlyphs" >+pcDNA3.1-PTEN</text>
<text x="430.6" y="711" font-size="10.2" font-weight="bold" text-anchor="middle" fill="#1a1a1a" stroke="#1a1a1a" stroke-width="0.3" textLength="37.3" lengthAdjust="spacingAndGlyphs" >Control</text>
<text x="531.7" y="703.5" font-size="10.2" font-weight="bold" text-anchor="middle" fill="#1a1a1a" stroke="#1a1a1a" stroke-width="0.3" textLength="55.6" lengthAdjust="spacingAndGlyphs" >miR-324-5p</text>
<text x="532" y="715.5" font-size="10.2" font-weight="bold" text-anchor="middle" fill="#1a1a1a" stroke="#1a1a1a" stroke-width="0.3" textLength="30" lengthAdjust="spacingAndGlyphs" >mimic</text>
<text x="632.7" y="703.5" font-size="10.2" font-weight="bold" text-anchor="middle" fill="#1a1a1a" stroke="#1a1a1a" stroke-width="0.3" textLength="90" lengthAdjust="spacingAndGlyphs" >miR-324-5p mimic</text>
<text x="632.5" y="715.5" font-size="10.2" font-weight="bold" text-anchor="middle" fill="#1a1a1a" stroke="#1a1a1a" stroke-width="0.3" textLength="88" lengthAdjust="spacingAndGlyphs" >+pcDNA3.1-PTEN</text>
<g transform="translate(13.4,760.6) scale(1.0,1) rotate(-90)"><text x="0" y="0" font-size="10.3" font-weight="bold" text-anchor="middle" fill="#1a1a1a" stroke="#1a1a1a" stroke-width="0.3" textLength="46.5" lengthAdjust="spacingAndGlyphs">Migration</text></g>
<g transform="translate(379.6,757) scale(1.0,1) rotate(-90)"><text x="0" y="0" font-size="10.3" font-weight="bold" text-anchor="middle" fill="#1a1a1a" stroke="#1a1a1a" stroke-width="0.3" textLength="42" lengthAdjust="spacingAndGlyphs">Invasion</text></g>
<rect x="98.00" y="810.50" width="15.10" height="4.20" fill="url(#pDot)" stroke="#222" stroke-width="0.8" />
<text x="118.3" y="815.5" font-size="8.3" text-anchor="start" fill="#1a1a1a" stroke="#1a1a1a" stroke-width="0.15" textLength="27" lengthAdjust="spacingAndGlyphs" >Control</text>
<rect x="163.90" y="810.50" width="15.70" height="4.20" fill="url(#pFine)" stroke="#222" stroke-width="0.8" />
<text x="183.1" y="815.5" font-size="8.3" text-anchor="start" fill="#1a1a1a" stroke="#1a1a1a" stroke-width="0.15" textLength="65.9" lengthAdjust="spacingAndGlyphs" >miR-324-5p mimic</text>
<rect x="98.00" y="824.50" width="15.10" height="4.20" fill="url(#pChkF)" stroke="#222" stroke-width="0.8" />
<text x="118.3" y="829.5" font-size="8.3" text-anchor="start" fill="#1a1a1a" stroke="#1a1a1a" stroke-width="0.15" textLength="133.2" lengthAdjust="spacingAndGlyphs" >miR-324-5p mimic+pcDNA3.1-PTEN</text>
<line x1="98.5" y1="836" x2="98.5" y2="954.4000000000001" stroke="#1a1a1a" stroke-width="1.5"/>
<line x1="97.8" y1="953.7" x2="264.4" y2="953.7" stroke="#1a1a1a" stroke-width="1.5"/>
<line x1="94.7" y1="953.7" x2="98.5" y2="953.7" stroke="#1a1a1a" stroke-width="1.3"/>
<text x="93.3" y="956.6" font-size="8.3" font-weight="bold" text-anchor="end" fill="#1a1a1a" stroke="#1a1a1a" stroke-width="0.3" textLength="4.7" lengthAdjust="spacingAndGlyphs" >0</text>
<line x1="94.7" y1="914.4000000000001" x2="98.5" y2="914.4000000000001" stroke="#1a1a1a" stroke-width="1.3"/>
<text x="93.3" y="917.3000000000001" font-size="8.3" font-weight="bold" text-anchor="end" fill="#1a1a1a" stroke="#1a1a1a" stroke-width="0.3" textLength="14.1" lengthAdjust="spacingAndGlyphs" >200</text>
<line x1="94.7" y1="875.1" x2="98.5" y2="875.1" stroke="#1a1a1a" stroke-width="1.3"/>
<text x="93.3" y="878.0" font-size="8.3" font-weight="bold" text-anchor="end" fill="#1a1a1a" stroke="#1a1a1a" stroke-width="0.3" textLength="14.1" lengthAdjust="spacingAndGlyphs" >400</text>
<line x1="94.7" y1="835.8000000000001" x2="98.5" y2="835.8000000000001" stroke="#1a1a1a" stroke-width="1.3"/>
<text x="93.3" y="838.7" font-size="8.3" font-weight="bold" text-anchor="end" fill="#1a1a1a" stroke="#1a1a1a" stroke-width="0.3" textLength="14.1" lengthAdjust="spacingAndGlyphs" >600</text>
<line x1="136.8" y1="895.3395" x2="136.8" y2="888.6585" stroke="#1a1a1a" stroke-width="1.3"/>
<line x1="127.80000000000001" y1="888.6585" x2="145.8" y2="888.6585" stroke="#1a1a1a" stroke-width="1.56"/>
<rect x="117.40" y="895.34" width="38.70" height="58.36" fill="url(#pDot)" stroke="#111" stroke-width="1.1" />
<line x1="136.8" y1="953.7" x2="136.8" y2="957.3000000000001" stroke="#1a1a1a" stroke-width="1.3"/>
<line x1="186.70000000000002" y1="856.0395000000001" x2="186.70000000000002" y2="848.9655" stroke="#1a1a1a" stroke-width="1.3"/>
<line x1="177.70000000000002" y1="848.9655" x2="195.70000000000002" y2="848.9655" stroke="#1a1a1a" stroke-width="1.56"/>
<rect x="167.30" y="856.04" width="38.70" height="97.66" fill="url(#pFine)" stroke="#111" stroke-width="1.1" />
<line x1="186.70000000000002" y1="953.7" x2="186.70000000000002" y2="957.3000000000001" stroke="#1a1a1a" stroke-width="1.3"/>
<line x1="236.6" y1="885.318" x2="236.6" y2="881.1915" stroke="#1a1a1a" stroke-width="1.3"/>
<line x1="227.6" y1="881.1915" x2="245.6" y2="881.1915" stroke="#1a1a1a" stroke-width="1.56"/>
<rect x="217.20" y="885.32" width="38.70" height="68.38" fill="url(#pChkF)" stroke="#111" stroke-width="1.1" />
<line x1="236.6" y1="953.7" x2="236.6" y2="957.3000000000001" stroke="#1a1a1a" stroke-width="1.3"/>
<text x="187.2" y="848.3" font-size="8.5" font-weight="bold" text-anchor="middle" fill="#1a1a1a" stroke="#1a1a1a" stroke-width="0.3" textLength="12" lengthAdjust="spacingAndGlyphs" font-style="italic">***</text>
<text x="240" y="877.8" font-size="8" font-weight="bold" text-anchor="middle" fill="#1a1a1a" stroke="#1a1a1a" stroke-width="0.3" textLength="8.4" lengthAdjust="spacingAndGlyphs" font-style="italic">##</text>
<g transform="translate(74.6,895.2) scale(1.1,1) rotate(-90)"><text x="0" y="0" font-size="11" font-weight="bold" text-anchor="middle" fill="#1a1a1a" stroke="#1a1a1a" stroke-width="0.3" textLength="138.7" lengthAdjust="spacingAndGlyphs">Number of migratory cells</text></g>
<rect x="451.00" y="804.60" width="14.40" height="4.20" fill="url(#pDot)" stroke="#222" stroke-width="0.8" />
<text x="471.5" y="809.7" font-size="8.3" text-anchor="start" fill="#1a1a1a" stroke="#1a1a1a" stroke-width="0.15" textLength="28.2" lengthAdjust="spacingAndGlyphs" >Control</text>
<rect x="516.80" y="804.60" width="14.80" height="4.20" fill="url(#pFine)" stroke="#222" stroke-width="0.8" />
<text x="536.9" y="809.7" font-size="8.3" text-anchor="start" fill="#1a1a1a" stroke="#1a1a1a" stroke-width="0.15" textLength="68.9" lengthAdjust="spacingAndGlyphs" >miR-324-5p mimic</text>
<rect x="451.00" y="819.70" width="14.40" height="4.20" fill="url(#pChkG)" stroke="#222" stroke-width="0.8" />
<text x="471.5" y="824.8" font-size="8.3" text-anchor="start" fill="#1a1a1a" stroke="#1a1a1a" stroke-width="0.15" textLength="135.9" lengthAdjust="spacingAndGlyphs" >miR-324-5p mimic+pcDNA3.1-PTEN</text>
<line x1="450.1" y1="830.5" x2="450.1" y2="953.3000000000001" stroke="#1a1a1a" stroke-width="1.5"/>
<line x1="449.40000000000003" y1="952.6" x2="622.2" y2="952.6" stroke="#1a1a1a" stroke-width="1.5"/>
<line x1="446.3" y1="952.6" x2="450.1" y2="952.6" stroke="#1a1a1a" stroke-width="1.3"/>
<text x="445.1" y="955.7" font-size="8.6" font-weight="bold" text-anchor="end" fill="#1a1a1a" stroke="#1a1a1a" stroke-width="0.3" textLength="4.8" lengthAdjust="spacingAndGlyphs" >0</text>
<line x1="446.3" y1="928.26" x2="450.1" y2="928.26" stroke="#1a1a1a" stroke-width="1.3"/>
<text x="445.1" y="931.36" font-size="8.6" font-weight="bold" text-anchor="end" fill="#1a1a1a" stroke="#1a1a1a" stroke-width="0.3" textLength="14.3" lengthAdjust="spacingAndGlyphs" >100</text>
<line x1="446.3" y1="903.9200000000001" x2="450.1" y2="903.9200000000001" stroke="#1a1a1a" stroke-width="1.3"/>
<text x="445.1" y="907.0200000000001" font-size="8.6" font-weight="bold" text-anchor="end" fill="#1a1a1a" stroke="#1a1a1a" stroke-width="0.3" textLength="14.3" lengthAdjust="spacingAndGlyphs" >200</text>
<line x1="446.3" y1="879.58" x2="450.1" y2="879.58" stroke="#1a1a1a" stroke-width="1.3"/>
<text x="445.1" y="882.6800000000001" font-size="8.6" font-weight="bold" text-anchor="end" fill="#1a1a1a" stroke="#1a1a1a" stroke-width="0.3" textLength="14.3" lengthAdjust="spacingAndGlyphs" >300</text>
<line x1="446.3" y1="855.24" x2="450.1" y2="855.24" stroke="#1a1a1a" stroke-width="1.3"/>
<text x="445.1" y="858.34" font-size="8.6" font-weight="bold" text-anchor="end" fill="#1a1a1a" stroke="#1a1a1a" stroke-width="0.3" textLength="14.3" lengthAdjust="spacingAndGlyphs" >400</text>
<line x1="446.3" y1="830.9" x2="450.1" y2="830.9" stroke="#1a1a1a" stroke-width="1.3"/>
<text x="445.1" y="834.0" font-size="8.6" font-weight="bold" text-anchor="end" fill="#1a1a1a" stroke="#1a1a1a" stroke-width="0.3" textLength="14.3" lengthAdjust="spacingAndGlyphs" >500</text>
<line x1="489.90000000000003" y1="886.8820000000001" x2="489.90000000000003" y2="882.014" stroke="#1a1a1a" stroke-width="1.3"/>
<line x1="480.90000000000003" y1="882.014" x2="498.90000000000003" y2="882.014" stroke="#1a1a1a" stroke-width="1.56"/>
<rect x="469.80" y="886.88" width="40.20" height="65.72" fill="url(#pDot)" stroke="#111" stroke-width="1.1" />
<line x1="489.90000000000003" y1="952.6" x2="489.90000000000003" y2="956.2" stroke="#1a1a1a" stroke-width="1.3"/>
<line x1="541.5" y1="855.9702" x2="541.5" y2="852.0758000000001" stroke="#1a1a1a" stroke-width="1.3"/>
<line x1="532.5" y1="852.0758000000001" x2="550.5" y2="852.0758000000001" stroke="#1a1a1a" stroke-width="1.56"/>
<rect x="521.40" y="855.97" width="40.20" height="96.63" fill="url(#pFine)" stroke="#111" stroke-width="1.1" />
<line x1="541.5" y1="952.6" x2="541.5" y2="956.2" stroke="#1a1a1a" stroke-width="1.3"/>
<line x1="593.2" y1="877.6328" x2="593.2" y2="870.42816" stroke="#1a1a1a" stroke-width="1.3"/>
<line x1="584.2" y1="870.42816" x2="602.2" y2="870.42816" stroke="#1a1a1a" stroke-width="1.56"/>
<rect x="573.10" y="877.63" width="40.20" height="74.97" fill="url(#pChkG)" stroke="#111" stroke-width="1.1" />
<line x1="593.2" y1="952.6" x2="593.2" y2="956.2" stroke="#1a1a1a" stroke-width="1.3"/>
<text x="541.3" y="849" font-size="8.5" font-weight="bold" text-anchor="middle" fill="#1a1a1a" stroke="#1a1a1a" stroke-width="0.3" textLength="12" lengthAdjust="spacingAndGlyphs" font-style="italic">***</text>
<text x="594.8" y="868.2" font-size="8" font-weight="bold" text-anchor="middle" fill="#1a1a1a" stroke="#1a1a1a" stroke-width="0.3" textLength="8.4" lengthAdjust="spacingAndGlyphs" font-style="italic">##</text>
<g transform="translate(425.8,892.3) scale(1.1,1) rotate(-90)"><text x="0" y="0" font-size="11" font-weight="bold" text-anchor="middle" fill="#1a1a1a" stroke="#1a1a1a" stroke-width="0.3" textLength="134" lengthAdjust="spacingAndGlyphs">Number of invasive cells</text></g>
<defs><clipPath id="mc0"><rect x="21" y="719.8" width="96.8" height="73.6"/></clipPath><clipPath id="mc1"><rect x="121.2" y="720" width="96.6" height="73.5"/></clipPath><clipPath id="mc2"><rect x="221.5" y="720" width="96.7" height="73.5"/></clipPath><clipPath id="mc3"><rect x="384.3" y="719.2" width="97.7" height="74.4"/></clipPath><clipPath id="mc4"><rect x="485.7" y="719.9" width="96.3" height="73.1"/></clipPath><clipPath id="mc5"><rect x="586.8" y="719.6" width="97.6" height="73.6"/></clipPath><filter id="cellb" x="-10%" y="-10%" width="120%" height="120%"><feGaussianBlur stdDeviation="0.7"/></filter><filter id="cellh" x="-20%" y="-20%" width="140%" height="140%"><feGaussianBlur stdDeviation="1.2"/></filter><filter id="ringb"><feGaussianBlur stdDeviation="0.35"/></filter></defs>
<g clip-path="url(#mc0)">
<rect x="21.00" y="719.80" width="96.80" height="73.60" fill="#a3cfc6" />
<g filter="url(#cellh)" fill="#6f5fd2" fill-opacity="0.6">
<polygon points="38.4,720.1 46.0,720.1 46.9,726.9 44.3,732.8 40.9,734.5 38.0,730.3"/>
<polygon points="38.7,746.9 44.2,745.2 51.0,745.2 52.7,748.6 47.6,752.0 44.2,756.3 40.8,755.4 38.7,752.0"/>
<polygon points="31.9,767.1 36.2,766.2 40.4,770.4 39.6,776.4 35.3,777.2 32.8,773.0"/>
<polygon points="57.8,747.7 62.9,746.9 66.2,748.6 65.4,752.8 62.0,756.2 57.8,753.7"/>
<polygon points="63.5,761.4 66.8,760.5 70.2,761.4 70.2,773.2 66.8,774.9 64.3,769.8"/>
<polygon points="56.8,769.4 63.6,770.2 68.7,774.5 70.3,779.6 68.7,782.1 63.6,780.4 58.5,776.2"/>
<polygon points="51.1,781.6 56.2,779.9 62.2,781.6 65.6,786.7 63.9,793.5 57.9,793.5 53.7,789.2"/>
<polygon points="19.9,744.5 23.3,745.3 23.3,752.1 19.9,752.9"/>
<polygon points="19.9,762.3 22.5,763.2 22.5,767.4 19.9,766.5"/>
<polygon points="30.4,744.3 35.5,741.7 38.1,744.3 34.7,751.9 32.1,760.4 28.7,763.8 27.0,760.4 28.7,751.9"/>
<polygon points="67.8,761.2 72.9,762.0 76.3,766.2 77.1,774.7 75.4,779.8 71.2,778.1 67.8,774.7"/>
<polygon points="94.5,765.5 97.9,764.6 101.3,768.0 100.5,773.1 96.2,774.0 94.1,769.7"/>
<polygon points="111.5,746.1 114.9,745.7 115.8,750.3 114.1,753.7 111.5,752.0"/>
<polygon points="109.8,767.9 114.9,766.2 119.1,767.0 119.1,778.9 114.9,778.1 110.6,773.8"/>
<polygon points="87.6,771.6 94.4,773.3 100.3,776.7 104.6,776.7 108.8,780.9 111.4,787.7 109.7,794.5 98.6,794.5 97.8,786.9 93.6,782.6 89.3,777.6"/>
<polygon points="80.8,781.5 85.1,780.7 86.3,786.6 85.5,794.3 80.8,794.3 80.0,787.5"/>
<polygon points="90.5,789.0 94.8,788.1 95.6,794.1 90.1,794.1"/>
</g>
<g filter="url(#cellb)">
<polygon points="23.2,760.0 28.1,748.7 33.7,741.4 38.6,739.0 40.2,742.2 36.2,750.3 32.1,760.0 28.1,766.5 24.8,767.3" fill="#5b4bd0" fill-opacity="0.85"/>
<polygon points="61.2,736.6 65.2,735.8 68.5,739.0 70.0,742.2 68.5,745.5 64.4,743.8 62.0,740.6" fill="#5b4bd0" fill-opacity="0.85"/>
<polygon points="68.0,739.0 71.2,740.6 72.0,744.7 69.6,748.7 68.0,748.7" fill="#5b4bd0" fill-opacity="0.85"/>
<polygon points="106.0,735.0 111.6,733.8 114.8,736.6 114.0,742.2 110.8,744.7 106.8,742.2" fill="#5b4bd0" fill-opacity="0.85"/>
<polygon points="38.7,720.6 45.8,720.6 46.6,726.9 44.2,732.4 41.0,734.0 38.3,730.1" fill="#3d2ed2"/>
<polygon points="39.1,747.1 44.2,745.6 50.6,745.6 52.2,748.7 47.4,751.9 44.2,755.8 41.1,755.1 39.1,751.9" fill="#3d2ed2"/>
<polygon points="32.2,767.4 36.2,766.6 40.1,770.5 39.3,776.1 35.4,776.9 33.0,772.9" fill="#3d2ed2"/>
<polygon points="58.0,747.9 62.8,747.2 66.0,748.7 65.2,752.7 62.0,755.9 58.0,753.5" fill="#3d2ed2"/>
<polygon points="63.7,761.7 66.9,760.9 69.9,761.7 69.9,772.8 66.9,774.4 64.5,769.6" fill="#3d2ed2"/>
<polygon points="57.3,769.8 63.6,770.6 68.4,774.6 69.9,779.3 68.4,781.7 63.6,780.1 58.9,776.2" fill="#3d2ed2"/>
<polygon points="51.6,781.9 56.4,780.3 61.9,781.9 65.1,786.7 63.5,793.0 58.0,793.0 54.0,789.0" fill="#3d2ed2"/>
<polygon points="20.0,744.7 23.2,745.5 23.2,751.9 20.0,752.7" fill="#3d2ed2"/>
<polygon points="20.0,762.5 22.4,763.3 22.4,767.2 20.0,766.4" fill="#3d2ed2"/>
<polygon points="30.5,744.8 35.3,742.4 37.7,744.8 34.5,751.9 32.1,759.8 28.9,763.0 27.4,759.8 28.9,751.9" fill="#3d2ed2"/>
<polygon points="68.1,761.8 72.8,762.6 76.0,766.6 76.8,774.5 75.2,779.2 71.3,777.6 68.1,774.5" fill="#3d2ed2"/>
<polygon points="94.7,765.7 97.9,764.9 101.0,768.1 100.3,772.9 96.3,773.6 94.3,769.7" fill="#3d2ed2"/>
<polygon points="111.7,746.3 114.8,745.9 115.6,750.3 114.0,753.5 111.7,751.9" fill="#3d2ed2"/>
<polygon points="110.1,768.2 114.8,766.6 118.8,767.4 118.8,778.4 114.8,777.7 110.9,773.7" fill="#3d2ed2"/>
<polygon points="88.4,772.3 94.8,773.9 100.3,777.1 104.3,777.1 108.2,781.0 110.6,787.4 109.0,793.7 98.7,793.7 97.9,786.6 94.0,782.6 90.0,777.9" fill="#3d2ed2"/>
<polygon points="81.0,781.9 84.9,781.1 86.1,786.7 85.3,793.8 81.0,793.8 80.2,787.5" fill="#3d2ed2"/>
<polygon points="90.7,789.1 94.6,788.3 95.4,793.9 90.3,793.9" fill="#3d2ed2"/>
</g>
<g fill="#e4f2ef" fill-opacity="0.35" stroke="#1f2a4a" stroke-width="1.05" stroke-opacity="0.9" filter="url(#ringb)"><ellipse cx="26.0" cy="721.1" rx="0.8" ry="1.7"/><ellipse cx="32.8" cy="719.3" rx="1.0" ry="1.7"/><ellipse cx="32.2" cy="722.6" rx="0.8" ry="1.9"/><ellipse cx="46.9" cy="719.6" rx="0.8" ry="1.5"/><ellipse cx="47.0" cy="722.9" rx="0.9" ry="1.4"/><ellipse cx="53.6" cy="723.0" rx="0.9" ry="1.7"/><ellipse cx="60.2" cy="723.8" rx="1.0" ry="1.6"/><ellipse cx="67.8" cy="719.2" rx="1.0" ry="1.6"/><ellipse cx="89.9" cy="723.4" rx="0.9" ry="1.4"/><ellipse cx="90.7" cy="726.7" rx="1.0" ry="1.8"/><ellipse cx="96.8" cy="720.5" rx="0.8" ry="1.5"/><ellipse cx="104.2" cy="722.8" rx="0.9" ry="1.5"/><ellipse cx="104.3" cy="726.1" rx="1.0" ry="1.5"/><ellipse cx="111.9" cy="720.9" rx="1.0" ry="1.8"/><ellipse cx="111.6" cy="724.2" rx="0.9" ry="1.8"/><ellipse cx="24.9" cy="730.5" rx="0.9" ry="1.5"/><ellipse cx="25.7" cy="733.8" rx="1.0" ry="1.6"/><ellipse cx="28.5" cy="727.8" rx="1.0" ry="1.6"/><ellipse cx="40.4" cy="729.7" rx="0.8" ry="1.5"/><ellipse cx="59.1" cy="731.0" rx="1.0" ry="1.8"/><ellipse cx="67.7" cy="727.8" rx="0.9" ry="1.8"/><ellipse cx="68.5" cy="731.1" rx="0.9" ry="1.8"/><ellipse cx="74.6" cy="728.2" rx="0.9" ry="1.7"/><ellipse cx="89.5" cy="731.9" rx="0.9" ry="1.6"/><ellipse cx="88.8" cy="735.2" rx="0.8" ry="1.5"/><ellipse cx="98.5" cy="728.0" rx="1.0" ry="1.7"/><ellipse cx="99.1" cy="731.3" rx="1.0" ry="1.7"/><ellipse cx="103.3" cy="727.4" rx="1.0" ry="1.4"/><ellipse cx="113.0" cy="731.0" rx="0.8" ry="1.7"/><ellipse cx="113.8" cy="734.3" rx="1.0" ry="1.9"/><ellipse cx="26.2" cy="740.4" rx="1.0" ry="1.8"/><ellipse cx="26.5" cy="743.7" rx="0.9" ry="1.8"/><ellipse cx="40.3" cy="737.7" rx="0.8" ry="1.7"/><ellipse cx="61.7" cy="739.5" rx="1.0" ry="1.4"/><ellipse cx="67.4" cy="738.8" rx="1.0" ry="1.6"/><ellipse cx="66.9" cy="742.1" rx="1.0" ry="1.9"/><ellipse cx="74.8" cy="737.3" rx="0.8" ry="1.9"/><ellipse cx="84.4" cy="740.3" rx="0.8" ry="1.6"/><ellipse cx="84.7" cy="743.6" rx="1.0" ry="1.9"/><ellipse cx="100.1" cy="737.4" rx="1.0" ry="1.8"/><ellipse cx="100.1" cy="740.7" rx="1.0" ry="1.9"/><ellipse cx="105.6" cy="738.1" rx="0.9" ry="1.7"/><ellipse cx="105.1" cy="741.4" rx="0.9" ry="1.6"/><ellipse cx="23.3" cy="744.5" rx="1.0" ry="1.7"/><ellipse cx="34.4" cy="744.4" rx="0.8" ry="1.8"/><ellipse cx="34.3" cy="747.7" rx="0.9" ry="1.5"/><ellipse cx="41.1" cy="746.5" rx="1.0" ry="1.9"/><ellipse cx="46.4" cy="746.7" rx="0.9" ry="1.8"/><ellipse cx="45.7" cy="750.0" rx="0.8" ry="1.5"/><ellipse cx="56.4" cy="746.9" rx="0.9" ry="1.8"/><ellipse cx="72.6" cy="747.9" rx="1.0" ry="1.9"/><ellipse cx="72.5" cy="751.2" rx="0.9" ry="1.7"/><ellipse cx="101.2" cy="745.3" rx="1.0" ry="1.8"/><ellipse cx="109.9" cy="749.2" rx="1.0" ry="1.6"/><ellipse cx="23.0" cy="755.0" rx="0.9" ry="1.4"/><ellipse cx="41.6" cy="753.7" rx="0.8" ry="1.5"/><ellipse cx="42.0" cy="757.0" rx="0.9" ry="1.8"/><ellipse cx="57.3" cy="755.3" rx="0.9" ry="1.7"/><ellipse cx="63.7" cy="756.0" rx="0.9" ry="1.6"/><ellipse cx="71.8" cy="757.3" rx="1.0" ry="1.7"/><ellipse cx="72.4" cy="760.6" rx="0.9" ry="1.5"/><ellipse cx="77.6" cy="755.8" rx="0.9" ry="1.6"/><ellipse cx="78.3" cy="759.1" rx="1.0" ry="1.7"/><ellipse cx="86.0" cy="753.1" rx="1.0" ry="1.9"/><ellipse cx="92.4" cy="753.4" rx="1.0" ry="1.6"/><ellipse cx="92.9" cy="756.7" rx="0.9" ry="1.5"/><ellipse cx="102.2" cy="753.4" rx="0.8" ry="1.5"/><ellipse cx="106.7" cy="754.6" rx="1.0" ry="1.5"/><ellipse cx="113.8" cy="753.8" rx="0.9" ry="1.6"/><ellipse cx="22.6" cy="764.5" rx="1.0" ry="1.7"/><ellipse cx="40.3" cy="765.4" rx="0.9" ry="1.9"/><ellipse cx="49.1" cy="765.7" rx="1.0" ry="1.5"/><ellipse cx="48.7" cy="769.0" rx="0.8" ry="1.8"/><ellipse cx="55.5" cy="761.9" rx="0.8" ry="1.5"/><ellipse cx="55.8" cy="765.2" rx="1.0" ry="1.9"/><ellipse cx="69.1" cy="765.1" rx="0.8" ry="1.4"/><ellipse cx="74.3" cy="764.1" rx="0.8" ry="1.5"/><ellipse cx="85.8" cy="766.3" rx="0.8" ry="1.9"/><ellipse cx="92.9" cy="762.9" rx="0.9" ry="1.7"/><ellipse cx="92.9" cy="766.2" rx="0.8" ry="1.8"/><ellipse cx="106.4" cy="765.0" rx="0.8" ry="1.7"/><ellipse cx="105.9" cy="768.3" rx="0.8" ry="1.8"/><ellipse cx="31.6" cy="772.8" rx="1.0" ry="1.5"/><ellipse cx="48.5" cy="773.9" rx="1.0" ry="1.7"/><ellipse cx="49.1" cy="777.2" rx="1.0" ry="1.8"/><ellipse cx="55.7" cy="770.2" rx="0.8" ry="1.6"/><ellipse cx="55.7" cy="773.5" rx="1.0" ry="1.7"/><ellipse cx="64.3" cy="773.1" rx="0.9" ry="1.7"/><ellipse cx="64.6" cy="776.4" rx="0.9" ry="1.9"/><ellipse cx="70.6" cy="773.6" rx="1.0" ry="1.8"/><ellipse cx="76.6" cy="770.1" rx="0.8" ry="1.5"/><ellipse cx="76.4" cy="773.4" rx="1.0" ry="1.7"/><ellipse cx="86.9" cy="772.6" rx="1.0" ry="1.4"/><ellipse cx="93.4" cy="770.0" rx="0.9" ry="1.5"/><ellipse cx="100.2" cy="770.1" rx="0.9" ry="1.7"/><ellipse cx="106.0" cy="773.1" rx="1.0" ry="1.5"/><ellipse cx="113.3" cy="770.0" rx="0.9" ry="1.8"/><ellipse cx="113.7" cy="773.3" rx="1.0" ry="1.4"/><ellipse cx="35.0" cy="780.4" rx="0.9" ry="1.7"/><ellipse cx="35.8" cy="783.7" rx="1.0" ry="1.8"/><ellipse cx="42.9" cy="782.4" rx="1.0" ry="1.6"/><ellipse cx="45.7" cy="780.9" rx="1.0" ry="1.6"/><ellipse cx="45.6" cy="784.2" rx="0.9" ry="1.7"/><ellipse cx="56.9" cy="781.0" rx="1.0" ry="1.5"/><ellipse cx="64.9" cy="782.2" rx="0.9" ry="1.7"/><ellipse cx="70.9" cy="781.5" rx="0.9" ry="1.9"/><ellipse cx="90.8" cy="779.7" rx="0.8" ry="1.7"/><ellipse cx="91.0" cy="783.0" rx="0.8" ry="1.4"/><ellipse cx="100.7" cy="781.5" rx="0.9" ry="1.6"/><ellipse cx="100.7" cy="784.8" rx="1.0" ry="1.8"/><ellipse cx="106.1" cy="782.3" rx="0.9" ry="1.6"/><ellipse cx="117.0" cy="780.1" rx="0.9" ry="1.7"/><ellipse cx="31.6" cy="787.3" rx="0.8" ry="1.7"/><ellipse cx="40.7" cy="788.3" rx="0.9" ry="1.7"/><ellipse cx="46.3" cy="790.4" rx="0.8" ry="1.6"/><ellipse cx="54.1" cy="787.4" rx="1.0" ry="1.9"/><ellipse cx="71.3" cy="788.3" rx="1.0" ry="1.8"/><ellipse cx="71.1" cy="791.6" rx="0.9" ry="1.6"/><ellipse cx="76.6" cy="788.8" rx="0.9" ry="1.8"/><ellipse cx="76.1" cy="792.1" rx="0.9" ry="1.8"/><ellipse cx="83.1" cy="790.6" rx="0.8" ry="1.7"/><ellipse cx="92.6" cy="791.6" rx="0.8" ry="1.7"/><ellipse cx="105.1" cy="790.5" rx="1.0" ry="1.5"/><ellipse cx="115.5" cy="788.0" rx="0.9" ry="1.8"/><ellipse cx="115.9" cy="791.3" rx="0.9" ry="1.6"/></g>
</g>
<g clip-path="url(#mc1)">
<rect x="121.20" y="720.00" width="96.60" height="73.50" fill="#a3cfc6" />
<g filter="url(#cellh)" fill="#6f5fd2" fill-opacity="0.6">
<polygon points="121.0,720.3 130.8,720.3 127.4,723.7 123.2,726.2 121.0,725.4"/>
<polygon points="139.2,723.4 144.3,723.4 148.5,727.6 147.7,734.4 145.1,737.8 141.7,733.5 139.2,727.6"/>
<polygon points="130.2,742.6 136.1,739.2 141.2,738.3 143.8,741.7 141.2,746.0 140.4,751.9 139.5,758.7 137.8,763.8 134.5,767.2 131.1,765.5 129.4,758.7 130.2,751.9"/>
<polygon points="140.8,745.6 144.2,748.2 146.7,754.1 150.1,751.6 152.7,756.6 154.4,763.4 151.0,766.8 144.2,767.7 139.1,770.2 135.7,768.5 139.1,763.4 143.4,760.0 142.5,754.1"/>
<polygon points="155.3,727.3 159.6,724.8 162.1,729.8 163.8,738.3 162.1,745.1 158.7,746.0 156.2,738.3"/>
<polygon points="157.7,744.3 163.6,743.5 168.7,743.5 171.2,744.3 171.2,760.4 166.2,758.7 161.9,760.4 157.7,757.0 155.1,753.6"/>
<polygon points="160.1,761.3 165.2,761.3 171.1,766.4 171.1,774.9 166.0,773.2"/>
<polygon points="154.5,759.5 158.8,761.2 163.9,768.0 163.9,774.7 162.2,779.0 157.1,779.8 154.5,774.7 155.4,766.3"/>
<polygon points="162.6,720.0 171.1,720.0 171.1,734.5 166.8,736.2 165.1,730.2"/>
<polygon points="119.5,769.4 126.3,767.7 133.1,767.7 136.5,771.1 139.9,776.2 138.2,781.3 133.1,782.1 128.0,781.3 124.6,779.6 119.5,779.6"/>
<polygon points="119.5,785.7 129.7,783.2 136.5,784.0 138.2,788.3 136.5,795.0 119.5,795.0"/>
<polygon points="140.0,774.0 144.2,776.5 147.6,779.1 150.1,784.2 150.1,791.0 147.6,795.2 140.8,795.2 139.1,787.6"/>
<polygon points="156.2,792.3 162.1,790.6 165.5,794.8 156.2,794.8"/>
<polygon points="167.8,720.0 175.4,720.0 177.1,726.0 175.4,731.0 171.2,737.0 167.8,737.0"/>
<polygon points="167.8,737.8 172.0,738.6 175.4,746.3 175.4,752.2 172.9,753.9 167.8,750.5"/>
<polygon points="175.8,732.1 180.1,731.2 181.8,738.0 186.9,733.8 189.4,735.5 186.0,742.3 180.9,746.5 179.2,753.3 175.8,755.0 175.0,747.4 176.7,740.6"/>
<polygon points="183.8,719.9 192.3,719.9 194.9,724.1 194.0,730.1 192.3,736.9 192.3,742.0 190.6,742.0 188.9,734.3 185.5,728.4"/>
<polygon points="198.5,720.3 206.1,720.3 208.7,722.9 201.9,725.4 198.5,724.6"/>
<polygon points="203.3,729.7 210.1,730.6 213.4,734.0 213.4,740.8 211.8,745.0 206.7,745.0 204.1,739.1"/>
<polygon points="206.4,744.4 213.2,743.6 220.0,745.3 220.0,757.1 214.1,755.4 209.0,751.2"/>
<polygon points="194.4,746.9 199.5,744.3 202.9,741.8 204.6,746.0 203.7,752.0 202.0,759.6 199.5,759.6 197.8,754.5 194.4,752.8"/>
<polygon points="198.6,734.0 201.1,733.1 203.7,739.0 202.0,742.4 199.4,742.4"/>
<polygon points="167.7,751.4 172.8,754.8 177.9,760.8 180.4,766.7 177.0,770.1 172.8,766.7 167.7,763.3"/>
<polygon points="167.9,766.2 170.4,767.9 172.1,774.6 171.3,778.0 167.9,776.3"/>
<polygon points="187.2,762.3 191.4,761.4 195.6,763.1 196.5,767.4 193.1,769.9 188.8,768.2"/>
<polygon points="177.4,772.9 182.4,771.2 187.5,770.3 191.8,772.9 189.2,777.1 183.3,778.0 179.1,777.1"/>
<polygon points="173.5,782.3 178.6,781.5 180.3,787.4 178.6,795.1 172.7,795.1"/>
<polygon points="187.9,782.5 192.1,780.8 195.5,781.6 200.6,780.8 203.1,784.2 198.9,787.6 193.8,789.3 192.1,792.6 188.7,791.0"/>
<polygon points="203.2,773.3 209.2,772.4 213.4,775.8 220.2,775.8 220.2,795.3 208.3,795.3 203.2,791.1 201.5,785.1"/>
</g>
<g filter="url(#cellb)">
<polygon points="121.3,720.5 130.4,720.5 127.2,723.6 123.3,726.0 121.3,725.2" fill="#3d2ed2"/>
<polygon points="139.5,723.8 144.2,723.8 148.2,727.7 147.4,734.1 145.0,737.2 141.8,733.3 139.5,727.7" fill="#3d2ed2"/>
<polygon points="130.6,743.2 136.2,740.1 140.9,739.3 143.3,742.4 140.9,746.4 140.1,751.9 139.3,758.3 137.7,763.0 134.6,766.2 131.4,764.6 129.8,758.3 130.6,751.9" fill="#3d2ed2"/>
<polygon points="141.1,746.5 144.2,748.9 146.6,754.4 149.8,752.1 152.2,756.8 153.7,763.2 150.6,766.3 144.2,767.1 139.5,769.5 136.3,767.9 139.5,763.2 143.5,760.0 142.7,754.4" fill="#3d2ed2"/>
<polygon points="155.6,727.9 159.6,725.5 162.0,730.2 163.5,738.1 162.0,744.5 158.8,745.3 156.4,738.1" fill="#3d2ed2"/>
<polygon points="158.1,744.8 163.6,744.0 168.4,744.0 170.7,744.8 170.7,759.8 166.0,758.3 162.0,759.8 158.1,756.7 155.7,753.5" fill="#3d2ed2"/>
<polygon points="160.5,761.7 165.3,761.7 170.8,766.5 170.8,774.4 166.1,772.8" fill="#3d2ed2"/>
<polygon points="154.8,760.2 158.8,761.8 163.5,768.1 163.5,774.5 161.9,778.4 157.2,779.2 154.8,774.5 155.6,766.5" fill="#3d2ed2"/>
<polygon points="162.9,720.6 170.8,720.6 170.8,734.0 166.9,735.6 165.3,730.1" fill="#3d2ed2"/>
<polygon points="120.2,769.8 126.5,768.2 132.9,768.2 136.0,771.4 139.2,776.1 137.6,780.9 132.9,781.7 128.1,780.9 124.9,779.3 120.2,779.3" fill="#3d2ed2"/>
<polygon points="120.2,785.9 129.7,783.5 136.0,784.3 137.6,788.3 136.0,794.6 120.2,794.6" fill="#3d2ed2"/>
<polygon points="140.3,774.8 144.2,777.1 147.4,779.5 149.8,784.3 149.8,790.6 147.4,794.5 141.1,794.5 139.5,787.4" fill="#3d2ed2"/>
<polygon points="156.4,792.3 162.0,790.7 165.1,794.7 156.4,794.7" fill="#3d2ed2"/>
<polygon points="168.1,720.6 175.2,720.6 176.8,726.1 175.2,730.9 171.3,736.4 168.1,736.4" fill="#3d2ed2"/>
<polygon points="168.1,738.4 172.0,739.2 175.2,746.3 175.2,751.8 172.8,753.4 168.1,750.2" fill="#3d2ed2"/>
<polygon points="176.2,732.7 180.1,731.9 181.7,738.3 186.5,734.3 188.8,735.9 185.7,742.2 180.9,746.2 179.3,752.5 176.2,754.1 175.4,747.0 177.0,740.6" fill="#3d2ed2"/>
<polygon points="184.3,720.6 192.2,720.6 194.6,724.6 193.8,730.1 192.2,736.5 192.2,741.2 190.6,741.2 189.0,734.1 185.9,728.5" fill="#3d2ed2"/>
<polygon points="198.8,720.5 205.9,720.5 208.3,722.8 201.9,725.2 198.8,724.4" fill="#3d2ed2"/>
<polygon points="203.6,730.3 210.0,731.1 213.1,734.2 213.1,740.6 211.6,744.5 206.8,744.5 204.4,739.0" fill="#3d2ed2"/>
<polygon points="206.9,744.8 213.2,744.0 219.6,745.5 219.6,756.6 214.0,755.0 209.3,751.1" fill="#3d2ed2"/>
<polygon points="194.8,747.2 199.5,744.8 202.7,742.4 204.3,746.4 203.5,751.9 201.9,759.0 199.5,759.0 197.9,754.3 194.8,752.7" fill="#3d2ed2"/>
<polygon points="198.7,734.2 201.1,733.4 203.5,739.0 201.9,742.2 199.5,742.2" fill="#3d2ed2"/>
<polygon points="168.1,752.1 172.9,755.3 177.6,760.8 180.0,766.4 176.8,769.5 172.9,766.4 168.1,763.2" fill="#3d2ed2"/>
<polygon points="168.0,766.6 170.4,768.2 172.0,774.5 171.2,777.7 168.0,776.1" fill="#3d2ed2"/>
<polygon points="187.5,762.5 191.4,761.7 195.4,763.3 196.2,767.2 193.0,769.6 189.1,768.0" fill="#3d2ed2"/>
<polygon points="177.8,773.0 182.6,771.4 187.3,770.6 191.3,773.0 188.9,776.9 183.4,777.7 179.4,776.9" fill="#3d2ed2"/>
<polygon points="173.7,782.7 178.5,781.9 180.0,787.5 178.5,794.6 172.9,794.6" fill="#3d2ed2"/>
<polygon points="188.3,782.7 192.3,781.1 195.4,781.9 200.2,781.1 202.6,784.3 198.6,787.4 193.9,789.0 192.3,792.2 189.1,790.6" fill="#3d2ed2"/>
<polygon points="203.7,773.9 209.2,773.1 213.2,776.3 219.5,776.3 219.5,794.5 208.4,794.5 203.7,790.5 202.1,785.0" fill="#3d2ed2"/>
</g>
<g fill="#e4f2ef" fill-opacity="0.35" stroke="#1f2a4a" stroke-width="1.05" stroke-opacity="0.9" filter="url(#ringb)"><ellipse cx="136.7" cy="720.9" rx="1.0" ry="1.7"/><ellipse cx="137.2" cy="724.2" rx="0.9" ry="1.7"/><ellipse cx="146.3" cy="719.8" rx="1.0" ry="1.4"/><ellipse cx="161.1" cy="723.2" rx="1.0" ry="1.7"/><ellipse cx="160.4" cy="726.5" rx="0.8" ry="1.9"/><ellipse cx="176.2" cy="719.7" rx="0.8" ry="1.7"/><ellipse cx="176.4" cy="723.0" rx="0.8" ry="1.5"/><ellipse cx="191.2" cy="722.0" rx="0.8" ry="1.8"/><ellipse cx="191.0" cy="725.3" rx="1.0" ry="1.9"/><ellipse cx="205.9" cy="722.5" rx="0.9" ry="1.6"/><ellipse cx="134.2" cy="729.7" rx="0.9" ry="1.6"/><ellipse cx="147.9" cy="728.4" rx="0.9" ry="1.6"/><ellipse cx="162.4" cy="728.5" rx="1.0" ry="1.6"/><ellipse cx="162.4" cy="731.8" rx="1.0" ry="1.5"/><ellipse cx="176.1" cy="731.2" rx="0.9" ry="1.8"/><ellipse cx="183.8" cy="727.5" rx="1.0" ry="1.9"/><ellipse cx="184.0" cy="730.8" rx="0.9" ry="1.4"/><ellipse cx="194.1" cy="731.7" rx="0.9" ry="1.6"/><ellipse cx="209.9" cy="732.0" rx="1.0" ry="1.5"/><ellipse cx="209.5" cy="735.3" rx="1.0" ry="1.7"/><ellipse cx="123.7" cy="737.3" rx="0.8" ry="1.8"/><ellipse cx="131.0" cy="738.2" rx="1.0" ry="1.9"/><ellipse cx="155.3" cy="740.5" rx="0.9" ry="1.6"/><ellipse cx="178.4" cy="740.5" rx="1.0" ry="1.7"/><ellipse cx="190.3" cy="737.8" rx="1.0" ry="1.7"/><ellipse cx="191.0" cy="741.1" rx="1.0" ry="1.5"/><ellipse cx="213.5" cy="738.0" rx="0.8" ry="1.4"/><ellipse cx="213.8" cy="741.3" rx="0.9" ry="1.7"/><ellipse cx="137.6" cy="746.9" rx="1.0" ry="1.6"/><ellipse cx="137.1" cy="750.2" rx="0.9" ry="1.6"/><ellipse cx="154.3" cy="745.9" rx="0.9" ry="1.9"/><ellipse cx="154.2" cy="749.2" rx="0.9" ry="1.7"/><ellipse cx="162.3" cy="747.5" rx="0.9" ry="1.8"/><ellipse cx="177.7" cy="748.3" rx="1.0" ry="1.9"/><ellipse cx="177.9" cy="751.6" rx="0.9" ry="1.7"/><ellipse cx="186.1" cy="746.1" rx="0.9" ry="1.5"/><ellipse cx="185.9" cy="749.4" rx="0.9" ry="1.7"/><ellipse cx="190.2" cy="748.5" rx="0.9" ry="1.6"/><ellipse cx="190.9" cy="751.8" rx="1.0" ry="1.8"/><ellipse cx="198.1" cy="747.7" rx="1.0" ry="1.6"/><ellipse cx="214.5" cy="746.4" rx="1.0" ry="1.5"/><ellipse cx="214.4" cy="749.7" rx="0.9" ry="1.5"/><ellipse cx="134.8" cy="757.4" rx="1.0" ry="1.6"/><ellipse cx="142.4" cy="757.2" rx="0.8" ry="1.6"/><ellipse cx="143.0" cy="760.5" rx="0.8" ry="1.5"/><ellipse cx="149.2" cy="754.5" rx="0.9" ry="1.8"/><ellipse cx="148.7" cy="757.8" rx="1.0" ry="1.5"/><ellipse cx="170.8" cy="756.3" rx="1.0" ry="1.6"/><ellipse cx="185.2" cy="755.6" rx="1.0" ry="1.6"/><ellipse cx="124.5" cy="765.3" rx="0.8" ry="1.5"/><ellipse cx="129.3" cy="761.5" rx="1.0" ry="1.7"/><ellipse cx="128.6" cy="764.8" rx="1.0" ry="1.9"/><ellipse cx="152.6" cy="766.1" rx="1.0" ry="1.6"/><ellipse cx="152.2" cy="769.4" rx="0.9" ry="1.6"/><ellipse cx="159.4" cy="764.5" rx="1.0" ry="1.9"/><ellipse cx="168.0" cy="766.1" rx="0.8" ry="1.5"/><ellipse cx="177.6" cy="765.6" rx="0.9" ry="1.8"/><ellipse cx="190.0" cy="764.6" rx="0.9" ry="1.6"/><ellipse cx="206.7" cy="766.3" rx="0.9" ry="1.5"/><ellipse cx="124.8" cy="773.0" rx="0.9" ry="1.6"/><ellipse cx="139.6" cy="772.3" rx="0.9" ry="1.6"/><ellipse cx="139.4" cy="775.6" rx="0.9" ry="1.6"/><ellipse cx="153.8" cy="773.3" rx="1.0" ry="1.4"/><ellipse cx="153.8" cy="776.6" rx="1.0" ry="1.5"/><ellipse cx="163.6" cy="774.9" rx="0.9" ry="1.5"/><ellipse cx="175.6" cy="773.2" rx="0.9" ry="1.9"/><ellipse cx="186.8" cy="772.0" rx="1.0" ry="1.8"/><ellipse cx="186.6" cy="775.3" rx="0.9" ry="1.7"/><ellipse cx="123.9" cy="778.6" rx="0.9" ry="1.9"/><ellipse cx="141.5" cy="780.6" rx="0.9" ry="1.4"/><ellipse cx="141.1" cy="783.9" rx="0.8" ry="1.5"/><ellipse cx="145.6" cy="779.1" rx="0.9" ry="1.7"/><ellipse cx="161.0" cy="782.8" rx="0.9" ry="1.6"/><ellipse cx="171.9" cy="782.3" rx="0.9" ry="1.7"/><ellipse cx="185.4" cy="779.4" rx="1.0" ry="1.6"/><ellipse cx="192.3" cy="780.3" rx="1.0" ry="1.7"/><ellipse cx="191.6" cy="783.6" rx="0.9" ry="1.8"/><ellipse cx="127.2" cy="787.1" rx="1.0" ry="1.9"/><ellipse cx="132.3" cy="791.0" rx="1.0" ry="1.7"/><ellipse cx="154.2" cy="787.4" rx="1.0" ry="1.5"/><ellipse cx="153.4" cy="790.7" rx="1.0" ry="1.5"/><ellipse cx="179.4" cy="791.3" rx="0.9" ry="1.7"/><ellipse cx="185.6" cy="790.5" rx="1.0" ry="1.5"/><ellipse cx="198.6" cy="787.1" rx="0.8" ry="1.6"/><ellipse cx="206.9" cy="789.8" rx="1.0" ry="1.9"/><ellipse cx="217.1" cy="788.6" rx="0.9" ry="1.9"/></g>
</g>
<g clip-path="url(#mc2)">
<rect x="221.50" y="720.00" width="96.70" height="73.50" fill="#a3cfc6" />
<g filter="url(#cellh)" fill="#6f5fd2" fill-opacity="0.6">
<polygon points="220.8,741.2 225.1,742.0 228.5,746.3 226.8,749.7 222.5,749.7 220.8,748.0"/>
<polygon points="228.7,744.5 238.8,742.0 241.4,740.3 243.1,742.0 240.5,746.2 238.0,752.2 236.3,756.4 232.9,751.3"/>
<polygon points="256.4,720.0 260.6,720.0 261.5,725.9 263.2,730.2 262.3,736.1 259.8,737.8 256.4,733.6"/>
<polygon points="253.7,740.1 257.1,739.3 263.1,743.5 266.5,750.3 268.2,756.2 269.0,763.9 266.5,763.9 263.9,757.1 259.7,752.0 255.4,748.6 253.7,744.3"/>
<polygon points="266.1,719.9 272.1,719.9 272.1,741.1 268.7,740.3 267.0,734.3 265.3,728.4"/>
<polygon points="220.7,767.0 225.8,766.2 230.0,767.9 231.7,773.0 230.9,779.7 228.4,777.2 225.0,774.6 220.7,773.8"/>
<polygon points="226.5,789.0 229.1,785.6 231.6,788.2 233.3,794.9 225.7,794.9"/>
<polygon points="269.4,781.7 271.9,780.8 271.9,789.3 269.4,788.4"/>
<polygon points="240.3,739.7 242.9,739.7 242.9,743.9 240.3,744.8"/>
<polygon points="268.9,720.3 274.0,720.3 272.3,724.5 268.9,726.2"/>
<polygon points="281.9,720.2 286.9,720.2 286.1,726.1 283.5,731.2 281.0,731.2 281.0,725.2"/>
<polygon points="268.9,729.8 272.3,731.5 275.7,738.3 274.0,741.7 270.6,740.0 268.9,736.6"/>
<polygon points="279.4,741.1 282.8,742.8 284.5,748.7 285.3,753.8 281.9,756.3 279.4,752.1 278.5,746.2"/>
<polygon points="287.1,752.8 293.0,749.5 298.1,746.9 303.2,746.1 306.6,749.5 303.2,752.0 296.4,752.8 290.5,754.5"/>
<polygon points="274.4,749.8 277.8,751.5 281.2,758.3 284.6,765.1 286.3,770.1 284.6,771.8 281.2,766.7 277.8,760.0 274.4,754.0"/>
<polygon points="293.0,764.7 298.1,762.2 301.5,763.0 302.4,768.1 299.0,771.5 294.7,771.5 292.6,768.1"/>
<polygon points="268.6,781.6 273.7,779.9 279.6,779.9 283.8,784.1 284.7,790.9 283.0,795.1 268.6,795.1"/>
<polygon points="309.3,785.7 313.5,784.0 315.2,788.2 314.3,795.0 308.4,795.0"/>
<polygon points="315.7,776.8 320.8,775.9 320.8,784.4 316.6,784.4"/>
</g>
<g filter="url(#cellb)">
<polygon points="221.1,741.5 225.0,742.3 228.2,746.3 226.6,749.4 222.6,749.4 221.1,747.9" fill="#3d2ed2"/>
<polygon points="229.2,744.7 238.7,742.3 241.1,740.7 242.7,742.3 240.3,746.3 238.0,751.8 236.4,755.8 233.2,751.0" fill="#3d2ed2"/>
<polygon points="256.6,720.6 260.6,720.6 261.4,726.1 262.9,730.1 262.2,735.6 259.8,737.2 256.6,733.3" fill="#3d2ed2"/>
<polygon points="254.3,740.8 257.4,740.0 263.0,744.0 266.1,750.3 267.7,755.9 268.5,763.0 266.1,763.0 263.8,756.7 259.8,751.9 255.8,748.7 254.3,744.8" fill="#3d2ed2"/>
<polygon points="266.3,720.6 271.8,720.6 271.8,740.4 268.7,739.6 267.1,734.1 265.5,728.5" fill="#3d2ed2"/>
<polygon points="221.1,767.4 225.9,766.6 229.8,768.2 231.4,772.9 230.6,779.2 228.2,776.9 225.1,774.5 221.1,773.7" fill="#3d2ed2"/>
<polygon points="226.7,789.1 229.1,785.9 231.5,788.3 233.0,794.7 225.9,794.7" fill="#3d2ed2"/>
<polygon points="269.5,781.9 271.9,781.1 271.9,789.0 269.5,788.2" fill="#3d2ed2"/>
<polygon points="240.4,739.9 242.8,739.9 242.8,743.8 240.4,744.6" fill="#3d2ed2"/>
<polygon points="269.0,720.5 273.8,720.5 272.2,724.4 269.0,726.0" fill="#3d2ed2"/>
<polygon points="282.0,720.5 286.7,720.5 285.9,726.1 283.5,730.8 281.2,730.8 281.2,725.3" fill="#3d2ed2"/>
<polygon points="269.1,730.2 272.2,731.8 275.4,738.2 273.8,741.3 270.6,739.7 269.1,736.6" fill="#3d2ed2"/>
<polygon points="279.5,741.6 282.7,743.2 284.3,748.7 285.1,753.4 281.9,755.8 279.5,751.9 278.8,746.3" fill="#3d2ed2"/>
<polygon points="287.8,752.7 293.3,749.5 298.1,747.1 302.8,746.4 306.0,749.5 302.8,751.9 296.5,752.7 290.9,754.3" fill="#3d2ed2"/>
<polygon points="274.8,750.5 277.9,752.1 281.1,758.4 284.3,764.8 285.8,769.5 284.3,771.1 281.1,766.4 277.9,760.0 274.8,754.5" fill="#3d2ed2"/>
<polygon points="293.3,764.9 298.1,762.5 301.2,763.3 302.0,768.1 298.9,771.2 294.9,771.2 292.9,768.1" fill="#3d2ed2"/>
<polygon points="269.2,781.9 273.9,780.3 279.5,780.3 283.4,784.3 284.2,790.6 282.6,794.6 269.2,794.6" fill="#3d2ed2"/>
<polygon points="309.4,785.9 313.4,784.3 315.0,788.3 314.2,794.6 308.7,794.6" fill="#3d2ed2"/>
<polygon points="315.9,777.0 320.7,776.2 320.7,784.2 316.7,784.2" fill="#3d2ed2"/>
</g>
<g fill="#e4f2ef" fill-opacity="0.35" stroke="#1f2a4a" stroke-width="1.05" stroke-opacity="0.9" filter="url(#ringb)"><ellipse cx="224.7" cy="723.2" rx="0.8" ry="1.5"/><ellipse cx="224.3" cy="726.5" rx="1.0" ry="1.5"/><ellipse cx="229.8" cy="720.5" rx="1.0" ry="1.4"/><ellipse cx="230.4" cy="723.8" rx="0.9" ry="1.5"/><ellipse cx="247.8" cy="723.1" rx="1.0" ry="1.5"/><ellipse cx="253.7" cy="722.8" rx="0.9" ry="1.6"/><ellipse cx="259.4" cy="723.1" rx="1.0" ry="1.7"/><ellipse cx="267.0" cy="722.4" rx="0.9" ry="1.7"/><ellipse cx="266.4" cy="725.7" rx="0.9" ry="1.6"/><ellipse cx="275.8" cy="719.7" rx="0.9" ry="1.5"/><ellipse cx="275.3" cy="723.0" rx="0.9" ry="1.4"/><ellipse cx="286.0" cy="720.9" rx="0.8" ry="1.5"/><ellipse cx="293.0" cy="722.2" rx="1.0" ry="1.8"/><ellipse cx="292.8" cy="725.5" rx="1.0" ry="1.5"/><ellipse cx="307.4" cy="719.7" rx="1.0" ry="1.5"/><ellipse cx="314.2" cy="722.0" rx="0.9" ry="1.5"/><ellipse cx="314.5" cy="725.3" rx="0.8" ry="1.7"/><ellipse cx="221.2" cy="730.7" rx="0.8" ry="1.6"/><ellipse cx="228.8" cy="727.5" rx="0.9" ry="1.5"/><ellipse cx="236.2" cy="729.8" rx="0.8" ry="1.6"/><ellipse cx="236.8" cy="733.1" rx="0.9" ry="1.9"/><ellipse cx="245.7" cy="730.8" rx="0.9" ry="1.9"/><ellipse cx="245.0" cy="734.1" rx="1.0" ry="1.5"/><ellipse cx="255.1" cy="728.8" rx="0.9" ry="1.5"/><ellipse cx="260.1" cy="727.7" rx="1.0" ry="1.7"/><ellipse cx="259.4" cy="731.0" rx="0.8" ry="1.8"/><ellipse cx="268.2" cy="730.3" rx="0.9" ry="1.5"/><ellipse cx="267.9" cy="733.6" rx="1.0" ry="1.5"/><ellipse cx="274.4" cy="729.0" rx="0.8" ry="1.6"/><ellipse cx="273.7" cy="732.3" rx="0.9" ry="1.8"/><ellipse cx="291.0" cy="728.1" rx="1.0" ry="1.7"/><ellipse cx="295.9" cy="728.7" rx="0.9" ry="1.6"/><ellipse cx="307.3" cy="728.6" rx="1.0" ry="1.7"/><ellipse cx="224.9" cy="740.2" rx="0.8" ry="1.7"/><ellipse cx="232.0" cy="737.5" rx="0.8" ry="1.4"/><ellipse cx="240.5" cy="736.5" rx="1.0" ry="1.8"/><ellipse cx="247.4" cy="740.2" rx="1.0" ry="1.5"/><ellipse cx="256.8" cy="738.4" rx="0.9" ry="1.4"/><ellipse cx="257.3" cy="741.7" rx="0.8" ry="1.5"/><ellipse cx="264.0" cy="737.2" rx="0.9" ry="1.9"/><ellipse cx="269.2" cy="737.3" rx="0.9" ry="1.5"/><ellipse cx="269.9" cy="740.6" rx="0.9" ry="1.6"/><ellipse cx="277.2" cy="736.2" rx="0.8" ry="1.7"/><ellipse cx="286.2" cy="738.5" rx="0.9" ry="1.8"/><ellipse cx="291.5" cy="740.8" rx="0.8" ry="1.8"/><ellipse cx="292.0" cy="744.1" rx="0.8" ry="1.4"/><ellipse cx="301.5" cy="737.3" rx="0.9" ry="1.7"/><ellipse cx="301.6" cy="740.6" rx="0.8" ry="1.6"/><ellipse cx="306.0" cy="737.1" rx="0.9" ry="1.9"/><ellipse cx="306.3" cy="740.4" rx="1.0" ry="1.5"/><ellipse cx="227.5" cy="747.9" rx="0.9" ry="1.5"/><ellipse cx="234.4" cy="747.5" rx="1.0" ry="1.7"/><ellipse cx="234.7" cy="750.8" rx="1.0" ry="1.8"/><ellipse cx="242.4" cy="747.0" rx="1.0" ry="1.6"/><ellipse cx="256.7" cy="749.1" rx="0.8" ry="1.6"/><ellipse cx="264.9" cy="748.4" rx="0.9" ry="1.7"/><ellipse cx="268.7" cy="745.6" rx="0.9" ry="1.9"/><ellipse cx="268.4" cy="748.9" rx="0.9" ry="1.9"/><ellipse cx="276.8" cy="749.4" rx="0.8" ry="1.4"/><ellipse cx="276.2" cy="752.7" rx="0.9" ry="1.5"/><ellipse cx="283.4" cy="748.0" rx="0.9" ry="1.8"/><ellipse cx="282.9" cy="751.3" rx="1.0" ry="1.8"/><ellipse cx="294.8" cy="748.8" rx="1.0" ry="1.7"/><ellipse cx="294.1" cy="752.1" rx="0.9" ry="1.8"/><ellipse cx="301.8" cy="746.6" rx="0.9" ry="1.7"/><ellipse cx="301.4" cy="749.9" rx="0.9" ry="1.9"/><ellipse cx="309.4" cy="745.0" rx="1.0" ry="1.9"/><ellipse cx="317.3" cy="745.6" rx="0.9" ry="1.5"/><ellipse cx="316.7" cy="748.9" rx="1.0" ry="1.7"/><ellipse cx="222.9" cy="754.7" rx="1.0" ry="1.4"/><ellipse cx="222.1" cy="758.0" rx="0.8" ry="1.8"/><ellipse cx="231.5" cy="755.1" rx="0.9" ry="1.5"/><ellipse cx="230.7" cy="758.4" rx="0.8" ry="1.9"/><ellipse cx="238.6" cy="756.8" rx="1.0" ry="1.7"/><ellipse cx="249.0" cy="757.0" rx="0.9" ry="1.7"/><ellipse cx="254.9" cy="754.9" rx="0.9" ry="1.6"/><ellipse cx="255.3" cy="758.2" rx="0.9" ry="1.7"/><ellipse cx="263.4" cy="756.0" rx="0.9" ry="1.7"/><ellipse cx="270.4" cy="756.7" rx="0.9" ry="1.5"/><ellipse cx="276.4" cy="755.5" rx="0.9" ry="1.8"/><ellipse cx="286.0" cy="753.8" rx="0.9" ry="1.4"/><ellipse cx="293.3" cy="756.7" rx="0.8" ry="1.7"/><ellipse cx="300.4" cy="756.1" rx="0.8" ry="1.9"/><ellipse cx="301.0" cy="759.4" rx="0.8" ry="1.9"/><ellipse cx="306.5" cy="757.7" rx="0.8" ry="1.8"/><ellipse cx="313.0" cy="753.6" rx="1.0" ry="1.6"/><ellipse cx="313.7" cy="756.9" rx="0.8" ry="1.8"/><ellipse cx="223.6" cy="766.3" rx="1.0" ry="1.4"/><ellipse cx="224.1" cy="769.6" rx="0.9" ry="1.5"/><ellipse cx="233.4" cy="764.8" rx="0.9" ry="1.6"/><ellipse cx="233.6" cy="768.1" rx="0.8" ry="1.8"/><ellipse cx="238.7" cy="762.4" rx="0.8" ry="1.7"/><ellipse cx="248.0" cy="764.9" rx="1.0" ry="1.7"/><ellipse cx="251.8" cy="762.7" rx="1.0" ry="1.7"/><ellipse cx="262.2" cy="764.1" rx="0.9" ry="1.6"/><ellipse cx="262.4" cy="767.4" rx="0.9" ry="1.8"/><ellipse cx="268.3" cy="762.7" rx="0.9" ry="1.8"/><ellipse cx="274.7" cy="762.9" rx="1.0" ry="1.4"/><ellipse cx="284.0" cy="763.6" rx="1.0" ry="1.5"/><ellipse cx="283.9" cy="766.9" rx="0.8" ry="1.8"/><ellipse cx="289.0" cy="766.0" rx="1.0" ry="1.7"/><ellipse cx="288.7" cy="769.3" rx="1.0" ry="1.5"/><ellipse cx="300.5" cy="763.8" rx="1.0" ry="1.9"/><ellipse cx="307.3" cy="763.2" rx="1.0" ry="1.8"/><ellipse cx="315.9" cy="762.3" rx="0.9" ry="1.7"/><ellipse cx="223.4" cy="771.0" rx="0.9" ry="1.4"/><ellipse cx="223.6" cy="774.3" rx="0.9" ry="1.9"/><ellipse cx="232.3" cy="772.1" rx="0.9" ry="1.5"/><ellipse cx="232.5" cy="775.4" rx="1.0" ry="1.7"/><ellipse cx="241.1" cy="770.1" rx="1.0" ry="1.8"/><ellipse cx="240.8" cy="773.4" rx="1.0" ry="1.6"/><ellipse cx="256.2" cy="770.3" rx="1.0" ry="1.7"/><ellipse cx="256.6" cy="773.6" rx="0.9" ry="1.8"/><ellipse cx="259.9" cy="770.5" rx="0.9" ry="1.6"/><ellipse cx="278.1" cy="773.2" rx="0.8" ry="1.9"/><ellipse cx="278.4" cy="776.5" rx="1.0" ry="1.4"/><ellipse cx="282.6" cy="770.5" rx="0.9" ry="1.7"/><ellipse cx="291.0" cy="773.2" rx="1.0" ry="1.5"/><ellipse cx="298.0" cy="770.8" rx="0.9" ry="1.5"/><ellipse cx="298.3" cy="774.1" rx="0.9" ry="1.5"/><ellipse cx="308.7" cy="772.3" rx="0.9" ry="1.6"/><ellipse cx="308.5" cy="775.6" rx="0.8" ry="1.5"/><ellipse cx="313.8" cy="770.3" rx="0.9" ry="1.8"/><ellipse cx="314.3" cy="773.6" rx="1.0" ry="1.7"/><ellipse cx="223.6" cy="781.1" rx="0.9" ry="1.9"/><ellipse cx="240.9" cy="779.0" rx="1.0" ry="1.6"/><ellipse cx="246.7" cy="779.5" rx="0.9" ry="1.6"/><ellipse cx="252.5" cy="779.9" rx="0.9" ry="1.5"/><ellipse cx="263.4" cy="779.8" rx="0.8" ry="1.5"/><ellipse cx="263.1" cy="783.1" rx="0.9" ry="1.7"/><ellipse cx="275.5" cy="781.4" rx="0.9" ry="1.6"/><ellipse cx="274.9" cy="784.7" rx="0.9" ry="1.6"/><ellipse cx="282.9" cy="779.4" rx="1.0" ry="1.4"/><ellipse cx="282.2" cy="782.7" rx="0.9" ry="1.5"/><ellipse cx="292.9" cy="783.3" rx="0.9" ry="1.6"/><ellipse cx="298.7" cy="781.6" rx="0.9" ry="1.5"/><ellipse cx="299.1" cy="784.9" rx="1.0" ry="1.7"/><ellipse cx="308.6" cy="780.9" rx="1.0" ry="1.8"/><ellipse cx="313.4" cy="782.4" rx="1.0" ry="1.7"/><ellipse cx="223.1" cy="787.8" rx="0.8" ry="1.5"/><ellipse cx="233.3" cy="791.3" rx="0.9" ry="1.9"/><ellipse cx="240.0" cy="787.3" rx="1.0" ry="1.9"/><ellipse cx="240.0" cy="790.6" rx="1.0" ry="1.6"/><ellipse cx="261.4" cy="789.8" rx="1.0" ry="1.5"/><ellipse cx="261.0" cy="793.1" rx="0.9" ry="1.4"/><ellipse cx="271.6" cy="787.0" rx="1.0" ry="1.7"/><ellipse cx="272.2" cy="790.3" rx="0.9" ry="1.5"/><ellipse cx="277.1" cy="789.2" rx="0.9" ry="1.8"/><ellipse cx="293.2" cy="791.4" rx="0.8" ry="1.7"/><ellipse cx="299.4" cy="787.2" rx="1.0" ry="1.7"/><ellipse cx="305.3" cy="789.8" rx="0.8" ry="1.4"/><ellipse cx="304.6" cy="793.1" rx="1.0" ry="1.5"/></g>
</g>
<g clip-path="url(#mc3)">
<rect x="384.30" y="719.20" width="97.70" height="74.40" fill="#a3cfc6" />
<g filter="url(#cellh)" fill="#6f5fd2" fill-opacity="0.6">
<polygon points="385.4,726.0 390.5,721.0 394.7,720.1 396.4,722.7 392.2,727.7 387.1,734.5 383.7,734.5"/>
<polygon points="407.2,720.9 413.1,720.1 416.5,722.6 417.4,728.6 414.8,733.7 410.6,733.7 407.2,728.6"/>
<polygon points="416.6,729.8 424.3,728.1 430.2,726.4 435.3,725.6 435.3,745.9 430.2,747.6 426.8,745.1 422.6,742.5 420.0,738.3"/>
<polygon points="417.7,750.1 424.4,748.4 429.5,751.8 430.4,756.9 426.1,759.4 419.3,758.6 416.4,754.4"/>
<polygon points="383.7,741.1 388.8,741.1 393.0,744.5 395.6,748.8 393.9,753.0 388.8,753.0 383.7,750.5"/>
<polygon points="413.7,758.9 417.9,758.0 421.3,761.4 423.0,768.2 421.3,772.4 417.1,772.4 414.5,768.2"/>
<polygon points="401.5,777.0 406.6,770.3 411.7,766.9 414.2,769.4 411.7,774.5 407.5,780.4 402.4,783.8 399.8,782.1"/>
<polygon points="429.1,756.6 435.0,755.8 435.0,764.2 430.8,763.4"/>
<polygon points="429.1,773.5 435.0,772.7 435.0,782.9 430.8,781.2"/>
<polygon points="429.9,720.3 435.0,720.3 435.0,725.4 431.6,724.6"/>
<polygon points="394.4,736.4 397.0,736.4 397.8,741.5 395.3,742.4"/>
<polygon points="422.6,760.7 427.7,759.9 428.5,765.0 425.2,765.8"/>
<polygon points="431.9,719.8 436.9,722.3 438.6,729.9 436.9,741.0 433.5,745.2 431.9,745.2"/>
<polygon points="431.8,756.6 436.9,757.4 441.1,760.0 439.4,763.4 434.3,764.2 431.8,763.4"/>
<polygon points="431.7,774.2 436.8,773.4 441.1,776.7 442.8,782.7 441.9,788.6 437.7,789.5 434.3,784.4 431.7,781.0"/>
<polygon points="462.7,719.3 467.8,719.3 466.1,724.3 461.9,731.1 459.3,736.2 458.5,732.8 461.0,725.2"/>
<polygon points="471.4,719.2 476.5,720.1 478.2,726.0 479.0,733.7 477.3,735.4 473.9,730.3 471.4,724.3"/>
<polygon points="457.7,784.8 461.1,784.0 462.8,789.1 462.8,795.0 456.9,795.0"/>
<polygon points="480.4,732.5 482.9,731.7 482.9,735.9"/>
<polygon points="440.8,720.4 444.2,720.4 443.3,723.8"/>
</g>
<g filter="url(#cellb)">
<polygon points="385.7,726.1 390.5,721.3 394.4,720.5 396.0,722.9 392.0,727.7 387.3,734.0 384.1,734.0" fill="#3d2ed2"/>
<polygon points="407.5,721.3 413.1,720.6 416.2,722.9 417.0,728.5 414.6,733.2 410.7,733.2 407.5,728.5" fill="#3d2ed2"/>
<polygon points="417.3,730.2 424.4,728.7 430.0,727.1 434.7,726.3 434.7,745.3 430.0,746.9 426.8,744.5 422.9,742.1 420.5,738.2" fill="#3d2ed2"/>
<polygon points="418.0,750.4 424.4,748.8 429.1,752.0 429.9,756.7 426.0,759.1 419.6,758.3 416.8,754.3" fill="#3d2ed2"/>
<polygon points="384.1,741.5 388.9,741.5 392.8,744.7 395.2,748.7 393.6,752.6 388.9,752.6 384.1,750.3" fill="#3d2ed2"/>
<polygon points="414.0,759.3 417.9,758.5 421.1,761.7 422.7,768.0 421.1,772.0 417.1,772.0 414.8,768.0" fill="#3d2ed2"/>
<polygon points="401.9,776.9 406.6,770.6 411.4,767.4 413.7,769.8 411.4,774.6 407.4,780.1 402.7,783.3 400.3,781.7" fill="#3d2ed2"/>
<polygon points="429.3,756.8 434.8,756.0 434.8,764.0 430.9,763.2" fill="#3d2ed2"/>
<polygon points="429.3,773.8 434.8,773.0 434.8,782.5 430.9,780.9" fill="#3d2ed2"/>
<polygon points="430.1,720.5 434.8,720.5 434.8,725.2 431.7,724.4" fill="#3d2ed2"/>
<polygon points="394.5,736.6 396.9,736.6 397.7,741.4 395.3,742.2" fill="#3d2ed2"/>
<polygon points="422.8,760.9 427.6,760.1 428.4,764.8 425.2,765.6" fill="#3d2ed2"/>
<polygon points="432.1,720.7 436.8,723.1 438.4,730.2 436.8,740.5 433.6,744.4 432.1,744.4" fill="#3d2ed2"/>
<polygon points="432.1,756.9 436.8,757.6 440.8,760.0 439.2,763.2 434.5,764.0 432.1,763.2" fill="#3d2ed2"/>
<polygon points="432.1,774.7 436.9,773.9 440.8,777.1 442.4,782.6 441.6,788.1 437.6,788.9 434.5,784.2 432.1,781.0" fill="#3d2ed2"/>
<polygon points="462.7,719.8 467.4,719.8 465.9,724.5 461.9,730.8 459.5,735.6 458.7,732.4 461.1,725.3" fill="#3d2ed2"/>
<polygon points="471.7,719.8 476.4,720.6 478.0,726.1 478.8,733.2 477.2,734.8 474.0,730.1 471.7,724.5" fill="#3d2ed2"/>
<polygon points="457.9,785.1 461.1,784.3 462.6,789.1 462.6,794.6 457.1,794.6" fill="#3d2ed2"/>
<polygon points="480.5,732.6 482.9,731.8 482.9,735.7" fill="#3d2ed2"/>
<polygon points="440.9,720.4 444.1,720.4 443.3,723.6" fill="#3d2ed2"/>
</g>
<g fill="#e4f2ef" fill-opacity="0.35" stroke="#1f2a4a" stroke-width="1.05" stroke-opacity="0.9" filter="url(#ringb)"><ellipse cx="387.0" cy="720.6" rx="1.0" ry="1.7"/><ellipse cx="387.4" cy="723.9" rx="0.9" ry="1.5"/><ellipse cx="393.2" cy="721.1" rx="0.9" ry="1.5"/><ellipse cx="393.6" cy="724.4" rx="0.8" ry="1.9"/><ellipse cx="403.2" cy="721.3" rx="0.9" ry="1.5"/><ellipse cx="402.9" cy="724.6" rx="1.0" ry="1.6"/><ellipse cx="410.4" cy="718.8" rx="0.9" ry="1.6"/><ellipse cx="414.7" cy="718.4" rx="1.0" ry="1.5"/><ellipse cx="440.1" cy="721.1" rx="0.9" ry="1.8"/><ellipse cx="448.4" cy="722.6" rx="0.9" ry="1.6"/><ellipse cx="448.2" cy="725.9" rx="1.0" ry="1.6"/><ellipse cx="451.8" cy="721.8" rx="0.9" ry="1.7"/><ellipse cx="459.9" cy="721.2" rx="0.8" ry="1.5"/><ellipse cx="470.9" cy="719.9" rx="0.8" ry="1.4"/><ellipse cx="477.7" cy="720.1" rx="1.0" ry="1.9"/><ellipse cx="403.9" cy="729.2" rx="1.0" ry="1.5"/><ellipse cx="403.5" cy="732.5" rx="0.8" ry="1.8"/><ellipse cx="409.4" cy="730.9" rx="0.9" ry="1.6"/><ellipse cx="409.0" cy="734.2" rx="0.8" ry="1.4"/><ellipse cx="419.0" cy="731.6" rx="0.9" ry="1.9"/><ellipse cx="425.7" cy="726.8" rx="1.0" ry="1.8"/><ellipse cx="426.2" cy="730.1" rx="1.0" ry="1.6"/><ellipse cx="433.8" cy="728.2" rx="1.0" ry="1.4"/><ellipse cx="441.8" cy="726.8" rx="1.0" ry="1.7"/><ellipse cx="446.5" cy="731.5" rx="0.8" ry="1.4"/><ellipse cx="454.3" cy="727.4" rx="0.8" ry="1.7"/><ellipse cx="462.0" cy="727.8" rx="0.9" ry="1.8"/><ellipse cx="461.5" cy="731.1" rx="0.9" ry="1.4"/><ellipse cx="471.4" cy="730.6" rx="0.9" ry="1.4"/><ellipse cx="475.4" cy="730.3" rx="0.9" ry="1.4"/><ellipse cx="475.7" cy="733.6" rx="0.9" ry="1.6"/><ellipse cx="388.5" cy="737.9" rx="1.0" ry="1.7"/><ellipse cx="398.3" cy="736.8" rx="0.9" ry="1.4"/><ellipse cx="405.9" cy="737.0" rx="0.8" ry="1.4"/><ellipse cx="406.7" cy="740.3" rx="0.8" ry="1.8"/><ellipse cx="410.7" cy="738.3" rx="0.9" ry="1.7"/><ellipse cx="411.0" cy="741.6" rx="0.9" ry="1.6"/><ellipse cx="416.2" cy="737.4" rx="1.0" ry="1.8"/><ellipse cx="416.6" cy="740.7" rx="0.9" ry="1.5"/><ellipse cx="425.9" cy="738.4" rx="0.9" ry="1.6"/><ellipse cx="435.5" cy="739.1" rx="1.0" ry="1.8"/><ellipse cx="441.9" cy="736.4" rx="1.0" ry="1.8"/><ellipse cx="462.6" cy="736.8" rx="0.9" ry="1.4"/><ellipse cx="462.0" cy="740.1" rx="0.9" ry="1.9"/><ellipse cx="470.8" cy="735.7" rx="0.9" ry="1.6"/><ellipse cx="479.4" cy="736.5" rx="0.9" ry="1.8"/><ellipse cx="384.8" cy="746.7" rx="1.0" ry="1.6"/><ellipse cx="384.6" cy="750.0" rx="0.9" ry="1.7"/><ellipse cx="392.1" cy="745.6" rx="1.0" ry="1.4"/><ellipse cx="391.6" cy="748.9" rx="1.0" ry="1.9"/><ellipse cx="398.9" cy="746.2" rx="1.0" ry="1.5"/><ellipse cx="399.0" cy="749.5" rx="0.8" ry="1.7"/><ellipse cx="407.8" cy="746.0" rx="0.8" ry="1.8"/><ellipse cx="416.4" cy="743.9" rx="0.9" ry="1.5"/><ellipse cx="416.3" cy="747.2" rx="1.0" ry="1.8"/><ellipse cx="439.2" cy="744.1" rx="1.0" ry="1.5"/><ellipse cx="447.8" cy="746.7" rx="1.0" ry="1.6"/><ellipse cx="453.0" cy="745.2" rx="0.8" ry="1.4"/><ellipse cx="462.2" cy="744.6" rx="0.8" ry="1.6"/><ellipse cx="461.4" cy="747.9" rx="1.0" ry="1.7"/><ellipse cx="466.8" cy="748.4" rx="1.0" ry="1.8"/><ellipse cx="474.2" cy="747.8" rx="0.9" ry="1.7"/><ellipse cx="473.4" cy="751.1" rx="1.0" ry="1.5"/><ellipse cx="386.2" cy="756.5" rx="1.0" ry="1.5"/><ellipse cx="397.4" cy="754.9" rx="0.9" ry="1.9"/><ellipse cx="408.0" cy="754.0" rx="1.0" ry="1.7"/><ellipse cx="420.1" cy="754.9" rx="1.0" ry="1.7"/><ellipse cx="426.6" cy="756.6" rx="0.9" ry="1.5"/><ellipse cx="426.0" cy="759.9" rx="0.9" ry="1.8"/><ellipse cx="431.1" cy="752.3" rx="0.8" ry="1.7"/><ellipse cx="431.2" cy="755.6" rx="0.9" ry="1.5"/><ellipse cx="449.9" cy="754.8" rx="0.9" ry="1.7"/><ellipse cx="449.5" cy="758.1" rx="1.0" ry="1.8"/><ellipse cx="454.2" cy="754.4" rx="0.9" ry="1.7"/><ellipse cx="454.2" cy="757.7" rx="0.9" ry="1.4"/><ellipse cx="463.4" cy="756.2" rx="1.0" ry="1.6"/><ellipse cx="467.9" cy="755.5" rx="1.0" ry="1.5"/><ellipse cx="479.1" cy="756.3" rx="0.9" ry="1.8"/><ellipse cx="478.4" cy="759.6" rx="0.9" ry="1.6"/><ellipse cx="387.5" cy="764.2" rx="0.9" ry="1.5"/><ellipse cx="395.9" cy="765.3" rx="1.0" ry="1.4"/><ellipse cx="396.5" cy="768.6" rx="0.9" ry="1.7"/><ellipse cx="403.6" cy="762.0" rx="0.9" ry="1.5"/><ellipse cx="410.5" cy="761.8" rx="1.0" ry="1.6"/><ellipse cx="415.2" cy="761.0" rx="0.8" ry="1.8"/><ellipse cx="422.1" cy="764.3" rx="0.9" ry="1.9"/><ellipse cx="432.6" cy="763.9" rx="1.0" ry="1.7"/><ellipse cx="432.4" cy="767.2" rx="0.9" ry="1.7"/><ellipse cx="440.9" cy="760.8" rx="0.9" ry="1.7"/><ellipse cx="444.9" cy="763.2" rx="0.9" ry="1.6"/><ellipse cx="445.4" cy="766.5" rx="0.9" ry="1.4"/><ellipse cx="452.7" cy="763.8" rx="0.8" ry="1.7"/><ellipse cx="461.5" cy="764.5" rx="0.9" ry="1.4"/><ellipse cx="461.8" cy="767.8" rx="0.9" ry="1.7"/><ellipse cx="468.0" cy="763.6" rx="1.0" ry="1.4"/><ellipse cx="476.1" cy="765.3" rx="0.8" ry="1.6"/><ellipse cx="476.5" cy="768.6" rx="1.0" ry="1.8"/><ellipse cx="389.7" cy="769.6" rx="1.0" ry="1.7"/><ellipse cx="394.2" cy="772.5" rx="1.0" ry="1.4"/><ellipse cx="400.5" cy="770.8" rx="0.8" ry="1.6"/><ellipse cx="410.8" cy="771.4" rx="1.0" ry="1.6"/><ellipse cx="410.6" cy="774.7" rx="1.0" ry="1.7"/><ellipse cx="417.8" cy="771.0" rx="0.9" ry="1.6"/><ellipse cx="417.8" cy="774.3" rx="0.8" ry="1.9"/><ellipse cx="423.5" cy="769.4" rx="0.9" ry="1.7"/><ellipse cx="424.1" cy="772.7" rx="0.9" ry="1.7"/><ellipse cx="433.7" cy="771.8" rx="0.9" ry="1.8"/><ellipse cx="433.4" cy="775.1" rx="1.0" ry="1.6"/><ellipse cx="442.0" cy="773.4" rx="1.0" ry="1.7"/><ellipse cx="442.3" cy="776.7" rx="1.0" ry="1.8"/><ellipse cx="450.0" cy="770.8" rx="0.8" ry="1.6"/><ellipse cx="450.8" cy="774.1" rx="1.0" ry="1.5"/><ellipse cx="456.5" cy="772.3" rx="1.0" ry="1.8"/><ellipse cx="464.9" cy="771.7" rx="1.0" ry="1.7"/><ellipse cx="470.9" cy="770.7" rx="0.8" ry="1.4"/><ellipse cx="470.7" cy="774.0" rx="0.8" ry="1.6"/><ellipse cx="475.3" cy="772.4" rx="0.9" ry="1.6"/><ellipse cx="475.3" cy="775.7" rx="1.0" ry="1.6"/><ellipse cx="385.1" cy="779.4" rx="1.0" ry="1.5"/><ellipse cx="393.5" cy="781.2" rx="0.9" ry="1.9"/><ellipse cx="402.6" cy="781.8" rx="0.8" ry="1.6"/><ellipse cx="403.1" cy="785.1" rx="0.8" ry="1.6"/><ellipse cx="407.1" cy="781.7" rx="0.9" ry="1.8"/><ellipse cx="407.2" cy="785.0" rx="1.0" ry="1.7"/><ellipse cx="418.3" cy="778.2" rx="0.9" ry="1.5"/><ellipse cx="425.9" cy="782.0" rx="0.9" ry="1.6"/><ellipse cx="431.6" cy="782.1" rx="1.0" ry="1.9"/><ellipse cx="440.4" cy="781.6" rx="1.0" ry="1.8"/><ellipse cx="440.6" cy="784.9" rx="1.0" ry="1.4"/><ellipse cx="446.9" cy="782.2" rx="0.8" ry="1.8"/><ellipse cx="447.0" cy="785.5" rx="1.0" ry="1.4"/><ellipse cx="452.7" cy="780.9" rx="1.0" ry="1.9"/><ellipse cx="462.3" cy="779.5" rx="0.9" ry="1.8"/><ellipse cx="468.5" cy="781.5" rx="1.0" ry="1.5"/><ellipse cx="467.8" cy="784.8" rx="0.9" ry="1.6"/><ellipse cx="476.2" cy="780.4" rx="0.8" ry="1.4"/><ellipse cx="476.3" cy="783.7" rx="0.9" ry="1.5"/><ellipse cx="388.5" cy="789.5" rx="1.0" ry="1.6"/><ellipse cx="388.9" cy="792.8" rx="1.0" ry="1.8"/><ellipse cx="395.6" cy="789.4" rx="1.0" ry="1.9"/><ellipse cx="403.9" cy="786.7" rx="1.0" ry="1.6"/><ellipse cx="408.1" cy="787.5" rx="1.0" ry="1.5"/><ellipse cx="419.2" cy="787.2" rx="0.9" ry="1.7"/><ellipse cx="430.5" cy="788.4" rx="1.0" ry="1.5"/><ellipse cx="430.8" cy="791.7" rx="1.0" ry="1.6"/><ellipse cx="438.3" cy="788.1" rx="1.0" ry="1.9"/><ellipse cx="438.6" cy="791.4" rx="1.0" ry="1.8"/><ellipse cx="447.3" cy="790.7" rx="0.9" ry="1.6"/><ellipse cx="447.0" cy="794.0" rx="0.9" ry="1.4"/><ellipse cx="456.6" cy="787.4" rx="1.0" ry="1.5"/><ellipse cx="456.3" cy="790.7" rx="1.0" ry="1.5"/><ellipse cx="462.9" cy="789.6" rx="1.0" ry="1.6"/><ellipse cx="463.7" cy="792.9" rx="1.0" ry="1.7"/><ellipse cx="468.8" cy="790.3" rx="0.8" ry="1.5"/><ellipse cx="468.1" cy="793.6" rx="0.9" ry="1.7"/><ellipse cx="476.3" cy="791.0" rx="0.9" ry="1.7"/><ellipse cx="476.6" cy="794.3" rx="0.8" ry="1.5"/></g>
</g>
<g clip-path="url(#mc4)">
<rect x="485.70" y="719.90" width="96.30" height="73.10" fill="#a3cfc6" />
<g filter="url(#cellh)" fill="#6f5fd2" fill-opacity="0.6">
<polygon points="494.7,719.1 498.9,719.1 497.2,727.6 498.0,734.3 496.3,739.4 493.0,738.6 491.3,736.0 494.7,730.1"/>
<polygon points="484.9,733.7 487.5,735.4 487.5,752.3 484.9,752.3"/>
<polygon points="508.2,719.5 517.5,719.5 519.2,722.8 515.8,726.2 510.7,726.2 508.2,722.8"/>
<polygon points="513.9,727.5 519.0,725.8 522.4,730.9 521.5,736.0 517.3,736.8 514.7,733.4"/>
<polygon points="518.8,720.3 523.1,720.3 522.2,727.1 519.7,726.2"/>
<polygon points="525.1,733.9 530.2,733.1 536.1,735.6 536.1,743.3 531.0,744.1 526.8,740.7"/>
<polygon points="506.4,752.1 512.3,751.2 517.4,750.4 520.8,752.9 523.4,758.0 527.6,759.7 529.3,764.8 525.9,769.9 521.7,770.7 519.1,766.5 515.7,763.1 512.3,764.8 510.6,773.3 508.9,780.0 507.2,788.5 504.7,787.7 506.4,778.3 507.2,768.2 508.1,759.7"/>
<polygon points="484.6,763.9 489.7,763.0 495.6,759.6 499.8,756.2 501.5,763.0 499.0,769.8 496.4,776.6 494.8,780.0 493.1,774.9 489.7,769.8 484.6,769.8"/>
<polygon points="528.4,754.6 533.5,755.4 536.1,759.7 536.1,780.0 532.7,780.0 530.1,773.2 528.4,766.4"/>
<polygon points="512.0,784.3 518.8,781.8 520.5,775.8 524.8,775.8 525.6,782.6 527.3,786.0 522.2,787.7 515.4,786.9"/>
<polygon points="489.5,789.0 494.6,786.5 498.9,787.3 501.4,790.7 501.4,794.9 489.5,794.9"/>
<polygon points="521.9,789.0 527.0,788.1 530.4,790.7 530.4,794.9 521.9,794.9"/>
<polygon points="536.1,720.3 545.4,720.3 543.7,724.5 537.7,726.2 536.1,723.7"/>
<polygon points="547.3,721.1 554.1,720.2 559.2,720.2 557.5,724.5 553.2,727.9 549.0,728.7 546.4,725.3"/>
<polygon points="559.1,719.9 569.3,719.9 576.9,720.7 579.5,724.1 579.5,732.6 576.9,736.9 578.6,742.8 575.2,745.3 571.0,741.1 567.6,736.9 568.4,732.6 566.7,729.2 563.3,726.7 559.1,725.8"/>
<polygon points="552.6,746.3 559.4,742.9 565.3,738.7 571.2,735.3 575.5,737.0 577.2,742.1 575.5,748.8 572.1,752.2 568.7,750.5 565.3,748.8 560.2,748.8 557.7,753.1 554.3,750.5"/>
<polygon points="571.5,752.5 578.3,748.3 583.4,748.3 583.4,754.2 580.8,761.8 576.6,766.9 574.0,766.9 572.3,760.1"/>
<polygon points="532.9,734.7 537.9,737.3 539.6,740.7 536.2,743.2 532.9,743.2"/>
<polygon points="532.9,754.9 537.1,754.9 538.0,760.0 536.3,766.7 532.9,768.4"/>
<polygon points="558.6,766.4 563.7,763.0 567.1,763.0 568.8,768.1 567.1,774.0 563.7,774.8 559.4,771.4"/>
<polygon points="570.1,763.0 572.6,761.3 573.5,768.1 571.8,774.9 570.1,774.9 569.3,768.1"/>
<polygon points="532.6,772.7 537.7,771.0 545.4,771.8 547.1,777.8 546.2,784.5 542.8,785.4 540.3,781.1 536.0,779.5 532.6,779.5"/>
<polygon points="555.4,772.7 558.8,772.7 561.4,777.7 562.2,783.7 559.7,784.5 556.3,778.6"/>
<polygon points="564.2,780.7 569.3,779.0 574.4,781.5 577.0,786.6 575.3,792.6 571.0,795.1 565.1,795.1 563.4,787.5"/>
<polygon points="534.5,787.3 537.9,786.4 539.6,794.9 534.5,794.9"/>
</g>
<g filter="url(#cellb)">
<polygon points="494.7,719.8 498.7,719.8 497.1,727.7 497.9,734.1 496.3,738.8 493.1,738.0 491.5,735.7 494.7,730.1" fill="#3d2ed2"/>
<polygon points="485.0,734.3 487.4,735.9 487.4,751.8 485.0,751.8" fill="#3d2ed2"/>
<polygon points="508.5,719.7 517.2,719.7 518.8,722.8 515.6,726.0 510.9,726.0 508.5,722.8" fill="#3d2ed2"/>
<polygon points="514.2,727.8 518.9,726.2 522.1,730.9 521.3,735.7 517.3,736.5 515.0,733.3" fill="#3d2ed2"/>
<polygon points="519.0,720.5 522.9,720.5 522.1,726.8 519.8,726.0" fill="#3d2ed2"/>
<polygon points="525.5,734.2 530.2,733.4 535.8,735.8 535.8,742.9 531.0,743.7 527.1,740.6" fill="#3d2ed2"/>
<polygon points="507.0,753.0 512.5,752.2 517.3,751.4 520.4,753.8 522.8,758.5 526.8,760.1 528.3,764.9 525.2,769.6 521.2,770.4 518.8,766.5 515.7,763.3 512.5,764.9 510.9,772.8 509.3,779.1 507.8,787.0 505.4,786.3 507.0,777.5 507.8,768.0 508.6,760.1" fill="#3d2ed2"/>
<polygon points="485.2,764.1 489.9,763.3 495.5,760.2 499.4,757.0 501.0,763.3 498.6,769.7 496.3,776.0 494.7,779.2 493.1,774.4 489.9,769.7 485.2,769.7" fill="#3d2ed2"/>
<polygon points="528.7,755.4 533.4,756.2 535.8,760.1 535.8,779.1 532.6,779.1 530.3,772.8 528.7,766.5" fill="#3d2ed2"/>
<polygon points="512.6,784.2 519.0,781.8 520.5,776.3 524.5,776.3 525.3,782.6 526.9,785.8 522.1,787.4 515.8,786.6" fill="#3d2ed2"/>
<polygon points="490.0,789.1 494.7,786.7 498.7,787.5 501.1,790.7 501.1,794.7 490.0,794.7" fill="#3d2ed2"/>
<polygon points="522.2,789.1 527.0,788.3 530.2,790.7 530.2,794.7 522.2,794.7" fill="#3d2ed2"/>
<polygon points="536.3,720.5 545.0,720.5 543.4,724.4 537.9,726.0 536.3,723.6" fill="#3d2ed2"/>
<polygon points="547.6,721.3 554.0,720.5 558.7,720.5 557.1,724.5 553.2,727.6 549.2,728.4 546.8,725.2" fill="#3d2ed2"/>
<polygon points="559.9,720.6 569.4,720.6 576.5,721.4 578.9,724.6 578.9,732.5 576.5,736.5 578.1,742.0 574.9,744.4 571.0,740.4 567.8,736.5 568.6,732.5 567.0,729.3 563.8,727.0 559.9,726.2" fill="#3d2ed2"/>
<polygon points="553.4,746.3 559.8,743.1 565.3,739.1 570.9,736.0 574.8,737.6 576.4,742.3 574.8,748.6 571.7,751.8 568.5,750.2 565.3,748.6 560.6,748.6 558.2,752.6 555.0,750.2" fill="#3d2ed2"/>
<polygon points="571.9,752.8 578.2,748.9 583.0,748.9 583.0,754.4 580.6,761.5 576.6,766.3 574.3,766.3 572.7,760.0" fill="#3d2ed2"/>
<polygon points="533.1,735.1 537.8,737.4 539.4,740.6 536.2,743.0 533.1,743.0" fill="#3d2ed2"/>
<polygon points="533.0,755.3 537.0,755.3 537.8,760.0 536.2,766.4 533.0,767.9" fill="#3d2ed2"/>
<polygon points="559.0,766.5 563.7,763.3 566.9,763.3 568.5,768.1 566.9,773.6 563.7,774.4 559.7,771.3" fill="#3d2ed2"/>
<polygon points="570.2,763.3 572.6,761.8 573.3,768.1 571.8,774.4 570.2,774.4 569.4,768.1" fill="#3d2ed2"/>
<polygon points="533.1,773.0 537.9,771.4 545.0,772.2 546.6,777.8 545.8,784.1 542.6,784.9 540.3,780.9 536.3,779.4 533.1,779.4" fill="#3d2ed2"/>
<polygon points="555.7,773.0 558.9,773.0 561.2,777.8 562.0,783.3 559.6,784.1 556.5,778.6" fill="#3d2ed2"/>
<polygon points="564.6,781.1 569.4,779.5 574.1,781.9 576.5,786.7 574.9,792.2 570.9,794.6 565.4,794.6 563.8,787.5" fill="#3d2ed2"/>
<polygon points="534.7,787.5 537.8,786.7 539.4,794.7 534.7,794.7" fill="#3d2ed2"/>
</g>
<g fill="#e4f2ef" fill-opacity="0.35" stroke="#1f2a4a" stroke-width="1.05" stroke-opacity="0.9" filter="url(#ringb)"><ellipse cx="487.7" cy="723.9" rx="1.0" ry="1.6"/><ellipse cx="487.1" cy="727.2" rx="1.0" ry="1.5"/><ellipse cx="505.6" cy="723.6" rx="1.0" ry="1.4"/><ellipse cx="519.1" cy="719.9" rx="1.0" ry="1.8"/><ellipse cx="536.1" cy="722.0" rx="0.9" ry="1.8"/><ellipse cx="536.8" cy="725.3" rx="1.0" ry="1.7"/><ellipse cx="544.2" cy="722.2" rx="0.9" ry="1.4"/><ellipse cx="543.5" cy="725.5" rx="1.0" ry="1.7"/><ellipse cx="549.6" cy="722.2" rx="0.9" ry="1.7"/><ellipse cx="558.1" cy="721.6" rx="0.9" ry="1.4"/><ellipse cx="558.3" cy="724.9" rx="1.0" ry="1.6"/><ellipse cx="564.6" cy="723.5" rx="0.9" ry="1.4"/><ellipse cx="580.3" cy="720.6" rx="0.8" ry="1.4"/><ellipse cx="580.1" cy="723.9" rx="0.9" ry="1.8"/><ellipse cx="490.1" cy="727.7" rx="1.0" ry="1.6"/><ellipse cx="490.6" cy="731.0" rx="1.0" ry="1.6"/><ellipse cx="497.1" cy="732.4" rx="1.0" ry="1.7"/><ellipse cx="505.6" cy="731.5" rx="0.8" ry="1.7"/><ellipse cx="510.8" cy="728.3" rx="0.9" ry="1.4"/><ellipse cx="524.7" cy="728.5" rx="0.8" ry="1.5"/><ellipse cx="525.3" cy="731.8" rx="0.8" ry="1.6"/><ellipse cx="533.4" cy="731.1" rx="0.8" ry="1.6"/><ellipse cx="547.7" cy="729.8" rx="1.0" ry="1.6"/><ellipse cx="548.1" cy="733.1" rx="0.9" ry="1.5"/><ellipse cx="554.5" cy="730.7" rx="1.0" ry="1.4"/><ellipse cx="555.1" cy="734.0" rx="0.9" ry="1.7"/><ellipse cx="564.1" cy="727.5" rx="1.0" ry="1.9"/><ellipse cx="579.3" cy="728.1" rx="1.0" ry="1.4"/><ellipse cx="579.9" cy="731.4" rx="0.9" ry="1.7"/><ellipse cx="502.0" cy="740.1" rx="0.9" ry="1.5"/><ellipse cx="518.7" cy="740.0" rx="0.9" ry="1.8"/><ellipse cx="533.5" cy="736.9" rx="0.9" ry="1.5"/><ellipse cx="532.8" cy="740.2" rx="0.9" ry="1.9"/><ellipse cx="540.5" cy="740.2" rx="1.0" ry="1.4"/><ellipse cx="575.6" cy="736.8" rx="1.0" ry="1.6"/><ellipse cx="498.9" cy="749.1" rx="1.0" ry="1.7"/><ellipse cx="503.0" cy="745.6" rx="0.9" ry="1.4"/><ellipse cx="503.7" cy="748.9" rx="0.9" ry="1.5"/><ellipse cx="510.7" cy="745.3" rx="0.9" ry="1.8"/><ellipse cx="510.6" cy="748.6" rx="0.9" ry="1.7"/><ellipse cx="531.8" cy="749.2" rx="0.8" ry="1.5"/><ellipse cx="539.8" cy="744.6" rx="0.8" ry="1.6"/><ellipse cx="554.4" cy="746.1" rx="0.9" ry="1.6"/><ellipse cx="555.1" cy="749.4" rx="1.0" ry="1.4"/><ellipse cx="485.8" cy="753.3" rx="1.0" ry="1.5"/><ellipse cx="485.8" cy="756.6" rx="0.9" ry="1.7"/><ellipse cx="493.4" cy="757.5" rx="0.9" ry="1.7"/><ellipse cx="510.3" cy="755.7" rx="1.0" ry="1.7"/><ellipse cx="510.1" cy="759.0" rx="1.0" ry="1.5"/><ellipse cx="533.4" cy="756.3" rx="0.9" ry="1.7"/><ellipse cx="542.3" cy="754.8" rx="0.9" ry="1.6"/><ellipse cx="549.5" cy="753.1" rx="1.0" ry="1.5"/><ellipse cx="568.9" cy="754.8" rx="0.8" ry="1.6"/><ellipse cx="493.5" cy="761.9" rx="0.8" ry="1.4"/><ellipse cx="493.4" cy="765.2" rx="0.9" ry="1.5"/><ellipse cx="502.4" cy="764.9" rx="0.8" ry="1.8"/><ellipse cx="508.3" cy="761.7" rx="1.0" ry="1.7"/><ellipse cx="517.3" cy="765.1" rx="0.9" ry="1.4"/><ellipse cx="517.8" cy="768.4" rx="0.9" ry="1.7"/><ellipse cx="527.2" cy="766.0" rx="1.0" ry="1.7"/><ellipse cx="534.9" cy="766.0" rx="0.8" ry="1.7"/><ellipse cx="534.8" cy="769.3" rx="1.0" ry="1.6"/><ellipse cx="540.7" cy="765.4" rx="1.0" ry="1.4"/><ellipse cx="540.4" cy="768.7" rx="1.0" ry="1.6"/><ellipse cx="553.5" cy="761.5" rx="1.0" ry="1.8"/><ellipse cx="553.1" cy="764.8" rx="1.0" ry="1.6"/><ellipse cx="575.6" cy="763.7" rx="0.9" ry="1.4"/><ellipse cx="575.1" cy="767.0" rx="1.0" ry="1.5"/><ellipse cx="499.4" cy="773.9" rx="0.9" ry="1.4"/><ellipse cx="503.9" cy="774.2" rx="0.9" ry="1.5"/><ellipse cx="511.7" cy="772.0" rx="0.9" ry="1.8"/><ellipse cx="511.9" cy="775.3" rx="0.9" ry="1.6"/><ellipse cx="526.2" cy="770.5" rx="1.0" ry="1.6"/><ellipse cx="525.8" cy="773.8" rx="1.0" ry="1.5"/><ellipse cx="533.9" cy="771.9" rx="0.9" ry="1.5"/><ellipse cx="544.7" cy="774.6" rx="0.9" ry="1.7"/><ellipse cx="544.0" cy="777.9" rx="0.8" ry="1.6"/><ellipse cx="558.5" cy="773.3" rx="0.9" ry="1.7"/><ellipse cx="565.0" cy="771.1" rx="0.8" ry="1.4"/><ellipse cx="564.2" cy="774.4" rx="0.9" ry="1.5"/><ellipse cx="572.4" cy="771.1" rx="1.0" ry="1.7"/><ellipse cx="572.6" cy="774.4" rx="0.9" ry="1.7"/><ellipse cx="578.9" cy="773.9" rx="0.9" ry="1.8"/><ellipse cx="578.3" cy="777.2" rx="0.8" ry="1.5"/><ellipse cx="494.9" cy="782.2" rx="0.9" ry="1.8"/><ellipse cx="494.6" cy="785.5" rx="1.0" ry="1.6"/><ellipse cx="503.0" cy="779.0" rx="1.0" ry="1.5"/><ellipse cx="503.4" cy="782.3" rx="0.8" ry="1.8"/><ellipse cx="527.4" cy="782.2" rx="1.0" ry="1.8"/><ellipse cx="533.3" cy="778.8" rx="0.9" ry="1.7"/><ellipse cx="533.9" cy="782.1" rx="1.0" ry="1.4"/><ellipse cx="541.1" cy="780.9" rx="1.0" ry="1.7"/><ellipse cx="558.6" cy="781.4" rx="0.9" ry="1.8"/><ellipse cx="565.7" cy="782.0" rx="0.9" ry="1.6"/><ellipse cx="572.0" cy="782.2" rx="0.8" ry="1.7"/><ellipse cx="578.1" cy="782.7" rx="0.8" ry="1.5"/><ellipse cx="578.1" cy="786.0" rx="0.9" ry="1.5"/><ellipse cx="486.7" cy="787.3" rx="1.0" ry="1.7"/><ellipse cx="497.7" cy="787.5" rx="1.0" ry="1.6"/><ellipse cx="497.7" cy="790.8" rx="1.0" ry="1.6"/><ellipse cx="541.3" cy="789.6" rx="0.9" ry="1.5"/><ellipse cx="548.5" cy="790.9" rx="0.9" ry="1.6"/><ellipse cx="555.1" cy="788.5" rx="1.0" ry="1.7"/><ellipse cx="554.8" cy="791.8" rx="1.0" ry="1.9"/><ellipse cx="570.8" cy="789.5" rx="0.8" ry="1.6"/></g>
</g>
<g clip-path="url(#mc5)">
<rect x="586.80" y="719.60" width="97.60" height="73.60" fill="#a3cfc6" />
<g filter="url(#cellh)" fill="#6f5fd2" fill-opacity="0.6">
<polygon points="597.6,729.8 603.6,726.4 610.4,726.4 614.6,728.9 616.3,733.2 612.9,736.6 612.1,740.8 612.9,745.9 610.4,747.6 607.8,745.1 607.0,740.0 603.6,738.3 599.3,739.1 596.0,736.6"/>
<polygon points="602.0,719.5 607.0,719.5 610.4,720.4 609.6,723.7 605.4,724.6 602.0,722.9"/>
<polygon points="614.9,719.4 620.0,719.4 622.5,722.8 620.8,727.1 618.3,727.1 616.6,723.7"/>
<polygon points="626.2,719.5 633.0,719.5 631.3,722.9 628.8,723.8"/>
<polygon points="595.5,758.0 598.0,757.2 602.3,761.4 606.5,766.5 604.0,771.6 599.7,774.1 597.2,771.6 596.3,764.8"/>
<polygon points="611.7,763.9 616.7,760.5 620.1,760.5 621.0,766.5 618.4,770.7 615.0,772.4 611.7,771.5 610.8,767.3"/>
<polygon points="623.0,755.0 628.1,753.3 630.6,756.7 629.8,761.8 626.4,763.5 623.0,760.9"/>
<polygon points="612.4,781.0 617.5,778.5 621.7,775.1 623.4,780.2 620.9,783.6 615.0,784.4 611.6,782.7"/>
<polygon points="585.9,763.7 589.2,764.5 591.8,769.6 591.8,776.4 589.2,777.3 585.9,773.9"/>
<polygon points="585.9,777.6 589.3,779.3 589.3,784.4 585.9,785.2"/>
<polygon points="643.9,719.4 652.4,719.4 660.0,719.4 662.6,724.5 664.3,728.7 661.7,729.6 657.5,727.0 652.4,725.3 648.2,722.8"/>
<polygon points="639.5,732.8 642.9,732.8 643.8,740.4 643.4,748.9 643.8,754.8 641.7,755.6 640.4,750.6 639.1,742.1"/>
<polygon points="679.0,719.5 685.8,719.5 685.8,724.6 680.7,724.6"/>
<polygon points="653.9,777.6 658.2,775.1 661.6,775.9 664.1,780.1 661.6,784.4 658.2,786.1 654.8,783.5"/>
<polygon points="642.7,784.0 647.8,782.3 651.2,784.8 651.2,795.0 641.8,795.0"/>
<polygon points="666.0,788.1 670.2,786.4 674.5,787.3 677.9,790.7 677.9,794.9 666.0,794.9"/>
<polygon points="679.0,787.2 685.8,785.6 685.8,794.9 679.0,794.9"/>
</g>
<g filter="url(#cellb)">
<polygon points="598.3,730.2 603.8,727.1 610.2,727.1 614.1,729.5 615.7,733.4 612.6,736.6 611.8,740.5 612.6,745.3 610.2,746.9 607.8,744.5 607.0,739.7 603.8,738.2 599.9,739.0 596.7,736.6" fill="#3d2ed2"/>
<polygon points="602.2,719.7 607.0,719.7 610.1,720.5 609.4,723.6 605.4,724.4 602.2,722.8" fill="#3d2ed2"/>
<polygon points="615.2,719.7 619.9,719.7 622.3,722.9 620.7,726.8 618.3,726.8 616.7,723.6" fill="#3d2ed2"/>
<polygon points="626.5,719.7 632.8,719.7 631.2,722.8 628.8,723.6" fill="#3d2ed2"/>
<polygon points="595.8,758.5 598.2,757.7 602.1,761.7 606.1,766.4 603.7,771.2 599.7,773.6 597.4,771.2 596.6,764.9" fill="#3d2ed2"/>
<polygon points="611.9,764.1 616.7,760.9 619.8,760.9 620.6,766.5 618.3,770.4 615.1,772.0 611.9,771.2 611.1,767.3" fill="#3d2ed2"/>
<polygon points="623.2,755.2 628.0,753.6 630.4,756.8 629.6,761.6 626.4,763.1 623.2,760.8" fill="#3d2ed2"/>
<polygon points="612.8,781.0 617.5,778.6 621.5,775.5 623.0,780.2 620.7,783.4 615.1,784.2 612.0,782.6" fill="#3d2ed2"/>
<polygon points="586.1,764.2 589.2,765.0 591.6,769.7 591.6,776.1 589.2,776.8 586.1,773.7" fill="#3d2ed2"/>
<polygon points="586.0,777.9 589.2,779.4 589.2,784.2 586.0,785.0" fill="#3d2ed2"/>
<polygon points="644.7,719.7 652.6,719.7 659.7,719.7 662.1,724.4 663.7,728.4 661.3,729.2 657.4,726.8 652.6,725.2 648.7,722.9" fill="#3d2ed2"/>
<polygon points="639.7,733.6 642.9,733.6 643.6,740.7 643.3,748.6 643.6,754.1 641.7,754.9 640.5,750.2 639.3,742.3" fill="#3d2ed2"/>
<polygon points="679.3,719.7 685.6,719.7 685.6,724.4 680.9,724.4" fill="#3d2ed2"/>
<polygon points="654.3,777.8 658.2,775.4 661.4,776.2 663.8,780.2 661.4,784.1 658.2,785.7 655.1,783.3" fill="#3d2ed2"/>
<polygon points="643.0,784.3 647.7,782.7 650.9,785.1 650.9,794.5 642.2,794.5" fill="#3d2ed2"/>
<polygon points="666.4,788.3 670.4,786.7 674.3,787.5 677.5,790.6 677.5,794.6 666.4,794.6" fill="#3d2ed2"/>
<polygon points="679.3,787.5 685.6,785.9 685.6,794.6 679.3,794.6" fill="#3d2ed2"/>
</g>
<g fill="#e4f2ef" fill-opacity="0.35" stroke="#1f2a4a" stroke-width="1.05" stroke-opacity="0.9" filter="url(#ringb)"><ellipse cx="606.5" cy="720.7" rx="0.8" ry="1.6"/><ellipse cx="613.3" cy="718.7" rx="0.9" ry="1.7"/><ellipse cx="613.7" cy="722.0" rx="1.0" ry="1.6"/><ellipse cx="622.5" cy="721.5" rx="1.0" ry="1.6"/><ellipse cx="627.9" cy="721.5" rx="0.8" ry="1.6"/><ellipse cx="636.5" cy="720.8" rx="0.8" ry="1.6"/><ellipse cx="642.1" cy="719.2" rx="0.9" ry="1.7"/><ellipse cx="641.3" cy="722.5" rx="1.0" ry="1.6"/><ellipse cx="650.0" cy="720.1" rx="0.9" ry="1.5"/><ellipse cx="659.6" cy="722.7" rx="1.0" ry="1.7"/><ellipse cx="659.7" cy="726.0" rx="1.0" ry="1.5"/><ellipse cx="673.2" cy="718.7" rx="1.0" ry="1.8"/><ellipse cx="596.6" cy="732.0" rx="0.8" ry="1.6"/><ellipse cx="596.2" cy="735.3" rx="0.8" ry="1.9"/><ellipse cx="610.4" cy="729.7" rx="1.0" ry="1.5"/><ellipse cx="610.5" cy="733.0" rx="0.9" ry="1.9"/><ellipse cx="619.1" cy="731.6" rx="1.0" ry="1.6"/><ellipse cx="629.1" cy="730.3" rx="0.9" ry="1.8"/><ellipse cx="628.7" cy="733.6" rx="0.9" ry="1.7"/><ellipse cx="633.0" cy="730.3" rx="1.0" ry="1.5"/><ellipse cx="633.1" cy="733.6" rx="1.0" ry="1.4"/><ellipse cx="642.6" cy="728.3" rx="0.9" ry="1.8"/><ellipse cx="649.3" cy="731.0" rx="0.9" ry="1.7"/><ellipse cx="649.9" cy="734.3" rx="0.8" ry="1.6"/><ellipse cx="655.3" cy="730.6" rx="0.9" ry="1.7"/><ellipse cx="655.6" cy="733.9" rx="0.9" ry="1.5"/><ellipse cx="674.3" cy="731.4" rx="1.0" ry="1.7"/><ellipse cx="674.7" cy="734.7" rx="0.9" ry="1.6"/><ellipse cx="678.9" cy="731.9" rx="0.9" ry="1.8"/><ellipse cx="678.7" cy="735.2" rx="0.9" ry="1.7"/><ellipse cx="587.0" cy="736.7" rx="0.9" ry="1.5"/><ellipse cx="587.6" cy="740.0" rx="0.9" ry="1.5"/><ellipse cx="596.3" cy="739.9" rx="0.9" ry="1.9"/><ellipse cx="596.8" cy="743.2" rx="1.0" ry="1.4"/><ellipse cx="602.9" cy="737.4" rx="0.8" ry="1.8"/><ellipse cx="603.5" cy="740.7" rx="0.9" ry="1.7"/><ellipse cx="609.5" cy="740.2" rx="1.0" ry="1.9"/><ellipse cx="616.7" cy="738.7" rx="0.9" ry="1.8"/><ellipse cx="617.0" cy="742.0" rx="0.9" ry="1.8"/><ellipse cx="627.1" cy="738.6" rx="0.8" ry="1.8"/><ellipse cx="626.5" cy="741.9" rx="0.9" ry="1.6"/><ellipse cx="634.7" cy="738.3" rx="0.9" ry="1.7"/><ellipse cx="643.7" cy="737.2" rx="1.0" ry="1.5"/><ellipse cx="650.4" cy="739.8" rx="1.0" ry="1.8"/><ellipse cx="650.3" cy="743.1" rx="0.9" ry="1.5"/><ellipse cx="654.4" cy="737.2" rx="0.9" ry="1.6"/><ellipse cx="654.9" cy="740.5" rx="0.9" ry="1.6"/><ellipse cx="663.8" cy="736.5" rx="1.0" ry="1.7"/><ellipse cx="671.2" cy="738.6" rx="1.0" ry="1.6"/><ellipse cx="680.8" cy="737.6" rx="0.8" ry="1.6"/><ellipse cx="680.1" cy="740.9" rx="1.0" ry="1.8"/><ellipse cx="589.3" cy="744.9" rx="0.9" ry="1.7"/><ellipse cx="596.0" cy="744.4" rx="1.0" ry="1.6"/><ellipse cx="595.5" cy="747.7" rx="1.0" ry="1.8"/><ellipse cx="605.6" cy="745.1" rx="0.9" ry="1.5"/><ellipse cx="606.3" cy="748.4" rx="0.9" ry="1.7"/><ellipse cx="611.9" cy="748.9" rx="0.9" ry="1.9"/><ellipse cx="612.4" cy="752.2" rx="0.8" ry="1.7"/><ellipse cx="626.0" cy="748.7" rx="1.0" ry="1.4"/><ellipse cx="636.9" cy="747.7" rx="0.9" ry="1.5"/><ellipse cx="645.4" cy="747.3" rx="1.0" ry="1.8"/><ellipse cx="652.0" cy="745.0" rx="1.0" ry="1.5"/><ellipse cx="651.3" cy="748.3" rx="1.0" ry="1.4"/><ellipse cx="659.2" cy="746.9" rx="1.0" ry="1.5"/><ellipse cx="664.7" cy="747.0" rx="0.9" ry="1.8"/><ellipse cx="672.1" cy="747.5" rx="0.9" ry="1.8"/><ellipse cx="678.6" cy="744.8" rx="1.0" ry="1.6"/><ellipse cx="589.9" cy="755.3" rx="1.0" ry="1.8"/><ellipse cx="597.8" cy="756.7" rx="1.0" ry="1.5"/><ellipse cx="604.1" cy="753.6" rx="1.0" ry="1.4"/><ellipse cx="611.7" cy="757.0" rx="0.9" ry="1.5"/><ellipse cx="611.1" cy="760.3" rx="0.8" ry="1.7"/><ellipse cx="628.5" cy="753.4" rx="1.0" ry="1.6"/><ellipse cx="637.0" cy="753.9" rx="1.0" ry="1.6"/><ellipse cx="642.0" cy="755.0" rx="1.0" ry="1.6"/><ellipse cx="648.2" cy="757.0" rx="1.0" ry="1.8"/><ellipse cx="655.4" cy="756.3" rx="1.0" ry="1.9"/><ellipse cx="666.9" cy="753.3" rx="0.9" ry="1.9"/><ellipse cx="667.0" cy="756.6" rx="1.0" ry="1.7"/><ellipse cx="674.5" cy="754.6" rx="0.9" ry="1.6"/><ellipse cx="677.4" cy="754.3" rx="0.9" ry="1.6"/><ellipse cx="676.7" cy="757.6" rx="1.0" ry="1.8"/><ellipse cx="589.2" cy="761.7" rx="1.0" ry="1.6"/><ellipse cx="603.3" cy="764.2" rx="1.0" ry="1.9"/><ellipse cx="615.2" cy="766.0" rx="1.0" ry="1.8"/><ellipse cx="615.6" cy="769.3" rx="0.9" ry="1.7"/><ellipse cx="622.0" cy="761.4" rx="1.0" ry="1.5"/><ellipse cx="621.7" cy="764.7" rx="0.8" ry="1.5"/><ellipse cx="627.5" cy="765.4" rx="1.0" ry="1.6"/><ellipse cx="626.8" cy="768.7" rx="0.9" ry="1.8"/><ellipse cx="636.5" cy="764.2" rx="1.0" ry="1.8"/><ellipse cx="642.8" cy="765.0" rx="1.0" ry="1.8"/><ellipse cx="651.0" cy="761.3" rx="1.0" ry="1.8"/><ellipse cx="651.4" cy="764.6" rx="0.9" ry="1.5"/><ellipse cx="663.8" cy="761.3" rx="0.8" ry="1.9"/><ellipse cx="674.1" cy="765.1" rx="0.8" ry="1.7"/><ellipse cx="674.1" cy="768.4" rx="0.9" ry="1.8"/><ellipse cx="678.8" cy="763.0" rx="1.0" ry="1.8"/><ellipse cx="678.7" cy="766.3" rx="0.8" ry="1.8"/><ellipse cx="589.7" cy="771.1" rx="0.8" ry="1.5"/><ellipse cx="589.0" cy="774.4" rx="1.0" ry="1.4"/><ellipse cx="595.0" cy="773.2" rx="1.0" ry="1.4"/><ellipse cx="594.8" cy="776.5" rx="0.9" ry="1.6"/><ellipse cx="604.6" cy="770.0" rx="1.0" ry="1.5"/><ellipse cx="609.9" cy="770.0" rx="0.8" ry="1.8"/><ellipse cx="609.4" cy="773.3" rx="0.9" ry="1.6"/><ellipse cx="620.5" cy="769.8" rx="0.8" ry="1.7"/><ellipse cx="620.8" cy="773.1" rx="1.0" ry="1.8"/><ellipse cx="626.0" cy="771.2" rx="1.0" ry="1.9"/><ellipse cx="634.8" cy="773.8" rx="0.9" ry="1.4"/><ellipse cx="643.2" cy="773.1" rx="1.0" ry="1.6"/><ellipse cx="644.0" cy="776.4" rx="1.0" ry="1.5"/><ellipse cx="651.0" cy="769.9" rx="0.9" ry="1.7"/><ellipse cx="661.9" cy="772.2" rx="0.8" ry="1.4"/><ellipse cx="661.8" cy="775.5" rx="0.9" ry="1.4"/><ellipse cx="670.9" cy="770.1" rx="0.8" ry="1.8"/><ellipse cx="680.1" cy="769.9" rx="0.9" ry="1.5"/><ellipse cx="595.1" cy="782.6" rx="1.0" ry="1.5"/><ellipse cx="601.9" cy="779.1" rx="0.9" ry="1.6"/><ellipse cx="613.9" cy="781.0" rx="0.8" ry="1.8"/><ellipse cx="620.9" cy="780.4" rx="0.9" ry="1.7"/><ellipse cx="643.1" cy="782.4" rx="0.9" ry="1.8"/><ellipse cx="649.7" cy="780.4" rx="0.9" ry="1.5"/><ellipse cx="658.1" cy="782.0" rx="0.9" ry="1.5"/><ellipse cx="657.6" cy="785.3" rx="0.9" ry="1.6"/><ellipse cx="665.3" cy="779.3" rx="1.0" ry="1.5"/><ellipse cx="665.4" cy="782.6" rx="0.9" ry="1.5"/><ellipse cx="671.8" cy="782.2" rx="0.9" ry="1.7"/><ellipse cx="672.1" cy="785.5" rx="0.9" ry="1.7"/><ellipse cx="679.9" cy="780.1" rx="0.9" ry="1.9"/><ellipse cx="587.0" cy="790.0" rx="0.8" ry="1.5"/><ellipse cx="587.3" cy="793.3" rx="1.0" ry="1.4"/><ellipse cx="598.8" cy="790.2" rx="0.9" ry="1.8"/><ellipse cx="599.5" cy="793.5" rx="0.9" ry="1.6"/><ellipse cx="605.1" cy="790.1" rx="0.9" ry="1.5"/><ellipse cx="605.0" cy="793.4" rx="0.8" ry="1.8"/><ellipse cx="610.6" cy="786.7" rx="0.8" ry="1.9"/><ellipse cx="627.9" cy="790.1" rx="0.9" ry="1.4"/><ellipse cx="627.5" cy="793.4" rx="1.0" ry="1.7"/><ellipse cx="635.1" cy="787.8" rx="0.9" ry="1.8"/><ellipse cx="634.5" cy="791.1" rx="0.9" ry="1.8"/><ellipse cx="648.1" cy="791.4" rx="1.0" ry="1.7"/><ellipse cx="648.0" cy="794.7" rx="0.9" ry="1.8"/><ellipse cx="657.5" cy="787.9" rx="1.0" ry="1.7"/><ellipse cx="669.9" cy="789.5" rx="0.9" ry="1.9"/><ellipse cx="670.1" cy="792.8" rx="0.9" ry="1.8"/><ellipse cx="678.2" cy="789.5" rx="0.9" ry="1.8"/><ellipse cx="678.0" cy="792.8" rx="0.9" ry="1.5"/></g>
</g>
</svg></body></html>
